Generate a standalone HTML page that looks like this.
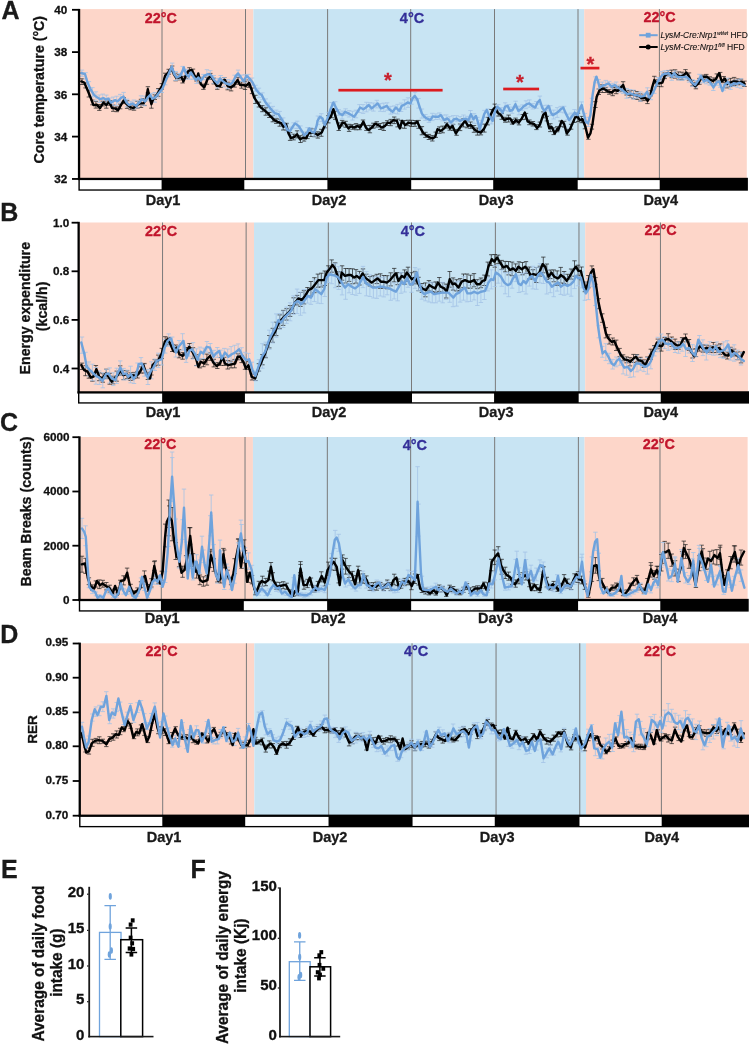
<!DOCTYPE html><html><head><meta charset="utf-8"><title>Figure</title><style>html,body{margin:0;padding:0;background:#fff}svg{will-change:transform;opacity:0.999}</style></head><body><svg width="749" height="1044" viewBox="0 0 749 1044" style="display:block;font-family:'Liberation Sans',sans-serif">
<rect width="749" height="1044" fill="#fff"/>
<g>
<rect x="79.90" y="9.1" width="173.50" height="169.85" fill="#fdd6c9"/>
<rect x="253.40" y="9.1" width="330.80" height="169.85" fill="#c8e4f3"/>
<rect x="584.20" y="9.1" width="162.60" height="169.85" fill="#fdd6c9"/>
<line x1="162.00" y1="9.1" x2="162.00" y2="178.95" stroke="#7a7a7a" stroke-width="1"/>
<line x1="245.50" y1="9.1" x2="245.50" y2="178.95" stroke="#7a7a7a" stroke-width="1"/>
<line x1="327.60" y1="9.1" x2="327.60" y2="178.95" stroke="#7a7a7a" stroke-width="1"/>
<line x1="410.70" y1="9.1" x2="410.70" y2="178.95" stroke="#7a7a7a" stroke-width="1"/>
<line x1="494.50" y1="9.1" x2="494.50" y2="178.95" stroke="#7a7a7a" stroke-width="1"/>
<line x1="578.00" y1="9.1" x2="578.00" y2="178.95" stroke="#7a7a7a" stroke-width="1"/>
<line x1="659.40" y1="9.1" x2="659.40" y2="178.95" stroke="#7a7a7a" stroke-width="1"/>
<text x="160.8" y="22.8" font-size="14.4" font-weight="bold" fill="#c1152c" stroke="#c1152c" stroke-width="0.3" text-anchor="middle" >22°C</text>
<text x="412.0" y="23.2" font-size="14.5" font-weight="bold" fill="#332e98" stroke="#332e98" stroke-width="0.3" text-anchor="middle" >4°C</text>
<text x="659.5" y="21.7" font-size="14.4" font-weight="bold" fill="#c1152c" stroke="#c1152c" stroke-width="0.3" text-anchor="middle" >22°C</text>
<path d="M82.0 78.8V84.5M79.8 78.8h4.4M79.8 84.5h4.4M85.5 82.9V87.9M83.3 82.9h4.4M83.3 87.9h4.4M88.9 90.1V97.0M86.7 90.1h4.4M86.7 97.0h4.4M92.4 100.1V104.8M90.2 100.1h4.4M90.2 104.8h4.4M95.9 101.5V108.1M93.7 101.5h4.4M93.7 108.1h4.4M99.3 104.5V110.4M97.1 104.5h4.4M97.1 110.4h4.4M102.8 101.2V105.9M100.6 101.2h4.4M100.6 105.9h4.4M106.3 101.8V108.2M104.1 101.8h4.4M104.1 108.2h4.4M109.7 100.6V105.3M107.5 100.6h4.4M107.5 105.3h4.4M113.2 105.1V111.3M111.0 105.1h4.4M111.0 111.3h4.4M116.7 106.9V111.7M114.5 106.9h4.4M114.5 111.7h4.4M120.2 104.0V108.8M118.0 104.0h4.4M118.0 108.8h4.4M123.6 97.5V103.6M121.4 97.5h4.4M121.4 103.6h4.4M127.1 100.7V108.4M124.9 100.7h4.4M124.9 108.4h4.4M130.6 104.8V109.7M128.4 104.8h4.4M128.4 109.7h4.4M134.0 104.9V110.2M131.8 104.9h4.4M131.8 110.2h4.4M137.5 101.3V108.1M135.3 101.3h4.4M135.3 108.1h4.4M141.0 99.3V107.5M138.8 99.3h4.4M138.8 107.5h4.4M144.4 98.7V105.4M142.2 98.7h4.4M142.2 105.4h4.4M147.9 86.7V92.7M145.7 86.7h4.4M145.7 92.7h4.4M151.4 100.0V108.2M149.2 100.0h4.4M149.2 108.2h4.4M154.8 94.8V99.5M152.6 94.8h4.4M152.6 99.5h4.4M158.3 88.5V96.3M156.1 88.5h4.4M156.1 96.3h4.4M161.8 83.6V89.2M159.6 83.6h4.4M159.6 89.2h4.4M165.2 73.2V78.3M163.0 73.2h4.4M163.0 78.3h4.4M168.7 69.3V74.2M166.5 69.3h4.4M166.5 74.2h4.4M172.2 66.0V71.6M170.0 66.0h4.4M170.0 71.6h4.4M175.7 73.2V80.8M173.5 73.2h4.4M173.5 80.8h4.4M179.1 74.7V79.9M176.9 74.7h4.4M176.9 79.9h4.4M182.6 76.3V83.0M180.4 76.3h4.4M180.4 83.0h4.4M186.1 71.4V78.4M183.9 71.4h4.4M183.9 78.4h4.4M189.5 67.7V73.6M187.3 67.7h4.4M187.3 73.6h4.4M193.0 69.1V75.7M190.8 69.1h4.4M190.8 75.7h4.4M196.5 76.3V81.0M194.3 76.3h4.4M194.3 81.0h4.4M199.9 78.1V82.8M197.7 78.1h4.4M197.7 82.8h4.4M203.4 84.1V89.4M201.2 84.1h4.4M201.2 89.4h4.4M206.9 77.2V84.3M204.7 77.2h4.4M204.7 84.3h4.4M210.3 73.4V79.5M208.1 73.4h4.4M208.1 79.5h4.4M213.8 78.2V83.9M211.6 78.2h4.4M211.6 83.9h4.4M217.3 82.5V89.3M215.1 82.5h4.4M215.1 89.3h4.4M220.7 81.3V87.5M218.5 81.3h4.4M218.5 87.5h4.4M224.2 77.5V83.1M222.0 77.5h4.4M222.0 83.1h4.4M227.7 82.2V89.8M225.5 82.2h4.4M225.5 89.8h4.4M231.1 83.7V90.9M228.9 83.7h4.4M228.9 90.9h4.4M234.6 81.7V87.1M232.4 81.7h4.4M232.4 87.1h4.4M238.1 77.6V84.3M235.9 77.6h4.4M235.9 84.3h4.4M241.6 81.8V88.2M239.4 81.8h4.4M239.4 88.2h4.4M245.0 81.7V89.5M242.8 81.7h4.4M242.8 89.5h4.4M248.5 80.0V87.3M246.3 80.0h4.4M246.3 87.3h4.4M252.0 88.0V93.6M249.8 88.0h4.4M249.8 93.6h4.4M255.4 95.3V103.5M253.2 95.3h4.4M253.2 103.5h4.4M258.9 102.1V107.0M256.7 102.1h4.4M256.7 107.0h4.4M262.4 105.6V111.7M260.2 105.6h4.4M260.2 111.7h4.4M265.8 107.8V115.2M263.6 107.8h4.4M263.6 115.2h4.4M269.3 112.4V117.5M267.1 112.4h4.4M267.1 117.5h4.4M272.8 115.4V121.8M270.6 115.4h4.4M270.6 121.8h4.4M276.2 118.8V123.4M274.0 118.8h4.4M274.0 123.4h4.4M279.7 119.1V126.2M277.5 119.1h4.4M277.5 126.2h4.4M283.2 122.6V130.0M281.0 122.6h4.4M281.0 130.0h4.4M286.6 123.3V130.0M284.4 123.3h4.4M284.4 130.0h4.4M290.1 132.5V140.4M287.9 132.5h4.4M287.9 140.4h4.4M293.6 134.2V139.9M291.4 134.2h4.4M291.4 139.9h4.4M297.1 130.8V137.9M294.9 130.8h4.4M294.9 137.9h4.4M300.5 135.7V142.5M298.3 135.7h4.4M298.3 142.5h4.4M304.0 134.4V141.1M301.8 134.4h4.4M301.8 141.1h4.4M307.5 132.4V138.6M305.3 132.4h4.4M305.3 138.6h4.4M310.9 128.8V136.5M308.7 128.8h4.4M308.7 136.5h4.4M314.4 128.6V136.7M312.2 128.6h4.4M312.2 136.7h4.4M317.9 131.8V138.1M315.7 131.8h4.4M315.7 138.1h4.4M321.3 129.3V136.3M319.1 129.3h4.4M319.1 136.3h4.4M324.8 123.1V127.9M322.6 123.1h4.4M322.6 127.9h4.4M328.3 115.7V122.9M326.1 115.7h4.4M326.1 122.9h4.4M331.7 110.7V117.7M329.5 110.7h4.4M329.5 117.7h4.4M335.2 111.1V119.4M333.0 111.1h4.4M333.0 119.4h4.4M338.7 122.9V130.5M336.5 122.9h4.4M336.5 130.5h4.4M342.1 120.4V126.0M339.9 120.4h4.4M339.9 126.0h4.4M345.6 121.3V127.3M343.4 121.3h4.4M343.4 127.3h4.4M349.1 124.3V131.4M346.9 124.3h4.4M346.9 131.4h4.4M352.5 124.7V129.3M350.3 124.7h4.4M350.3 129.3h4.4M356.0 123.6V129.8M353.8 123.6h4.4M353.8 129.8h4.4M359.5 124.6V129.7M357.3 124.6h4.4M357.3 129.7h4.4M363.0 120.0V125.0M360.8 120.0h4.4M360.8 125.0h4.4M366.4 125.7V130.4M364.2 125.7h4.4M364.2 130.4h4.4M369.9 125.4V132.8M367.7 125.4h4.4M367.7 132.8h4.4M373.4 123.2V128.2M371.2 123.2h4.4M371.2 128.2h4.4M376.8 121.7V127.1M374.6 121.7h4.4M374.6 127.1h4.4M380.3 123.5V129.5M378.1 123.5h4.4M378.1 129.5h4.4M383.8 122.7V130.5M381.6 122.7h4.4M381.6 130.5h4.4M387.2 120.7V125.5M385.0 120.7h4.4M385.0 125.5h4.4M390.7 119.4V125.7M388.5 119.4h4.4M388.5 125.7h4.4M394.2 117.0V123.6M392.0 117.0h4.4M392.0 123.6h4.4M397.6 119.1V126.9M395.4 119.1h4.4M395.4 126.9h4.4M401.1 120.3V127.9M398.9 120.3h4.4M398.9 127.9h4.4M404.6 120.5V128.3M402.4 120.5h4.4M402.4 128.3h4.4M408.0 120.2V125.7M405.8 120.2h4.4M405.8 125.7h4.4M411.5 120.3V126.4M409.3 120.3h4.4M409.3 126.4h4.4M415.0 120.5V126.3M412.8 120.5h4.4M412.8 126.3h4.4M418.5 120.4V128.3M416.3 120.4h4.4M416.3 128.3h4.4M421.9 126.6V134.8M419.7 126.6h4.4M419.7 134.8h4.4M425.4 132.3V137.4M423.2 132.3h4.4M423.2 137.4h4.4M428.9 134.4V139.5M426.7 134.4h4.4M426.7 139.5h4.4M432.3 135.6V141.0M430.1 135.6h4.4M430.1 141.0h4.4M435.8 132.1V137.4M433.6 132.1h4.4M433.6 137.4h4.4M439.3 126.9V133.3M437.1 126.9h4.4M437.1 133.3h4.4M442.7 126.1V132.8M440.5 126.1h4.4M440.5 132.8h4.4M446.2 122.7V128.1M444.0 122.7h4.4M444.0 128.1h4.4M449.7 125.7V130.2M447.5 125.7h4.4M447.5 130.2h4.4M453.1 124.3V130.4M450.9 124.3h4.4M450.9 130.4h4.4M456.6 129.4V135.3M454.4 129.4h4.4M454.4 135.3h4.4M460.1 124.0V130.6M457.9 124.0h4.4M457.9 130.6h4.4M463.5 118.8V126.9M461.3 118.8h4.4M461.3 126.9h4.4M467.0 120.7V127.8M464.8 120.7h4.4M464.8 127.8h4.4M470.5 122.0V128.4M468.3 122.0h4.4M468.3 128.4h4.4M474.0 125.5V132.3M471.8 125.5h4.4M471.8 132.3h4.4M477.4 128.0V135.1M475.2 128.0h4.4M475.2 135.1h4.4M480.9 130.3V134.9M478.7 130.3h4.4M478.7 134.9h4.4M484.4 124.1V132.1M482.2 124.1h4.4M482.2 132.1h4.4M487.8 117.5V124.9M485.6 117.5h4.4M485.6 124.9h4.4M491.3 109.5V117.3M489.1 109.5h4.4M489.1 117.3h4.4M494.8 104.1V111.6M492.6 104.1h4.4M492.6 111.6h4.4M498.2 110.1V116.1M496.0 110.1h4.4M496.0 116.1h4.4M501.7 113.3V119.3M499.5 113.3h4.4M499.5 119.3h4.4M505.2 117.3V122.2M503.0 117.3h4.4M503.0 122.2h4.4M508.6 115.1V122.0M506.4 115.1h4.4M506.4 122.0h4.4M512.1 119.4V124.1M509.9 119.4h4.4M509.9 124.1h4.4M515.6 118.1V122.9M513.4 118.1h4.4M513.4 122.9h4.4M519.0 119.6V124.9M516.8 119.6h4.4M516.8 124.9h4.4M522.5 114.5V119.6M520.3 114.5h4.4M520.3 119.6h4.4M526.0 113.4V119.2M523.8 113.4h4.4M523.8 119.2h4.4M529.4 120.0V124.7M527.2 120.0h4.4M527.2 124.7h4.4M532.9 121.5V126.0M530.7 121.5h4.4M530.7 126.0h4.4M536.4 124.6V129.6M534.2 124.6h4.4M534.2 129.6h4.4M539.9 122.1V127.0M537.7 122.1h4.4M537.7 127.0h4.4M543.3 111.9V117.8M541.1 111.9h4.4M541.1 117.8h4.4M546.8 116.4V120.9M544.6 116.4h4.4M544.6 120.9h4.4M550.3 123.7V131.6M548.1 123.7h4.4M548.1 131.6h4.4M553.7 127.8V134.6M551.5 127.8h4.4M551.5 134.6h4.4M557.2 126.7V131.8M555.0 126.7h4.4M555.0 131.8h4.4M560.7 121.0V126.4M558.5 121.0h4.4M558.5 126.4h4.4M564.1 121.3V127.1M561.9 121.3h4.4M561.9 127.1h4.4M567.6 129.3V135.2M565.4 129.3h4.4M565.4 135.2h4.4M571.1 124.3V129.2M568.9 124.3h4.4M568.9 129.2h4.4M574.5 114.8V122.5M572.3 114.8h4.4M572.3 122.5h4.4M578.0 113.2V121.5M575.8 113.2h4.4M575.8 121.5h4.4M581.5 116.4V122.7M579.3 116.4h4.4M579.3 122.7h4.4M584.9 122.4V128.8M582.7 122.4h4.4M582.7 128.8h4.4M588.4 134.5V139.3M586.2 134.5h4.4M586.2 139.3h4.4M591.9 124.2V129.1M589.7 124.2h4.4M589.7 129.1h4.4M595.4 101.7V107.5M593.2 101.7h4.4M593.2 107.5h4.4M598.8 89.0V94.5M596.6 89.0h4.4M596.6 94.5h4.4M602.3 84.8V92.5M600.1 84.8h4.4M600.1 92.5h4.4M605.8 87.4V92.5M603.6 87.4h4.4M603.6 92.5h4.4M609.2 89.6V94.2M607.0 89.6h4.4M607.0 94.2h4.4M612.7 87.6V95.7M610.5 87.6h4.4M610.5 95.7h4.4M616.2 87.2V93.7M614.0 87.2h4.4M614.0 93.7h4.4M619.6 86.3V91.3M617.4 86.3h4.4M617.4 91.3h4.4M623.1 81.7V88.3M620.9 81.7h4.4M620.9 88.3h4.4M626.6 90.4V95.0M624.4 90.4h4.4M624.4 95.0h4.4M630.0 90.9V97.5M627.8 90.9h4.4M627.8 97.5h4.4M633.5 90.5V98.7M631.3 90.5h4.4M631.3 98.7h4.4M637.0 91.6V99.4M634.8 91.6h4.4M634.8 99.4h4.4M640.4 93.8V101.0M638.2 93.8h4.4M638.2 101.0h4.4M643.9 95.1V100.6M641.7 95.1h4.4M641.7 100.6h4.4M647.4 97.7V103.6M645.2 97.7h4.4M645.2 103.6h4.4M650.8 90.7V95.8M648.6 90.7h4.4M648.6 95.8h4.4M654.3 76.3V83.7M652.1 76.3h4.4M652.1 83.7h4.4M657.8 79.7V86.2M655.6 79.7h4.4M655.6 86.2h4.4M661.3 79.2V86.7M659.1 79.2h4.4M659.1 86.7h4.4M664.7 72.9V78.6M662.5 72.9h4.4M662.5 78.6h4.4M668.2 70.5V75.9M666.0 70.5h4.4M666.0 75.9h4.4M671.7 70.1V77.7M669.5 70.1h4.4M669.5 77.7h4.4M675.1 69.8V78.1M672.9 69.8h4.4M672.9 78.1h4.4M678.6 71.9V79.7M676.4 71.9h4.4M676.4 79.7h4.4M682.1 72.2V79.8M679.9 72.2h4.4M679.9 79.8h4.4M685.5 69.6V77.2M683.3 69.6h4.4M683.3 77.2h4.4M689.0 72.9V80.2M686.8 72.9h4.4M686.8 80.2h4.4M692.5 80.5V85.9M690.3 80.5h4.4M690.3 85.9h4.4M695.9 82.3V88.8M693.7 82.3h4.4M693.7 88.8h4.4M699.4 78.4V84.3M697.2 78.4h4.4M697.2 84.3h4.4M702.9 75.1V79.7M700.7 75.1h4.4M700.7 79.7h4.4M706.3 74.4V79.0M704.1 74.4h4.4M704.1 79.0h4.4M709.8 76.8V82.4M707.6 76.8h4.4M707.6 82.4h4.4M713.3 77.9V83.4M711.1 77.9h4.4M711.1 83.4h4.4M716.8 73.9V81.0M714.6 73.9h4.4M714.6 81.0h4.4M720.2 72.4V80.5M718.0 72.4h4.4M718.0 80.5h4.4M723.7 76.5V82.7M721.5 76.5h4.4M721.5 82.7h4.4M727.2 79.8V87.9M725.0 79.8h4.4M725.0 87.9h4.4M730.6 78.4V86.6M728.4 78.4h4.4M728.4 86.6h4.4M734.1 77.4V85.6M731.9 77.4h4.4M731.9 85.6h4.4M737.6 78.9V84.8M735.4 78.9h4.4M735.4 84.8h4.4M741.0 79.2V84.6M738.8 79.2h4.4M738.8 84.6h4.4M744.5 81.1V86.5M742.3 81.1h4.4M742.3 86.5h4.4" stroke="#1c1c1c" stroke-width="0.7" fill="none"/>
<path d="M82.0 70.1V76.3M79.8 70.1h4.4M79.8 76.3h4.4M85.5 72.6V78.9M83.3 72.6h4.4M83.3 78.9h4.4M88.9 81.6V89.8M86.7 81.6h4.4M86.7 89.8h4.4M92.4 87.6V97.0M90.2 87.6h4.4M90.2 97.0h4.4M95.9 91.8V100.9M93.7 91.8h4.4M93.7 100.9h4.4M99.3 95.0V102.5M97.1 95.0h4.4M97.1 102.5h4.4M102.8 94.1V102.4M100.6 94.1h4.4M100.6 102.4h4.4M106.3 95.1V104.0M104.1 95.1h4.4M104.1 104.0h4.4M109.7 98.0V103.7M107.5 98.0h4.4M107.5 103.7h4.4M113.2 97.1V105.4M111.0 97.1h4.4M111.0 105.4h4.4M116.7 96.2V105.7M114.5 96.2h4.4M114.5 105.7h4.4M120.2 94.4V103.3M118.0 94.4h4.4M118.0 103.3h4.4M123.6 92.4V101.2M121.4 92.4h4.4M121.4 101.2h4.4M127.1 99.2V106.7M124.9 99.2h4.4M124.9 106.7h4.4M130.6 101.4V107.5M128.4 101.4h4.4M128.4 107.5h4.4M134.0 100.0V108.9M131.8 100.0h4.4M131.8 108.9h4.4M137.5 100.9V107.8M135.3 100.9h4.4M135.3 107.8h4.4M141.0 95.8V104.8M138.8 95.8h4.4M138.8 104.8h4.4M144.4 96.1V105.8M142.2 96.1h4.4M142.2 105.8h4.4M147.9 93.7V100.9M145.7 93.7h4.4M145.7 100.9h4.4M151.4 93.4V100.5M149.2 93.4h4.4M149.2 100.5h4.4M154.8 92.5V102.2M152.6 92.5h4.4M152.6 102.2h4.4M158.3 89.5V98.1M156.1 89.5h4.4M156.1 98.1h4.4M161.8 86.4V92.5M159.6 86.4h4.4M159.6 92.5h4.4M165.2 78.9V84.8M163.0 78.9h4.4M163.0 84.8h4.4M168.7 70.8V76.8M166.5 70.8h4.4M166.5 76.8h4.4M172.2 63.1V72.6M170.0 63.1h4.4M170.0 72.6h4.4M175.7 71.5V80.5M173.5 71.5h4.4M173.5 80.5h4.4M179.1 73.4V79.4M176.9 73.4h4.4M176.9 79.4h4.4M182.6 66.4V75.5M180.4 66.4h4.4M180.4 75.5h4.4M186.1 69.4V79.2M183.9 69.4h4.4M183.9 79.2h4.4M189.5 70.8V79.1M187.3 70.8h4.4M187.3 79.1h4.4M193.0 72.4V79.3M190.8 72.4h4.4M190.8 79.3h4.4M196.5 75.6V83.4M194.3 75.6h4.4M194.3 83.4h4.4M199.9 76.8V82.7M197.7 76.8h4.4M197.7 82.7h4.4M203.4 74.4V79.8M201.2 74.4h4.4M201.2 79.8h4.4M206.9 69.7V79.4M204.7 69.7h4.4M204.7 79.4h4.4M210.3 70.7V79.0M208.1 70.7h4.4M208.1 79.0h4.4M213.8 75.5V83.3M211.6 75.5h4.4M211.6 83.3h4.4M217.3 78.4V88.0M215.1 78.4h4.4M215.1 88.0h4.4M220.7 75.5V82.8M218.5 75.5h4.4M218.5 82.8h4.4M224.2 77.5V86.8M222.0 77.5h4.4M222.0 86.8h4.4M227.7 79.6V88.6M225.5 79.6h4.4M225.5 88.6h4.4M231.1 80.3V86.6M228.9 80.3h4.4M228.9 86.6h4.4M234.6 75.2V81.7M232.4 75.2h4.4M232.4 81.7h4.4M238.1 70.1V76.7M235.9 70.1h4.4M235.9 76.7h4.4M241.6 75.1V81.5M239.4 75.1h4.4M239.4 81.5h4.4M245.0 74.7V82.7M242.8 74.7h4.4M242.8 82.7h4.4M248.5 74.4V80.9M246.3 74.4h4.4M246.3 80.9h4.4M252.0 78.0V85.3M249.8 78.0h4.4M249.8 85.3h4.4M255.4 85.3V91.2M253.2 85.3h4.4M253.2 91.2h4.4M258.9 88.2V97.6M256.7 88.2h4.4M256.7 97.6h4.4M262.4 92.8V99.7M260.2 92.8h4.4M260.2 99.7h4.4M265.8 98.9V106.3M263.6 98.9h4.4M263.6 106.3h4.4M269.3 103.0V111.0M267.1 103.0h4.4M267.1 111.0h4.4M272.8 106.4V115.8M270.6 106.4h4.4M270.6 115.8h4.4M276.2 110.1V117.3M274.0 110.1h4.4M274.0 117.3h4.4M279.7 111.4V120.9M277.5 111.4h4.4M277.5 120.9h4.4M283.2 117.9V125.5M281.0 117.9h4.4M281.0 125.5h4.4M286.6 124.3V132.1M284.4 124.3h4.4M284.4 132.1h4.4M290.1 127.0V134.7M287.9 127.0h4.4M287.9 134.7h4.4M293.6 122.8V128.2M291.4 122.8h4.4M291.4 128.2h4.4M297.1 121.2V128.5M294.9 121.2h4.4M294.9 128.5h4.4M300.5 125.9V132.0M298.3 125.9h4.4M298.3 132.0h4.4M304.0 131.9V137.2M301.8 131.9h4.4M301.8 137.2h4.4M307.5 127.6V136.6M305.3 127.6h4.4M305.3 136.6h4.4M310.9 127.6V133.7M308.7 127.6h4.4M308.7 133.7h4.4M314.4 128.6V136.1M312.2 128.6h4.4M312.2 136.1h4.4M317.9 116.0V124.6M315.7 116.0h4.4M315.7 124.6h4.4M321.3 113.7V121.5M319.1 113.7h4.4M319.1 121.5h4.4M324.8 121.5V128.3M322.6 121.5h4.4M322.6 128.3h4.4M328.3 112.3V120.0M326.1 112.3h4.4M326.1 120.0h4.4M331.7 102.5V110.3M329.5 102.5h4.4M329.5 110.3h4.4M335.2 101.7V110.6M333.0 101.7h4.4M333.0 110.6h4.4M338.7 109.6V115.4M336.5 109.6h4.4M336.5 115.4h4.4M342.1 111.0V118.9M339.9 111.0h4.4M339.9 118.9h4.4M345.6 108.8V115.2M343.4 108.8h4.4M343.4 115.2h4.4M349.1 110.5V117.0M346.9 110.5h4.4M346.9 117.0h4.4M352.5 111.3V120.1M350.3 111.3h4.4M350.3 120.1h4.4M356.0 110.2V117.8M353.8 110.2h4.4M353.8 117.8h4.4M359.5 104.6V112.5M357.3 104.6h4.4M357.3 112.5h4.4M363.0 104.6V113.4M360.8 104.6h4.4M360.8 113.4h4.4M366.4 102.3V111.8M364.2 102.3h4.4M364.2 111.8h4.4M369.9 102.7V110.0M367.7 102.7h4.4M367.7 110.0h4.4M373.4 103.0V111.1M371.2 103.0h4.4M371.2 111.1h4.4M376.8 100.3V107.9M374.6 100.3h4.4M374.6 107.9h4.4M380.3 103.7V111.3M378.1 103.7h4.4M378.1 111.3h4.4M383.8 103.1V111.6M381.6 103.1h4.4M381.6 111.6h4.4M387.2 102.8V110.2M385.0 102.8h4.4M385.0 110.2h4.4M390.7 106.4V114.1M388.5 106.4h4.4M388.5 114.1h4.4M394.2 105.9V113.4M392.0 105.9h4.4M392.0 113.4h4.4M397.6 104.4V114.0M395.4 104.4h4.4M395.4 114.0h4.4M401.1 103.0V111.5M398.9 103.0h4.4M398.9 111.5h4.4M404.6 99.8V109.1M402.4 99.8h4.4M402.4 109.1h4.4M408.0 97.8V107.4M405.8 97.8h4.4M405.8 107.4h4.4M411.5 97.7V104.2M409.3 97.7h4.4M409.3 104.2h4.4M415.0 92.2V100.1M412.8 92.2h4.4M412.8 100.1h4.4M418.5 98.5V108.1M416.3 98.5h4.4M416.3 108.1h4.4M421.9 109.0V118.1M419.7 109.0h4.4M419.7 118.1h4.4M425.4 114.5V120.4M423.2 114.5h4.4M423.2 120.4h4.4M428.9 116.5V122.4M426.7 116.5h4.4M426.7 122.4h4.4M432.3 113.3V120.6M430.1 113.3h4.4M430.1 120.6h4.4M435.8 113.9V119.5M433.6 113.9h4.4M433.6 119.5h4.4M439.3 112.9V119.3M437.1 112.9h4.4M437.1 119.3h4.4M442.7 115.1V120.8M440.5 115.1h4.4M440.5 120.8h4.4M446.2 114.9V123.3M444.0 114.9h4.4M444.0 123.3h4.4M449.7 116.6V125.5M447.5 116.6h4.4M447.5 125.5h4.4M453.1 115.6V125.0M450.9 115.6h4.4M450.9 125.0h4.4M456.6 115.7V121.7M454.4 115.7h4.4M454.4 121.7h4.4M460.1 116.6V125.2M457.9 116.6h4.4M457.9 125.2h4.4M463.5 115.0V123.3M461.3 115.0h4.4M461.3 123.3h4.4M467.0 116.3V122.3M464.8 116.3h4.4M464.8 122.3h4.4M470.5 110.5V119.9M468.3 110.5h4.4M468.3 119.9h4.4M474.0 113.6V123.3M471.8 113.6h4.4M471.8 123.3h4.4M477.4 117.4V123.7M475.2 117.4h4.4M475.2 123.7h4.4M480.9 120.4V130.1M478.7 120.4h4.4M478.7 130.1h4.4M484.4 110.4V117.5M482.2 110.4h4.4M482.2 117.5h4.4M487.8 108.9V116.4M485.6 108.9h4.4M485.6 116.4h4.4M491.3 114.1V123.9M489.1 114.1h4.4M489.1 123.9h4.4M494.8 107.7V116.8M492.6 107.7h4.4M492.6 116.8h4.4M498.2 104.6V110.7M496.0 104.6h4.4M496.0 110.7h4.4M501.7 107.7V115.0M499.5 107.7h4.4M499.5 115.0h4.4M505.2 102.8V110.5M503.0 102.8h4.4M503.0 110.5h4.4M508.6 104.5V111.4M506.4 104.5h4.4M506.4 111.4h4.4M512.1 107.1V113.3M509.9 107.1h4.4M509.9 113.3h4.4M515.6 101.2V108.0M513.4 101.2h4.4M513.4 108.0h4.4M519.0 106.2V114.8M516.8 106.2h4.4M516.8 114.8h4.4M522.5 104.9V110.3M520.3 104.9h4.4M520.3 110.3h4.4M526.0 100.8V108.7M523.8 100.8h4.4M523.8 108.7h4.4M529.4 99.9V107.2M527.2 99.9h4.4M527.2 107.2h4.4M532.9 103.6V109.0M530.7 103.6h4.4M530.7 109.0h4.4M536.4 101.5V108.3M534.2 101.5h4.4M534.2 108.3h4.4M539.9 96.1V104.3M537.7 96.1h4.4M537.7 104.3h4.4M543.3 105.6V113.2M541.1 105.6h4.4M541.1 113.2h4.4M546.8 105.2V110.8M544.6 105.2h4.4M544.6 110.8h4.4M550.3 105.7V115.5M548.1 105.7h4.4M548.1 115.5h4.4M553.7 110.1V119.0M551.5 110.1h4.4M551.5 119.0h4.4M557.2 107.6V117.4M555.0 107.6h4.4M555.0 117.4h4.4M560.7 106.4V112.2M558.5 106.4h4.4M558.5 112.2h4.4M564.1 106.3V112.8M561.9 106.3h4.4M561.9 112.8h4.4M567.6 114.2V119.7M565.4 114.2h4.4M565.4 119.7h4.4M571.1 113.1V122.0M568.9 113.1h4.4M568.9 122.0h4.4M574.5 109.5V116.1M572.3 109.5h4.4M572.3 116.1h4.4M578.0 110.8V116.7M575.8 110.8h4.4M575.8 116.7h4.4M581.5 101.9V109.2M579.3 101.9h4.4M579.3 109.2h4.4M584.9 113.4V122.8M582.7 113.4h4.4M582.7 122.8h4.4M588.4 117.4V126.5M586.2 117.4h4.4M586.2 126.5h4.4M591.9 98.3V104.8M589.7 98.3h4.4M589.7 104.8h4.4M595.4 76.8V82.8M593.2 76.8h4.4M593.2 82.8h4.4M598.8 79.6V89.1M596.6 79.6h4.4M596.6 89.1h4.4M602.3 82.1V90.0M600.1 82.1h4.4M600.1 90.0h4.4M605.8 80.4V88.9M603.6 80.4h4.4M603.6 88.9h4.4M609.2 81.4V87.1M607.0 81.4h4.4M607.0 87.1h4.4M612.7 83.3V88.9M610.5 83.3h4.4M610.5 88.9h4.4M616.2 82.0V90.5M614.0 82.0h4.4M614.0 90.5h4.4M619.6 84.9V92.2M617.4 84.9h4.4M617.4 92.2h4.4M623.1 88.0V93.6M620.9 88.0h4.4M620.9 93.6h4.4M626.6 88.6V98.2M624.4 88.6h4.4M624.4 98.2h4.4M630.0 89.5V97.7M627.8 89.5h4.4M627.8 97.7h4.4M633.5 90.1V99.1M631.3 90.1h4.4M631.3 99.1h4.4M637.0 92.5V98.2M634.8 92.5h4.4M634.8 98.2h4.4M640.4 91.9V101.1M638.2 91.9h4.4M638.2 101.1h4.4M643.9 93.2V98.8M641.7 93.2h4.4M641.7 98.8h4.4M647.4 87.8V97.1M645.2 87.8h4.4M645.2 97.1h4.4M650.8 92.3V99.7M648.6 92.3h4.4M648.6 99.7h4.4M654.3 86.5V93.4M652.1 86.5h4.4M652.1 93.4h4.4M657.8 77.5V85.3M655.6 77.5h4.4M655.6 85.3h4.4M661.3 71.6V81.2M659.1 71.6h4.4M659.1 81.2h4.4M664.7 70.8V77.3M662.5 70.8h4.4M662.5 77.3h4.4M668.2 70.4V76.3M666.0 70.4h4.4M666.0 76.3h4.4M671.7 72.6V80.3M669.5 72.6h4.4M669.5 80.3h4.4M675.1 71.0V77.4M672.9 71.0h4.4M672.9 77.4h4.4M678.6 74.1V79.9M676.4 74.1h4.4M676.4 79.9h4.4M682.1 74.3V80.3M679.9 74.3h4.4M679.9 80.3h4.4M685.5 74.0V79.6M683.3 74.0h4.4M683.3 79.6h4.4M689.0 75.9V82.1M686.8 75.9h4.4M686.8 82.1h4.4M692.5 79.6V86.4M690.3 79.6h4.4M690.3 86.4h4.4M695.9 80.5V87.2M693.7 80.5h4.4M693.7 87.2h4.4M699.4 74.3V83.0M697.2 74.3h4.4M697.2 83.0h4.4M702.9 76.2V82.8M700.7 76.2h4.4M700.7 82.8h4.4M706.3 76.2V83.8M704.1 76.2h4.4M704.1 83.8h4.4M709.8 79.0V85.1M707.6 79.0h4.4M707.6 85.1h4.4M713.3 83.6V90.5M711.1 83.6h4.4M711.1 90.5h4.4M716.8 79.9V85.3M714.6 79.9h4.4M714.6 85.3h4.4M720.2 80.9V87.3M718.0 80.9h4.4M718.0 87.3h4.4M723.7 84.8V90.2M721.5 84.8h4.4M721.5 90.2h4.4M727.2 78.2V86.9M725.0 78.2h4.4M725.0 86.9h4.4M730.6 81.6V89.4M728.4 81.6h4.4M728.4 89.4h4.4M734.1 80.3V86.5M731.9 80.3h4.4M731.9 86.5h4.4M737.6 79.8V87.3M735.4 79.8h4.4M735.4 87.3h4.4M741.0 78.8V88.3M738.8 78.8h4.4M738.8 88.3h4.4" stroke="#a3c3e6" stroke-width="0.8" fill="none"/>
<path d="M81.3 81.4L84.2 82.5L87.5 90.0L90.9 98.4L93.4 105.1L96.7 104.7L100.0 108.1L103.4 102.6L106.4 105.1L109.2 101.7L112.0 108.1L115.1 108.4L118.1 110.1L120.9 105.1L123.7 100.4L126.7 104.2L130.1 107.1L133.4 108.1L136.7 105.1L140.1 103.4L143.4 103.4L145.9 100.1L147.8 89.2L149.3 96.7L151.4 104.2L153.4 98.7L156.8 95.1L160.1 89.2L162.6 85.0L165.1 75.9L167.6 73.4L169.3 70.9L171.8 67.5L173.8 74.2L176.0 77.5L178.5 77.5L181.0 76.7L183.5 81.4L186.0 75.0L188.5 70.9L191.8 70.0L194.3 75.0L196.8 79.2L198.3 73.4L200.8 84.2L204.2 87.5L207.5 79.2L210.9 75.9L214.2 81.7L216.7 85.9L220.0 85.9L222.5 80.9L225.0 80.0L227.5 85.9L230.9 87.5L234.2 85.0L237.6 80.0L240.1 85.0L243.4 85.0L245.9 85.9L249.2 83.0L251.7 90.0L254.2 97.6L257.6 102.6L260.9 107.6L264.3 110.1L267.6 113.1L270.9 116.7L274.3 120.1L277.6 121.8L280.9 123.1L283.5 126.8L286.0 124.3L288.5 133.4L291.0 138.1L294.3 136.8L297.1 134.3L300.1 139.3L303.5 137.6L306.0 138.4L308.5 133.4L311.0 132.6L314.3 132.6L317.7 135.1L321.7 132.6L324.2 126.7L327.5 120.1L330.9 116.7L333.4 109.2L335.9 117.6L339.2 128.4L342.5 122.6L345.0 123.4L348.4 128.4L350.9 126.4L354.2 127.6L357.6 125.9L360.1 127.6L363.4 121.7L365.9 127.6L368.7 130.1L371.7 127.6L375.1 123.7L378.4 125.1L381.8 127.6L385.1 125.9L387.6 122.6L390.1 123.1L393.4 120.1L396.8 120.9L399.8 128.4L402.1 120.9L405.1 125.1L408.5 122.6L411.8 123.4L415.1 123.4L417.1 121.7L420.1 127.6L423.5 133.4L426.8 135.9L430.2 137.6L432.7 138.4L435.2 136.7L437.5 129.2L440.8 130.9L444.2 128.4L447.0 124.2L450.0 128.4L452.5 125.9L455.9 133.4L459.2 128.4L462.5 124.2L465.0 120.9L468.0 125.9L470.9 125.1L474.2 129.2L477.6 131.7L480.9 132.6L484.2 128.4L487.6 121.7L490.9 114.2L493.4 109.2L495.1 107.5L497.6 112.6L500.9 115.1L504.3 120.1L507.6 118.7L510.1 118.4L513.1 123.4L515.9 120.1L518.8 122.6L521.8 118.4L524.8 112.6L527.6 121.4L531.0 123.1L534.3 124.2L537.1 128.1L540.1 124.2L543.1 115.1L545.5 112.6L547.1 120.1L549.3 128.4L551.5 126.7L554.8 133.4L557.7 128.4L558.3 130.1L561.7 120.9L564.2 124.3L566.7 133.4L570.0 129.3L572.5 123.4L575.0 117.6L577.5 116.7L580.0 120.1L582.5 119.2L585.4 126.8L588.0 137.6L590.4 133.4L592.6 123.4L594.7 108.4L596.7 96.7L599.2 90.9L602.6 88.4L605.9 90.0L608.4 91.7L611.7 92.5L614.7 90.0L617.6 90.9L620.9 87.5L623.1 85.0L625.4 91.7L628.4 94.2L631.8 94.2L635.1 95.0L638.4 95.9L641.8 98.4L645.1 97.6L647.6 100.9L650.1 96.7L652.1 87.5L654.3 80.0L656.5 82.5L659.3 83.4L662.4 82.7L664.8 75.5L667.7 73.2L670.7 73.2L673.1 75.0L675.4 73.8L677.8 75.5L680.8 76.7L683.8 75.0L686.4 72.6L689.1 76.7L691.5 82.1L695.1 86.2L698.0 83.9L701.0 78.5L704.0 76.7L706.9 76.7L709.9 79.7L712.9 80.9L715.8 79.1L719.2 73.2L721.8 81.5L724.8 78.5L727.1 83.9L730.1 82.7L733.1 81.5L736.0 81.5L739.0 82.1L742.0 81.8L744.6 83.9" stroke="#000" stroke-width="2.4" fill="none" stroke-linejoin="round" stroke-linecap="round"/>
<path d="M81.3 73.0L85.0 74.2L87.5 82.5L90.9 90.0L94.2 95.1L97.5 97.6L100.0 99.2L103.4 98.1L105.9 99.7L108.4 98.7L110.9 102.6L115.1 100.1L117.6 101.4L120.9 98.1L123.4 96.4L126.7 102.6L129.2 105.1L132.6 103.4L135.9 105.9L139.3 102.6L141.8 99.2L145.1 101.4L147.6 97.6L150.1 95.1L152.6 98.7L155.9 96.7L159.3 92.6L162.6 88.4L166.0 80.0L169.3 72.5L171.8 66.7L174.3 74.2L176.8 77.5L180.1 75.9L182.6 70.9L183.8 67.5L186.0 74.2L188.5 76.7L191.0 72.5L193.5 76.7L196.0 80.0L198.3 77.5L200.8 80.9L204.2 75.9L207.5 74.2L210.9 75.0L214.2 80.0L217.5 83.4L220.0 78.4L222.5 80.9L225.9 83.4L229.2 84.7L232.6 82.5L235.9 75.9L238.1 73.4L240.9 77.5L243.7 80.9L246.7 75.9L250.1 79.2L252.6 82.5L255.9 89.2L259.3 93.4L261.8 95.1L265.1 101.7L268.4 105.9L271.8 110.1L275.1 113.4L278.4 114.2L281.8 119.3L285.1 125.1L287.6 130.1L290.1 130.9L292.6 126.8L295.1 123.4L298.5 125.9L301.8 130.9L304.3 135.1L306.8 133.4L309.3 128.4L311.8 131.8L314.3 132.6L316.8 125.1L317.5 120.9L320.0 116.7L322.5 118.4L324.7 125.1L327.5 118.4L330.9 108.4L333.4 102.5L335.9 107.5L339.2 113.4L342.5 115.1L345.0 111.7L348.4 113.4L350.9 114.7L354.2 116.7L357.6 111.7L360.1 107.5L363.4 109.2L365.9 107.5L368.7 105.0L371.7 108.4L374.7 105.9L377.6 103.4L380.9 108.4L383.4 107.5L386.8 105.9L389.3 109.2L392.6 111.7L395.9 107.5L399.3 110.9L401.8 105.9L405.1 104.2L407.6 102.5L410.5 103.4L412.6 98.4L414.8 95.9L417.1 99.2L419.3 105.9L421.8 113.4L424.3 116.7L426.8 118.4L430.2 120.1L432.7 116.4L435.2 116.7L438.3 116.7L440.8 115.1L444.2 120.1L447.5 118.4L450.9 122.6L454.2 119.2L456.7 118.7L460.0 120.9L463.4 119.2L465.9 118.7L468.4 120.1L470.9 114.2L473.4 119.2L475.9 115.9L478.1 122.6L479.7 129.2L481.7 122.6L484.2 114.2L486.7 110.0L489.2 115.9L492.6 120.9L495.1 110.9L497.1 106.7L500.1 109.2L502.6 112.6L505.1 106.7L507.6 105.9L510.1 110.9L512.6 110.0L515.4 104.2L518.4 110.9L520.9 109.2L524.3 105.9L526.8 104.2L529.3 103.4L532.1 105.9L535.1 107.5L537.6 102.5L539.8 100.0L542.1 107.5L544.3 110.9L546.5 108.4L548.5 105.9L551.0 112.6L552.7 115.1L556.0 113.4L558.3 111.7L560.8 109.2L563.3 107.6L565.8 113.4L569.2 120.1L571.7 116.7L574.7 112.6L577.5 115.1L580.0 108.4L581.7 105.1L583.7 113.4L585.9 121.7L588.0 123.4L590.4 115.1L592.6 95.0L594.7 81.7L596.4 76.7L598.1 81.7L599.7 87.5L602.6 85.9L605.1 85.0L608.4 83.4L611.7 86.7L614.7 85.0L617.6 87.5L620.9 89.2L624.3 91.7L627.6 94.2L630.9 93.4L634.3 95.0L637.6 95.4L640.9 96.7L644.3 95.9L647.1 91.7L649.3 97.6L651.8 95.0L655.1 88.4L657.6 81.7L661.0 76.7L663.0 74.4L665.9 73.8L668.9 73.2L671.9 76.7L674.3 73.2L677.2 76.7L680.2 77.3L683.2 77.3L686.1 76.7L689.1 79.1L692.1 82.7L695.1 85.1L698.0 80.9L701.0 76.1L704.0 81.5L706.9 79.7L709.9 82.1L713.5 87.4L716.4 82.7L719.4 81.5L722.4 91.0L724.8 84.5L727.7 82.1L730.7 85.6L733.7 83.3L736.6 83.9L739.6 82.7L742.6 84.5L744.4 85.6" stroke="#6fa3dc" stroke-width="2.4" fill="none" stroke-linejoin="round" stroke-linecap="round"/>
<rect x="77.90" y="8.9" width="2.3" height="171.04999999999998" fill="#000"/>
<rect x="78.40" y="177.79999999999998" width="669.50" height="12.9" fill="#000"/>
<rect x="77.90" y="177.79999999999998" width="2" height="2.3" fill="#000"/>
<rect x="79.80" y="180.10" width="81.80" height="9.25" fill="#fff"/>
<rect x="244.30" y="180.10" width="83.10" height="9.25" fill="#fff"/>
<rect x="411.20" y="180.10" width="82.00" height="9.25" fill="#fff"/>
<rect x="577.70" y="180.10" width="82.00" height="9.25" fill="#fff"/>
<rect x="72.00" y="8.9" width="6.5" height="1.8" fill="#000"/>
<text x="67.3" y="14.0" font-size="11.7" font-weight="bold" fill="#111" stroke="#111" stroke-width="0.3" text-anchor="end" >40</text>
<rect x="72.00" y="51.2" width="6.5" height="1.8" fill="#000"/>
<text x="67.3" y="56.300000000000004" font-size="11.7" font-weight="bold" fill="#111" stroke="#111" stroke-width="0.3" text-anchor="end" >38</text>
<rect x="72.00" y="93.39999999999999" width="6.5" height="1.8" fill="#000"/>
<text x="67.3" y="98.5" font-size="11.7" font-weight="bold" fill="#111" stroke="#111" stroke-width="0.3" text-anchor="end" >36</text>
<rect x="72.00" y="135.7" width="6.5" height="1.8" fill="#000"/>
<text x="67.3" y="140.79999999999998" font-size="11.7" font-weight="bold" fill="#111" stroke="#111" stroke-width="0.3" text-anchor="end" >34</text>
<rect x="72.00" y="178.04999999999998" width="6.5" height="1.8" fill="#000"/>
<text x="67.3" y="183.14999999999998" font-size="11.7" font-weight="bold" fill="#111" stroke="#111" stroke-width="0.3" text-anchor="end" >32</text>
<text x="0" y="0" font-size="14.2" font-weight="bold" fill="#111" stroke="#111" stroke-width="0.3" text-anchor="middle" transform="translate(43.7,89.7) rotate(-90)">Core temperature (°C)</text>
<text x="1.5" y="18.7" font-size="25" font-weight="bold" fill="#1a1a1a" stroke="#1a1a1a" stroke-width="0.3" text-anchor="start" >A</text>
<text x="163" y="205.4" font-size="14.5" font-weight="bold" fill="#1a1a1a" stroke="#1a1a1a" stroke-width="0.3" text-anchor="middle" >Day1</text>
<text x="329" y="205.4" font-size="14.5" font-weight="bold" fill="#1a1a1a" stroke="#1a1a1a" stroke-width="0.3" text-anchor="middle" >Day2</text>
<text x="496.2" y="205.4" font-size="14.5" font-weight="bold" fill="#1a1a1a" stroke="#1a1a1a" stroke-width="0.3" text-anchor="middle" >Day3</text>
<text x="660.8" y="205.4" font-size="14.5" font-weight="bold" fill="#1a1a1a" stroke="#1a1a1a" stroke-width="0.3" text-anchor="middle" >Day4</text>
</g>
<g>
<rect x="79.50" y="222.5" width="174.54" height="169.89999999999998" fill="#fdd6c9"/>
<rect x="254.04" y="222.5" width="331.13" height="169.89999999999998" fill="#c8e4f3"/>
<rect x="585.17" y="222.5" width="162.76" height="169.89999999999998" fill="#fdd6c9"/>
<line x1="162.55" y1="222.5" x2="162.55" y2="392.4" stroke="#7a7a7a" stroke-width="1"/>
<line x1="246.13" y1="222.5" x2="246.13" y2="392.4" stroke="#7a7a7a" stroke-width="1"/>
<line x1="328.32" y1="222.5" x2="328.32" y2="392.4" stroke="#7a7a7a" stroke-width="1"/>
<line x1="411.50" y1="222.5" x2="411.50" y2="392.4" stroke="#7a7a7a" stroke-width="1"/>
<line x1="495.38" y1="222.5" x2="495.38" y2="392.4" stroke="#7a7a7a" stroke-width="1"/>
<line x1="578.97" y1="222.5" x2="578.97" y2="392.4" stroke="#7a7a7a" stroke-width="1"/>
<line x1="660.45" y1="222.5" x2="660.45" y2="392.4" stroke="#7a7a7a" stroke-width="1"/>
<text x="161.1" y="236.0" font-size="14.4" font-weight="bold" fill="#c1152c" stroke="#c1152c" stroke-width="0.3" text-anchor="middle" >22°C</text>
<text x="412.8" y="235.8" font-size="14.5" font-weight="bold" fill="#332e98" stroke="#332e98" stroke-width="0.3" text-anchor="middle" >4°C</text>
<text x="660.6" y="234.7" font-size="14.4" font-weight="bold" fill="#c1152c" stroke="#c1152c" stroke-width="0.3" text-anchor="middle" >22°C</text>
<path d="M82.0 363.1V369.5M79.8 363.1h4.4M79.8 369.5h4.4M85.5 365.7V375.7M83.3 365.7h4.4M83.3 375.7h4.4M88.9 370.2V378.2M86.7 370.2h4.4M86.7 378.2h4.4M92.4 372.9V381.2M90.2 372.9h4.4M90.2 381.2h4.4M95.9 365.5V375.6M93.7 365.5h4.4M93.7 375.6h4.4M99.3 372.8V380.7M97.1 372.8h4.4M97.1 380.7h4.4M102.8 373.7V382.2M100.6 373.7h4.4M100.6 382.2h4.4M106.3 369.2V378.6M104.1 369.2h4.4M104.1 378.6h4.4M109.7 373.3V384.2M107.5 373.3h4.4M107.5 384.2h4.4M113.2 376.2V383.8M111.0 376.2h4.4M111.0 383.8h4.4M116.7 371.1V381.2M114.5 371.1h4.4M114.5 381.2h4.4M120.2 365.8V375.3M118.0 365.8h4.4M118.0 375.3h4.4M123.6 370.5V379.6M121.4 370.5h4.4M121.4 379.6h4.4M127.1 370.8V378.7M124.9 370.8h4.4M124.9 378.7h4.4M130.6 372.8V380.4M128.4 372.8h4.4M128.4 380.4h4.4M134.0 372.4V378.6M131.8 372.4h4.4M131.8 378.6h4.4M137.5 371.4V378.0M135.3 371.4h4.4M135.3 378.0h4.4M141.0 366.8V373.1M138.8 366.8h4.4M138.8 373.1h4.4M144.4 363.4V373.0M142.2 363.4h4.4M142.2 373.0h4.4M147.9 372.3V379.5M145.7 372.3h4.4M145.7 379.5h4.4M151.4 368.3V375.0M149.2 368.3h4.4M149.2 375.0h4.4M154.8 359.7V366.0M152.6 359.7h4.4M152.6 366.0h4.4M158.3 355.1V365.2M156.1 355.1h4.4M156.1 365.2h4.4M161.8 348.3V358.6M159.6 348.3h4.4M159.6 358.6h4.4M165.2 336.7V345.9M163.0 336.7h4.4M163.0 345.9h4.4M168.7 337.4V344.7M166.5 337.4h4.4M166.5 344.7h4.4M172.2 344.4V351.5M170.0 344.4h4.4M170.0 351.5h4.4M175.7 345.0V352.4M173.5 345.0h4.4M173.5 352.4h4.4M179.1 349.6V357.8M176.9 349.6h4.4M176.9 357.8h4.4M182.6 352.6V359.2M180.4 352.6h4.4M180.4 359.2h4.4M186.1 347.5V355.7M183.9 347.5h4.4M183.9 355.7h4.4M189.5 343.5V350.7M187.3 343.5h4.4M187.3 350.7h4.4M193.0 347.7V358.4M190.8 347.7h4.4M190.8 358.4h4.4M196.5 354.7V365.5M194.3 354.7h4.4M194.3 365.5h4.4M199.9 359.2V367.9M197.7 359.2h4.4M197.7 367.9h4.4M203.4 359.5V366.7M201.2 359.5h4.4M201.2 366.7h4.4M206.9 354.1V364.8M204.7 354.1h4.4M204.7 364.8h4.4M210.3 352.9V360.4M208.1 352.9h4.4M208.1 360.4h4.4M213.8 359.3V366.9M211.6 359.3h4.4M211.6 366.9h4.4M217.3 362.6V368.5M215.1 362.6h4.4M215.1 368.5h4.4M220.7 357.6V365.4M218.5 357.6h4.4M218.5 365.4h4.4M224.2 357.3V365.5M222.0 357.3h4.4M222.0 365.5h4.4M227.7 360.6V369.0M225.5 360.6h4.4M225.5 369.0h4.4M231.1 361.0V367.9M228.9 361.0h4.4M228.9 367.9h4.4M234.6 359.4V367.8M232.4 359.4h4.4M232.4 367.8h4.4M238.1 353.8V359.8M235.9 353.8h4.4M235.9 359.8h4.4M241.6 355.4V362.6M239.4 355.4h4.4M239.4 362.6h4.4M245.0 363.0V369.3M242.8 363.0h4.4M242.8 369.3h4.4M248.5 361.6V369.5M246.3 361.6h4.4M246.3 369.5h4.4M252.0 373.9V380.0M249.8 373.9h4.4M249.8 380.0h4.4M255.4 374.5V380.5M253.2 374.5h4.4M253.2 380.5h4.4M258.9 363.7V371.1M256.7 363.7h4.4M256.7 371.1h4.4M262.4 354.6V364.8M260.2 354.6h4.4M260.2 364.8h4.4M265.8 344.9V357.7M263.6 344.9h4.4M263.6 357.7h4.4M269.3 335.5V347.9M267.1 335.5h4.4M267.1 347.9h4.4M272.8 328.3V342.3M270.6 328.3h4.4M270.6 342.3h4.4M276.2 322.2V335.6M274.0 322.2h4.4M274.0 335.6h4.4M279.7 314.9V328.7M277.5 314.9h4.4M277.5 328.7h4.4M283.2 310.4V325.4M281.0 310.4h4.4M281.0 325.4h4.4M286.6 308.7V320.1M284.4 308.7h4.4M284.4 320.1h4.4M290.1 305.5V316.4M287.9 305.5h4.4M287.9 316.4h4.4M293.6 297.8V313.5M291.4 297.8h4.4M291.4 313.5h4.4M297.1 295.4V305.0M294.9 295.4h4.4M294.9 305.0h4.4M300.5 292.5V306.4M298.3 292.5h4.4M298.3 306.4h4.4M304.0 290.7V303.9M301.8 290.7h4.4M301.8 303.9h4.4M307.5 287.5V296.3M305.3 287.5h4.4M305.3 296.3h4.4M310.9 281.5V296.2M308.7 281.5h4.4M308.7 296.2h4.4M314.4 277.7V292.7M312.2 277.7h4.4M312.2 292.7h4.4M317.9 274.1V287.2M315.7 274.1h4.4M315.7 287.2h4.4M321.3 273.2V287.0M319.1 273.2h4.4M319.1 287.0h4.4M324.8 271.0V285.5M322.6 271.0h4.4M322.6 285.5h4.4M328.3 265.8V275.3M326.1 265.8h4.4M326.1 275.3h4.4M331.7 259.9V272.2M329.5 259.9h4.4M329.5 272.2h4.4M335.2 262.9V275.1M333.0 262.9h4.4M333.0 275.1h4.4M338.7 271.7V286.4M336.5 271.7h4.4M336.5 286.4h4.4M342.1 265.8V280.2M339.9 265.8h4.4M339.9 280.2h4.4M345.6 268.5V283.0M343.4 268.5h4.4M343.4 283.0h4.4M349.1 268.6V281.4M346.9 268.6h4.4M346.9 281.4h4.4M352.5 268.8V283.8M350.3 268.8h4.4M350.3 283.8h4.4M356.0 269.6V283.1M353.8 269.6h4.4M353.8 283.1h4.4M359.5 271.4V285.0M357.3 271.4h4.4M357.3 285.0h4.4M363.0 268.9V279.1M360.8 268.9h4.4M360.8 279.1h4.4M366.4 274.2V283.0M364.2 274.2h4.4M364.2 283.0h4.4M369.9 276.5V286.0M367.7 276.5h4.4M367.7 286.0h4.4M373.4 275.8V287.0M371.2 275.8h4.4M371.2 287.0h4.4M376.8 274.3V283.6M374.6 274.3h4.4M374.6 283.6h4.4M380.3 273.8V288.4M378.1 273.8h4.4M378.1 288.4h4.4M383.8 275.5V288.1M381.6 275.5h4.4M381.6 288.1h4.4M387.2 275.7V288.8M385.0 275.7h4.4M385.0 288.8h4.4M390.7 272.8V285.9M388.5 272.8h4.4M388.5 285.9h4.4M394.2 268.4V281.9M392.0 268.4h4.4M392.0 281.9h4.4M397.6 272.6V284.7M395.4 272.6h4.4M395.4 284.7h4.4M401.1 272.6V281.2M398.9 272.6h4.4M398.9 281.2h4.4M404.6 269.9V284.2M402.4 269.9h4.4M402.4 284.2h4.4M408.0 267.2V281.2M405.8 267.2h4.4M405.8 281.2h4.4M411.5 272.7V284.9M409.3 272.7h4.4M409.3 284.9h4.4M415.0 271.4V283.9M412.8 271.4h4.4M412.8 283.9h4.4M418.5 277.3V290.7M416.3 277.3h4.4M416.3 290.7h4.4M421.9 283.5V292.5M419.7 283.5h4.4M419.7 292.5h4.4M425.4 282.9V296.8M423.2 282.9h4.4M423.2 296.8h4.4M428.9 280.6V291.0M426.7 280.6h4.4M426.7 291.0h4.4M432.3 282.4V291.5M430.1 282.4h4.4M430.1 291.5h4.4M435.8 281.9V292.4M433.6 281.9h4.4M433.6 292.4h4.4M439.3 277.5V291.4M437.1 277.5h4.4M437.1 291.4h4.4M442.7 282.7V292.7M440.5 282.7h4.4M440.5 292.7h4.4M446.2 284.1V298.0M444.0 284.1h4.4M444.0 298.0h4.4M449.7 271.5V287.2M447.5 271.5h4.4M447.5 287.2h4.4M453.1 277.9V290.1M450.9 277.9h4.4M450.9 290.1h4.4M456.6 279.7V291.0M454.4 279.7h4.4M454.4 291.0h4.4M460.1 278.6V290.6M457.9 278.6h4.4M457.9 290.6h4.4M463.5 274.0V287.6M461.3 274.0h4.4M461.3 287.6h4.4M467.0 274.0V288.1M464.8 274.0h4.4M464.8 288.1h4.4M470.5 275.2V288.2M468.3 275.2h4.4M468.3 288.2h4.4M474.0 273.6V286.8M471.8 273.6h4.4M471.8 286.8h4.4M477.4 279.7V288.7M475.2 279.7h4.4M475.2 288.7h4.4M480.9 278.0V287.7M478.7 278.0h4.4M478.7 287.7h4.4M484.4 275.1V285.5M482.2 275.1h4.4M482.2 285.5h4.4M487.8 262.1V276.0M485.6 262.1h4.4M485.6 276.0h4.4M491.3 254.7V265.5M489.1 254.7h4.4M489.1 265.5h4.4M494.8 254.5V267.2M492.6 254.5h4.4M492.6 267.2h4.4M498.2 255.1V263.7M496.0 255.1h4.4M496.0 263.7h4.4M501.7 260.4V269.4M499.5 260.4h4.4M499.5 269.4h4.4M505.2 261.4V271.9M503.0 261.4h4.4M503.0 271.9h4.4M508.6 261.5V274.9M506.4 261.5h4.4M506.4 274.9h4.4M512.1 262.1V275.7M509.9 262.1h4.4M509.9 275.7h4.4M515.6 263.9V277.3M513.4 263.9h4.4M513.4 277.3h4.4M519.0 261.8V272.5M516.8 261.8h4.4M516.8 272.5h4.4M522.5 262.5V274.8M520.3 262.5h4.4M520.3 274.8h4.4M526.0 261.6V273.5M523.8 261.6h4.4M523.8 273.5h4.4M529.4 267.0V278.9M527.2 267.0h4.4M527.2 278.9h4.4M532.9 269.7V279.1M530.7 269.7h4.4M530.7 279.1h4.4M536.4 267.5V282.5M534.2 267.5h4.4M534.2 282.5h4.4M539.9 266.2V276.2M537.7 266.2h4.4M537.7 276.2h4.4M543.3 257.1V272.8M541.1 257.1h4.4M541.1 272.8h4.4M546.8 264.0V279.4M544.6 264.0h4.4M544.6 279.4h4.4M550.3 270.0V278.6M548.1 270.0h4.4M548.1 278.6h4.4M553.7 269.9V281.8M551.5 269.9h4.4M551.5 281.8h4.4M557.2 270.9V285.4M555.0 270.9h4.4M555.0 285.4h4.4M560.7 267.4V283.0M558.5 267.4h4.4M558.5 283.0h4.4M564.1 271.5V283.4M561.9 271.5h4.4M561.9 283.4h4.4M567.6 274.3V284.8M565.4 274.3h4.4M565.4 284.8h4.4M571.1 269.0V279.1M568.9 269.0h4.4M568.9 279.1h4.4M574.5 260.8V276.2M572.3 260.8h4.4M572.3 276.2h4.4M578.0 265.2V275.3M575.8 265.2h4.4M575.8 275.3h4.4M581.5 267.0V279.8M579.3 267.0h4.4M579.3 279.8h4.4M584.9 282.1V291.7M582.7 282.1h4.4M582.7 291.7h4.4M588.4 275.5V287.8M586.2 275.5h4.4M586.2 287.8h4.4M591.9 265.9V276.5M589.7 265.9h4.4M589.7 276.5h4.4M595.4 277.6V284.2M593.2 277.6h4.4M593.2 284.2h4.4M598.8 298.7V308.7M596.6 298.7h4.4M596.6 308.7h4.4M602.3 313.8V322.3M600.1 313.8h4.4M600.1 322.3h4.4M605.8 327.6V337.9M603.6 327.6h4.4M603.6 337.9h4.4M609.2 334.6V344.0M607.0 334.6h4.4M607.0 344.0h4.4M612.7 338.0V345.0M610.5 338.0h4.4M610.5 345.0h4.4M616.2 340.1V350.5M614.0 340.1h4.4M614.0 350.5h4.4M619.6 348.4V356.7M617.4 348.4h4.4M617.4 356.7h4.4M623.1 354.8V360.8M620.9 354.8h4.4M620.9 360.8h4.4M626.6 356.9V362.8M624.4 356.9h4.4M624.4 362.8h4.4M630.0 357.6V365.9M627.8 357.6h4.4M627.8 365.9h4.4M633.5 354.4V362.5M631.3 354.4h4.4M631.3 362.5h4.4M637.0 354.5V361.9M634.8 354.5h4.4M634.8 361.9h4.4M640.4 357.3V363.9M638.2 357.3h4.4M638.2 363.9h4.4M643.9 359.9V367.5M641.7 359.9h4.4M641.7 367.5h4.4M647.4 357.0V364.4M645.2 357.0h4.4M645.2 364.4h4.4M650.8 349.2V359.4M648.6 349.2h4.4M648.6 359.4h4.4M654.3 345.5V351.4M652.1 345.5h4.4M652.1 351.4h4.4M657.8 339.1V348.8M655.6 339.1h4.4M655.6 348.8h4.4M661.3 340.9V351.1M659.1 340.9h4.4M659.1 351.1h4.4M664.7 337.5V344.0M662.5 337.5h4.4M662.5 344.0h4.4M668.2 333.7V344.3M666.0 333.7h4.4M666.0 344.3h4.4M671.7 337.0V346.4M669.5 337.0h4.4M669.5 346.4h4.4M675.1 339.1V349.5M672.9 339.1h4.4M672.9 349.5h4.4M678.6 341.8V349.2M676.4 341.8h4.4M676.4 349.2h4.4M682.1 337.6V345.3M679.9 337.6h4.4M679.9 345.3h4.4M685.5 334.0V341.9M683.3 334.0h4.4M683.3 341.9h4.4M689.0 339.5V350.4M686.8 339.5h4.4M686.8 350.4h4.4M692.5 349.1V358.0M690.3 349.1h4.4M690.3 358.0h4.4M695.9 348.8V356.5M693.7 348.8h4.4M693.7 356.5h4.4M699.4 343.1V351.1M697.2 343.1h4.4M697.2 351.1h4.4M702.9 344.9V352.2M700.7 344.9h4.4M700.7 352.2h4.4M706.3 345.0V351.2M704.1 345.0h4.4M704.1 351.2h4.4M709.8 345.9V352.3M707.6 345.9h4.4M707.6 352.3h4.4M713.3 342.5V352.6M711.1 342.5h4.4M711.1 352.6h4.4M716.8 345.1V352.4M714.6 345.1h4.4M714.6 352.4h4.4M720.2 343.9V354.5M718.0 343.9h4.4M718.0 354.5h4.4M723.7 349.8V357.0M721.5 349.8h4.4M721.5 357.0h4.4M727.2 351.8V359.0M725.0 351.8h4.4M725.0 359.0h4.4M730.6 347.3V355.7M728.4 347.3h4.4M728.4 355.7h4.4M734.1 349.1V356.0M731.9 349.1h4.4M731.9 356.0h4.4M737.6 352.0V359.7M735.4 352.0h4.4M735.4 359.7h4.4M741.0 352.2V362.9M738.8 352.2h4.4M738.8 362.9h4.4" stroke="#1c1c1c" stroke-width="0.7" fill="none"/>
<path d="M82.0 337.0V353.3M79.8 337.0h4.4M79.8 353.3h4.4M85.5 352.3V368.0M83.3 352.3h4.4M83.3 368.0h4.4M88.9 361.9V376.1M86.7 361.9h4.4M86.7 376.1h4.4M92.4 364.2V380.7M90.2 364.2h4.4M90.2 380.7h4.4M95.9 367.5V384.2M93.7 367.5h4.4M93.7 384.2h4.4M99.3 370.9V384.5M97.1 370.9h4.4M97.1 384.5h4.4M102.8 372.8V387.8M100.6 372.8h4.4M100.6 387.8h4.4M106.3 369.3V378.9M104.1 369.3h4.4M104.1 378.9h4.4M109.7 367.9V383.0M107.5 367.9h4.4M107.5 383.0h4.4M113.2 372.8V385.6M111.0 372.8h4.4M111.0 385.6h4.4M116.7 368.2V383.5M114.5 368.2h4.4M114.5 383.5h4.4M120.2 360.9V375.3M118.0 360.9h4.4M118.0 375.3h4.4M123.6 368.4V379.9M121.4 368.4h4.4M121.4 379.9h4.4M127.1 370.2V379.8M124.9 370.2h4.4M124.9 379.8h4.4M130.6 366.2V382.8M128.4 366.2h4.4M128.4 382.8h4.4M134.0 373.2V383.5M131.8 373.2h4.4M131.8 383.5h4.4M137.5 363.0V375.9M135.3 363.0h4.4M135.3 375.9h4.4M141.0 357.6V369.6M138.8 357.6h4.4M138.8 369.6h4.4M144.4 364.6V376.2M142.2 364.6h4.4M142.2 376.2h4.4M147.9 369.4V384.5M145.7 369.4h4.4M145.7 384.5h4.4M151.4 361.8V378.8M149.2 361.8h4.4M149.2 378.8h4.4M154.8 359.1V370.4M152.6 359.1h4.4M152.6 370.4h4.4M158.3 353.2V367.6M156.1 353.2h4.4M156.1 367.6h4.4M161.8 353.4V365.0M159.6 353.4h4.4M159.6 365.0h4.4M165.2 339.4V353.1M163.0 339.4h4.4M163.0 353.1h4.4M168.7 333.9V346.3M166.5 333.9h4.4M166.5 346.3h4.4M172.2 337.0V347.6M170.0 337.0h4.4M170.0 347.6h4.4M175.7 346.4V357.0M173.5 346.4h4.4M173.5 357.0h4.4M179.1 340.5V351.4M176.9 340.5h4.4M176.9 351.4h4.4M182.6 333.7V350.2M180.4 333.7h4.4M180.4 350.2h4.4M186.1 349.2V362.4M183.9 349.2h4.4M183.9 362.4h4.4M189.5 345.3V356.2M187.3 345.3h4.4M187.3 356.2h4.4M193.0 342.6V359.0M190.8 342.6h4.4M190.8 359.0h4.4M196.5 348.8V365.9M194.3 348.8h4.4M194.3 365.9h4.4M199.9 347.1V359.9M197.7 347.1h4.4M197.7 359.9h4.4M203.4 348.1V358.5M201.2 348.1h4.4M201.2 358.5h4.4M206.9 341.5V352.2M204.7 341.5h4.4M204.7 352.2h4.4M210.3 343.5V353.5M208.1 343.5h4.4M208.1 353.5h4.4M213.8 350.3V362.2M211.6 350.3h4.4M211.6 362.2h4.4M217.3 347.5V357.4M215.1 347.5h4.4M215.1 357.4h4.4M220.7 350.1V361.2M218.5 350.1h4.4M218.5 361.2h4.4M224.2 348.4V359.7M222.0 348.4h4.4M222.0 359.7h4.4M227.7 349.0V362.8M225.5 349.0h4.4M225.5 362.8h4.4M231.1 346.6V362.9M228.9 346.6h4.4M228.9 362.9h4.4M234.6 345.3V360.4M232.4 345.3h4.4M232.4 360.4h4.4M238.1 343.9V356.5M235.9 343.9h4.4M235.9 356.5h4.4M241.6 347.7V360.2M239.4 347.7h4.4M239.4 360.2h4.4M245.0 352.3V365.7M242.8 352.3h4.4M242.8 365.7h4.4M248.5 353.4V365.6M246.3 353.4h4.4M246.3 365.6h4.4M252.0 362.2V374.1M249.8 362.2h4.4M249.8 374.1h4.4M255.4 371.0V380.8M253.2 371.0h4.4M253.2 380.8h4.4M258.9 359.6V371.1M256.7 359.6h4.4M256.7 371.1h4.4M262.4 343.7V368.2M260.2 343.7h4.4M260.2 368.2h4.4M265.8 342.2V357.0M263.6 342.2h4.4M263.6 357.0h4.4M269.3 330.2V349.4M267.1 330.2h4.4M267.1 349.4h4.4M272.8 322.2V342.9M270.6 322.2h4.4M270.6 342.9h4.4M276.2 313.9V337.2M274.0 313.9h4.4M274.0 337.2h4.4M279.7 313.5V329.3M277.5 313.5h4.4M277.5 329.3h4.4M283.2 311.0V327.5M281.0 311.0h4.4M281.0 327.5h4.4M286.6 307.1V323.4M284.4 307.1h4.4M284.4 323.4h4.4M290.1 302.8V320.8M287.9 302.8h4.4M287.9 320.8h4.4M293.6 295.8V314.3M291.4 295.8h4.4M291.4 314.3h4.4M297.1 289.1V313.5M294.9 289.1h4.4M294.9 313.5h4.4M300.5 292.2V315.3M298.3 292.2h4.4M298.3 315.3h4.4M304.0 289.5V312.9M301.8 289.5h4.4M301.8 312.9h4.4M307.5 289.4V303.1M305.3 289.4h4.4M305.3 303.1h4.4M310.9 290.7V304.4M308.7 290.7h4.4M308.7 304.4h4.4M314.4 280.0V301.6M312.2 280.0h4.4M312.2 301.6h4.4M317.9 279.5V303.2M315.7 279.5h4.4M315.7 303.2h4.4M321.3 284.7V303.6M319.1 284.7h4.4M319.1 303.6h4.4M324.8 276.3V296.5M322.6 276.3h4.4M322.6 296.5h4.4M328.3 269.1V282.5M326.1 269.1h4.4M326.1 282.5h4.4M331.7 265.8V283.7M329.5 265.8h4.4M329.5 283.7h4.4M335.2 263.7V287.7M333.0 263.7h4.4M333.0 287.7h4.4M338.7 266.6V289.5M336.5 266.6h4.4M336.5 289.5h4.4M342.1 271.7V294.9M339.9 271.7h4.4M339.9 294.9h4.4M345.6 274.7V299.3M343.4 274.7h4.4M343.4 299.3h4.4M349.1 276.6V292.8M346.9 276.6h4.4M346.9 292.8h4.4M352.5 279.8V294.5M350.3 279.8h4.4M350.3 294.5h4.4M356.0 280.1V295.3M353.8 280.1h4.4M353.8 295.3h4.4M359.5 274.0V293.4M357.3 274.0h4.4M357.3 293.4h4.4M363.0 266.4V287.6M360.8 266.4h4.4M360.8 287.6h4.4M366.4 271.6V295.8M364.2 271.6h4.4M364.2 295.8h4.4M369.9 274.8V296.5M367.7 274.8h4.4M367.7 296.5h4.4M373.4 277.2V298.0M371.2 277.2h4.4M371.2 298.0h4.4M376.8 276.3V298.4M374.6 276.3h4.4M374.6 298.4h4.4M380.3 277.4V296.0M378.1 277.4h4.4M378.1 296.0h4.4M383.8 277.2V296.9M381.6 277.2h4.4M381.6 296.9h4.4M387.2 281.0V294.8M385.0 281.0h4.4M385.0 294.8h4.4M390.7 277.9V300.3M388.5 277.9h4.4M388.5 300.3h4.4M394.2 282.8V298.9M392.0 282.8h4.4M392.0 298.9h4.4M397.6 276.9V300.8M395.4 276.9h4.4M395.4 300.8h4.4M401.1 272.5V293.3M398.9 272.5h4.4M398.9 293.3h4.4M404.6 275.1V292.0M402.4 275.1h4.4M402.4 292.0h4.4M408.0 272.5V287.3M405.8 272.5h4.4M405.8 287.3h4.4M411.5 276.1V292.3M409.3 276.1h4.4M409.3 292.3h4.4M415.0 267.6V288.3M412.8 267.6h4.4M412.8 288.3h4.4M418.5 269.0V290.4M416.3 269.0h4.4M416.3 290.4h4.4M421.9 284.5V299.2M419.7 284.5h4.4M419.7 299.2h4.4M425.4 286.6V300.8M423.2 286.6h4.4M423.2 300.8h4.4M428.9 282.6V302.0M426.7 282.6h4.4M426.7 302.0h4.4M432.3 282.7V302.8M430.1 282.7h4.4M430.1 302.8h4.4M435.8 284.9V302.8M433.6 284.9h4.4M433.6 302.8h4.4M439.3 285.2V301.2M437.1 285.2h4.4M437.1 301.2h4.4M442.7 282.4V302.8M440.5 282.4h4.4M440.5 302.8h4.4M446.2 285.8V299.4M444.0 285.8h4.4M444.0 299.4h4.4M449.7 285.4V302.3M447.5 285.4h4.4M447.5 302.3h4.4M453.1 288.0V306.7M450.9 288.0h4.4M450.9 306.7h4.4M456.6 281.7V306.1M454.4 281.7h4.4M454.4 306.1h4.4M460.1 281.3V302.1M457.9 281.3h4.4M457.9 302.1h4.4M463.5 276.7V300.2M461.3 276.7h4.4M461.3 300.2h4.4M467.0 283.0V301.8M464.8 283.0h4.4M464.8 301.8h4.4M470.5 285.4V301.4M468.3 285.4h4.4M468.3 301.4h4.4M474.0 283.7V299.9M471.8 283.7h4.4M471.8 299.9h4.4M477.4 281.1V305.5M475.2 281.1h4.4M475.2 305.5h4.4M480.9 281.0V302.5M478.7 281.0h4.4M478.7 302.5h4.4M484.4 282.6V299.5M482.2 282.6h4.4M482.2 299.5h4.4M487.8 277.2V290.9M485.6 277.2h4.4M485.6 290.9h4.4M491.3 269.8V288.9M489.1 269.8h4.4M489.1 288.9h4.4M494.8 265.4V286.6M492.6 265.4h4.4M492.6 286.6h4.4M498.2 265.0V283.2M496.0 265.0h4.4M496.0 283.2h4.4M501.7 269.9V286.3M499.5 269.9h4.4M499.5 286.3h4.4M505.2 272.7V293.8M503.0 272.7h4.4M503.0 293.8h4.4M508.6 272.7V296.7M506.4 272.7h4.4M506.4 296.7h4.4M512.1 272.2V288.2M509.9 272.2h4.4M509.9 288.2h4.4M515.6 267.8V281.6M513.4 267.8h4.4M513.4 281.6h4.4M519.0 275.2V292.5M516.8 275.2h4.4M516.8 292.5h4.4M522.5 273.4V291.6M520.3 273.4h4.4M520.3 291.6h4.4M526.0 272.8V294.0M523.8 272.8h4.4M523.8 294.0h4.4M529.4 270.4V286.1M527.2 270.4h4.4M527.2 286.1h4.4M532.9 266.3V288.9M530.7 266.3h4.4M530.7 288.9h4.4M536.4 267.4V289.3M534.2 267.4h4.4M534.2 289.3h4.4M539.9 263.7V282.9M537.7 263.7h4.4M537.7 282.9h4.4M543.3 267.8V283.5M541.1 267.8h4.4M541.1 283.5h4.4M546.8 269.4V294.0M544.6 269.4h4.4M544.6 294.0h4.4M550.3 275.7V292.7M548.1 275.7h4.4M548.1 292.7h4.4M553.7 273.9V296.7M551.5 273.9h4.4M551.5 296.7h4.4M557.2 275.1V291.1M555.0 275.1h4.4M555.0 291.1h4.4M560.7 278.5V294.4M558.5 278.5h4.4M558.5 294.4h4.4M564.1 273.2V295.3M561.9 273.2h4.4M561.9 295.3h4.4M567.6 277.5V294.2M565.4 277.5h4.4M565.4 294.2h4.4M571.1 271.9V296.2M568.9 271.9h4.4M568.9 296.2h4.4M574.5 269.5V288.6M572.3 269.5h4.4M572.3 288.6h4.4M578.0 270.2V285.8M575.8 270.2h4.4M575.8 285.8h4.4M581.5 271.8V287.8M579.3 271.8h4.4M579.3 287.8h4.4M584.9 282.1V300.3M582.7 282.1h4.4M582.7 300.3h4.4M588.4 278.6V299.6M586.2 278.6h4.4M586.2 299.6h4.4M591.9 269.9V286.7M589.7 269.9h4.4M589.7 286.7h4.4M595.4 295.1V305.5M593.2 295.1h4.4M593.2 305.5h4.4M598.8 325.4V337.8M596.6 325.4h4.4M596.6 337.8h4.4M602.3 346.4V357.3M600.1 346.4h4.4M600.1 357.3h4.4M605.8 343.7V360.6M603.6 343.7h4.4M603.6 360.6h4.4M609.2 353.3V363.7M607.0 353.3h4.4M607.0 363.7h4.4M612.7 359.4V369.0M610.5 359.4h4.4M610.5 369.0h4.4M616.2 357.0V366.8M614.0 357.0h4.4M614.0 366.8h4.4M619.6 353.0V365.3M617.4 353.0h4.4M617.4 365.3h4.4M623.1 357.5V373.9M620.9 357.5h4.4M620.9 373.9h4.4M626.6 359.0V375.2M624.4 359.0h4.4M624.4 375.2h4.4M630.0 362.4V377.4M627.8 362.4h4.4M627.8 377.4h4.4M633.5 359.7V376.9M631.3 359.7h4.4M631.3 376.9h4.4M637.0 355.2V371.8M634.8 355.2h4.4M634.8 371.8h4.4M640.4 358.4V370.2M638.2 358.4h4.4M638.2 370.2h4.4M643.9 360.9V371.6M641.7 360.9h4.4M641.7 371.6h4.4M647.4 357.4V374.1M645.2 357.4h4.4M645.2 374.1h4.4M650.8 353.7V368.8M648.6 353.7h4.4M648.6 368.8h4.4M654.3 346.4V355.9M652.1 346.4h4.4M652.1 355.9h4.4M657.8 337.3V351.8M655.6 337.3h4.4M655.6 351.8h4.4M661.3 334.0V346.2M659.1 334.0h4.4M659.1 346.2h4.4M664.7 336.4V348.6M662.5 336.4h4.4M662.5 348.6h4.4M668.2 338.4V350.3M666.0 338.4h4.4M666.0 350.3h4.4M671.7 338.5V349.1M669.5 338.5h4.4M669.5 349.1h4.4M675.1 343.3V352.5M672.9 343.3h4.4M672.9 352.5h4.4M678.6 341.9V353.3M676.4 341.9h4.4M676.4 353.3h4.4M682.1 339.2V351.2M679.9 339.2h4.4M679.9 351.2h4.4M685.5 339.7V356.5M683.3 339.7h4.4M683.3 356.5h4.4M689.0 342.8V353.0M686.8 342.8h4.4M686.8 353.0h4.4M692.5 344.6V361.5M690.3 344.6h4.4M690.3 361.5h4.4M695.9 346.0V356.8M693.7 346.0h4.4M693.7 356.8h4.4M699.4 335.5V347.6M697.2 335.5h4.4M697.2 347.6h4.4M702.9 339.8V355.6M700.7 339.8h4.4M700.7 355.6h4.4M706.3 344.3V360.0M704.1 344.3h4.4M704.1 360.0h4.4M709.8 341.7V354.4M707.6 341.7h4.4M707.6 354.4h4.4M713.3 345.5V355.2M711.1 345.5h4.4M711.1 355.2h4.4M716.8 341.9V354.9M714.6 341.9h4.4M714.6 354.9h4.4M720.2 345.4V357.6M718.0 345.4h4.4M718.0 357.6h4.4M723.7 341.9V358.4M721.5 341.9h4.4M721.5 358.4h4.4M727.2 340.7V351.5M725.0 340.7h4.4M725.0 351.5h4.4M730.6 348.0V360.1M728.4 348.0h4.4M728.4 360.1h4.4M734.1 344.8V361.2M731.9 344.8h4.4M731.9 361.2h4.4M737.6 350.2V359.7M735.4 350.2h4.4M735.4 359.7h4.4M741.0 352.5V365.0M738.8 352.5h4.4M738.8 365.0h4.4" stroke="#a3c3e6" stroke-width="0.8" fill="none"/>
<path d="M81.3 365.1L84.2 370.1L87.5 371.7L90.9 377.6L93.4 376.7L96.4 369.2L99.2 376.7L102.5 378.4L105.9 373.4L108.4 376.7L111.7 381.7L114.7 378.4L117.6 375.1L120.4 370.1L123.4 375.1L126.7 374.2L129.2 377.6L132.6 375.1L135.4 375.9L138.4 374.2L140.9 370.1L143.4 365.1L146.4 374.2L150.1 378.4L152.6 365.1L155.1 362.6L158.4 360.1L161.8 353.4L164.8 341.7L167.6 339.2L170.1 343.4L173.5 350.9L176.8 347.5L179.3 354.2L182.6 355.9L186.0 351.7L189.3 346.7L192.7 352.5L196.0 358.4L198.3 366.8L200.8 361.8L204.2 363.5L207.5 358.5L210.0 356.0L213.4 362.7L216.7 366.0L220.0 363.5L222.5 356.8L225.0 363.5L228.4 365.2L231.7 364.3L235.1 363.5L237.6 356.8L240.1 356.8L243.4 361.8L245.9 368.5L248.4 365.2L251.7 376.8L255.1 378.5L258.4 368.5L261.8 361.0L265.1 353.5L268.4 343.5L271.8 336.8L275.1 331.8L278.4 323.4L281.8 319.3L285.1 315.9L288.5 312.6L291.8 309.2L295.1 302.6L298.5 298.4L301.8 300.1L305.1 295.9L308.5 290.1L311.8 288.4L315.2 284.2L318.3 280.1L321.7 280.1L324.2 280.1L326.7 272.5L330.0 268.4L332.5 265.0L335.0 268.4L337.5 275.9L340.0 282.6L341.7 272.5L345.0 275.9L348.4 275.0L350.9 275.0L354.2 277.6L356.7 275.9L359.7 278.4L362.6 273.4L365.1 277.6L368.4 280.1L371.7 282.6L375.1 280.1L377.6 278.4L380.9 281.7L383.4 281.7L386.8 282.6L390.1 280.1L393.4 275.9L395.9 273.4L398.4 280.9L401.8 275.9L404.3 277.6L406.8 272.5L409.3 275.9L411.8 279.2L415.1 277.6L417.6 282.6L420.1 286.7L423.5 289.2L426.0 290.1L429.3 285.1L431.8 286.7L435.2 288.4L438.0 282.6L440.8 286.7L444.2 288.4L446.7 291.7L449.7 279.2L452.5 284.2L455.0 283.4L458.4 287.6L461.7 281.7L465.0 280.1L468.4 281.7L470.9 281.7L474.2 280.1L476.7 284.2L479.7 284.2L482.6 280.9L485.1 280.1L488.4 266.7L491.7 259.2L494.2 261.7L497.1 257.5L500.1 262.5L503.4 267.5L506.8 265.9L510.1 270.0L513.1 268.4L515.9 270.9L518.4 266.7L521.8 269.2L525.1 266.7L527.6 269.2L530.5 275.1L533.5 274.2L536.8 275.1L539.3 272.6L542.6 264.2L545.1 266.7L548.5 276.7L551.5 272.6L554.3 276.7L557.7 278.4L558.3 278.4L560.8 275.0L564.2 277.5L566.7 280.9L570.0 275.9L573.4 270.0L575.9 266.7L578.4 270.9L580.9 270.9L583.4 281.7L585.9 290.1L588.4 281.7L590.9 272.5L593.4 269.2L595.9 284.2L598.4 301.7L600.9 313.4L603.4 321.8L605.9 333.4L608.4 338.5L611.7 341.8L614.2 341.0L617.6 348.5L620.9 355.1L624.3 359.3L627.6 360.1L630.1 361.8L633.4 358.5L635.9 356.8L638.4 360.1L641.8 361.0L645.1 365.2L648.5 358.5L651.8 352.6L654.3 348.5L656.8 342.6L659.3 346.0L661.8 346.0L662.4 345.5L665.3 339.6L668.3 339.0L671.3 341.4L674.3 343.8L677.2 345.5L680.2 345.5L683.2 339.0L685.9 337.8L688.5 343.2L690.9 351.5L694.5 356.2L697.4 349.1L700.4 346.1L703.4 349.1L706.9 347.9L709.9 349.1L712.9 347.3L715.8 349.1L719.2 347.9L722.4 352.1L725.4 355.1L728.3 355.6L731.3 350.3L734.3 352.7L737.2 355.6L740.8 358.0L743.8 352.1" stroke="#000" stroke-width="2.4" fill="none" stroke-linejoin="round" stroke-linecap="round"/>
<path d="M81.3 342.5L84.2 353.4L86.7 366.7L90.0 370.1L93.4 373.4L95.9 375.9L99.2 377.6L102.5 380.9L105.9 374.2L108.4 373.4L111.7 378.4L115.1 380.1L117.6 373.4L120.4 367.6L123.4 374.2L125.9 373.4L128.4 376.7L130.9 374.2L133.4 379.2L135.9 375.9L138.8 364.2L141.8 363.4L144.3 370.1L147.6 377.6L150.9 370.9L153.4 367.6L156.8 360.9L159.3 360.1L161.8 359.2L164.3 348.4L167.6 340.9L171.0 338.4L173.5 346.7L176.0 352.5L178.5 346.7L183.5 340.9L186.5 358.4L189.3 350.9L191.8 349.2L194.3 352.5L197.7 360.1L198.3 356.8L200.8 351.8L203.3 353.5L206.7 346.8L210.0 347.6L213.4 356.8L215.9 353.5L219.2 351.0L221.7 358.5L225.0 352.6L228.4 356.8L231.7 354.3L235.1 352.6L239.2 349.3L242.6 356.0L245.9 360.1L249.2 359.3L252.6 370.2L255.4 376.0L258.4 366.8L261.8 356.8L265.1 351.8L268.4 341.8L271.8 334.3L275.1 328.4L278.4 320.1L280.9 322.6L284.3 317.6L287.6 314.3L291.0 310.9L294.3 303.4L297.6 300.9L301.0 304.2L304.3 300.9L307.7 295.9L311.0 297.6L315.2 289.2L318.3 291.7L321.3 294.2L324.2 289.2L326.7 277.6L329.7 274.2L332.5 275.0L335.9 275.9L338.4 277.6L341.7 282.6L345.0 287.6L348.4 284.2L351.7 286.7L355.1 288.4L358.4 285.9L360.9 280.9L363.1 276.7L365.9 283.4L369.2 285.1L372.6 287.6L375.9 287.6L379.3 286.7L382.6 286.7L385.9 287.6L389.3 288.4L392.6 290.1L395.9 291.7L398.4 287.6L401.8 281.7L404.3 284.2L407.1 277.6L409.8 284.2L412.6 284.2L415.1 277.6L416.8 272.5L419.3 283.4L421.8 291.7L424.3 294.2L427.7 292.6L431.0 291.7L434.3 294.2L437.7 293.4L438.3 293.4L441.7 292.6L445.0 292.6L448.4 292.6L450.9 295.1L453.4 297.6L455.9 294.2L459.2 292.6L462.5 289.2L464.7 287.6L467.5 293.4L470.9 293.4L474.2 291.7L477.6 293.4L480.9 291.7L485.1 290.9L488.4 282.6L490.9 279.2L493.4 280.1L495.9 272.6L498.4 274.2L500.9 276.7L504.3 282.6L507.6 285.1L510.1 284.2L512.6 279.2L515.9 274.2L518.4 283.4L520.9 285.1L523.5 280.9L526.0 283.4L528.5 279.2L531.8 275.9L535.1 280.9L538.5 274.2L541.0 272.6L543.5 275.9L546.8 281.7L549.3 282.6L551.8 286.7L555.2 284.2L558.3 282.5L560.8 286.7L564.2 284.2L567.5 285.9L570.9 284.2L573.4 281.7L575.9 275.9L578.4 278.4L580.9 277.5L583.4 287.6L585.9 293.4L588.4 289.2L590.9 275.0L593.4 283.4L595.9 305.1L598.1 326.8L600.1 340.1L602.6 353.5L605.1 351.0L608.4 356.8L611.7 363.5L614.2 365.2L616.7 361.0L619.3 358.5L621.8 363.5L624.3 367.7L627.6 366.8L630.9 371.0L633.4 368.5L635.9 363.5L639.3 363.5L641.8 365.2L645.1 366.8L648.5 365.2L651.0 361.0L653.5 352.6L656.8 346.8L659.3 341.0L662.4 339.6L665.3 343.2L668.3 344.4L671.3 343.2L674.3 347.9L677.8 347.9L680.8 346.7L683.2 343.8L686.1 349.1L689.1 347.9L692.1 352.7L695.1 355.6L698.3 339.6L701.0 344.4L704.0 349.7L706.9 352.7L709.9 347.9L712.9 350.9L715.8 346.7L718.8 352.1L721.8 350.9L724.8 349.7L728.3 344.4L731.3 356.8L734.3 352.7L737.2 354.5L740.8 358.6L743.8 361.0" stroke="#6fa3dc" stroke-width="2.4" fill="none" stroke-linejoin="round" stroke-linecap="round"/>
<rect x="77.50" y="221.79999999999998" width="2.3" height="171.6" fill="#000"/>
<rect x="78.00" y="391.25" width="671.03" height="12.350000000000046" fill="#000"/>
<rect x="77.50" y="391.25" width="2" height="2.3" fill="#000"/>
<rect x="79.40" y="393.55" width="82.75" height="8.70" fill="#fff"/>
<rect x="244.93" y="393.55" width="83.18" height="8.70" fill="#fff"/>
<rect x="412.00" y="393.55" width="82.08" height="8.70" fill="#fff"/>
<rect x="578.67" y="393.55" width="82.08" height="8.70" fill="#fff"/>
<rect x="71.60" y="221.79999999999998" width="6.5" height="1.8" fill="#000"/>
<text x="69.3" y="226.79999999999998" font-size="11.7" font-weight="bold" fill="#111" stroke="#111" stroke-width="0.3" text-anchor="end" >1.0</text>
<rect x="71.60" y="270.40000000000003" width="6.5" height="1.8" fill="#000"/>
<text x="69.3" y="275.40000000000003" font-size="11.7" font-weight="bold" fill="#111" stroke="#111" stroke-width="0.3" text-anchor="end" >0.8</text>
<rect x="71.60" y="319.0" width="6.5" height="1.8" fill="#000"/>
<text x="69.3" y="324.0" font-size="11.7" font-weight="bold" fill="#111" stroke="#111" stroke-width="0.3" text-anchor="end" >0.6</text>
<rect x="71.60" y="367.6" width="6.5" height="1.8" fill="#000"/>
<text x="69.3" y="372.6" font-size="11.7" font-weight="bold" fill="#111" stroke="#111" stroke-width="0.3" text-anchor="end" >0.4</text>
<text x="0" y="0" font-size="14.2" font-weight="bold" fill="#111" stroke="#111" stroke-width="0.3" text-anchor="middle" transform="translate(29.8,308.2) rotate(-90)">Energy expenditure</text>
<text x="0" y="0" font-size="14.2" font-weight="bold" fill="#111" stroke="#111" stroke-width="0.3" text-anchor="middle" transform="translate(47.2,306.4) rotate(-90)">(kcal/h)</text>
<text x="0.2" y="221" font-size="25" font-weight="bold" fill="#1a1a1a" stroke="#1a1a1a" stroke-width="0.3" text-anchor="start" >B</text>
<text x="163" y="417.4" font-size="14.5" font-weight="bold" fill="#1a1a1a" stroke="#1a1a1a" stroke-width="0.3" text-anchor="middle" >Day1</text>
<text x="329" y="417.4" font-size="14.5" font-weight="bold" fill="#1a1a1a" stroke="#1a1a1a" stroke-width="0.3" text-anchor="middle" >Day2</text>
<text x="496.2" y="417.4" font-size="14.5" font-weight="bold" fill="#1a1a1a" stroke="#1a1a1a" stroke-width="0.3" text-anchor="middle" >Day3</text>
<text x="660.8" y="417.4" font-size="14.5" font-weight="bold" fill="#1a1a1a" stroke="#1a1a1a" stroke-width="0.3" text-anchor="middle" >Day4</text>
</g>
<g>
<rect x="80.30" y="437" width="172.64" height="163.0" fill="#fdd6c9"/>
<rect x="252.94" y="437" width="331.66" height="163.0" fill="#c8e4f3"/>
<rect x="584.60" y="437" width="163.02" height="163.0" fill="#fdd6c9"/>
<line x1="161.30" y1="437" x2="161.30" y2="600.0" stroke="#7a7a7a" stroke-width="1"/>
<line x1="245.02" y1="437" x2="245.02" y2="600.0" stroke="#7a7a7a" stroke-width="1"/>
<line x1="327.33" y1="437" x2="327.33" y2="600.0" stroke="#7a7a7a" stroke-width="1"/>
<line x1="410.65" y1="437" x2="410.65" y2="600.0" stroke="#7a7a7a" stroke-width="1"/>
<line x1="494.66" y1="437" x2="494.66" y2="600.0" stroke="#7a7a7a" stroke-width="1"/>
<line x1="578.38" y1="437" x2="578.38" y2="600.0" stroke="#7a7a7a" stroke-width="1"/>
<line x1="659.99" y1="437" x2="659.99" y2="600.0" stroke="#7a7a7a" stroke-width="1"/>
<text x="160.45" y="449.4" font-size="14.4" font-weight="bold" fill="#c1152c" stroke="#c1152c" stroke-width="0.3" text-anchor="middle" >22°C</text>
<text x="414.85" y="449.6" font-size="14.5" font-weight="bold" fill="#332e98" stroke="#332e98" stroke-width="0.3" text-anchor="middle" >4°C</text>
<text x="658.85" y="449.4" font-size="14.4" font-weight="bold" fill="#c1152c" stroke="#c1152c" stroke-width="0.3" text-anchor="middle" >22°C</text>
<path d="M82.0 556.2V572.2M79.8 556.2h4.4M79.8 572.2h4.4M85.5 558.3V573.4M83.3 558.3h4.4M83.3 573.4h4.4M88.9 577.8V584.6M86.7 577.8h4.4M86.7 584.6h4.4M92.4 584.9V590.2M90.2 584.9h4.4M90.2 590.2h4.4M95.9 580.9V587.1M93.7 580.9h4.4M93.7 587.1h4.4M99.3 579.9V588.6M97.1 579.9h4.4M97.1 588.6h4.4M102.8 580.3V587.2M100.6 580.3h4.4M100.6 587.2h4.4M106.3 582.5V589.9M104.1 582.5h4.4M104.1 589.9h4.4M109.7 585.2V592.1M107.5 585.2h4.4M107.5 592.1h4.4M113.2 589.2V594.1M111.0 589.2h4.4M111.0 594.1h4.4M116.7 587.9V593.0M114.5 587.9h4.4M114.5 593.0h4.4M120.2 580.2V588.9M118.0 580.2h4.4M118.0 588.9h4.4M123.6 575.8V584.9M121.4 575.8h4.4M121.4 584.9h4.4M127.1 568.1V577.9M124.9 568.1h4.4M124.9 577.9h4.4M130.6 584.3V591.2M128.4 584.3h4.4M128.4 591.2h4.4M134.0 590.8V595.2M131.8 590.8h4.4M131.8 595.2h4.4M137.5 587.9V592.9M135.3 587.9h4.4M135.3 592.9h4.4M141.0 581.8V587.7M138.8 581.8h4.4M138.8 587.7h4.4M144.4 570.9V582.0M142.2 570.9h4.4M142.2 582.0h4.4M147.9 584.5V591.6M145.7 584.5h4.4M145.7 591.6h4.4M151.4 578.7V587.0M149.2 578.7h4.4M149.2 587.0h4.4M154.8 560.8V576.0M152.6 560.8h4.4M152.6 576.0h4.4M158.3 577.1V583.9M156.1 577.1h4.4M156.1 583.9h4.4M161.8 571.2V580.1M159.6 571.2h4.4M159.6 580.1h4.4M165.2 524.1V546.9M163.0 524.1h4.4M163.0 546.9h4.4M168.7 500.0V535.8M166.5 500.0h4.4M166.5 535.8h4.4M172.2 507.5V540.8M170.0 507.5h4.4M170.0 540.8h4.4M175.7 542.5V559.5M173.5 542.5h4.4M173.5 559.5h4.4M179.1 553.6V566.8M176.9 553.6h4.4M176.9 566.8h4.4M182.6 566.2V577.3M180.4 566.2h4.4M180.4 577.3h4.4M186.1 555.7V570.0M183.9 555.7h4.4M183.9 570.0h4.4M189.5 527.7V553.9M187.3 527.7h4.4M187.3 553.9h4.4M193.0 553.6V566.4M190.8 553.6h4.4M190.8 566.4h4.4M196.5 565.0V578.1M194.3 565.0h4.4M194.3 578.1h4.4M199.9 575.0V584.7M197.7 575.0h4.4M197.7 584.7h4.4M203.4 576.8V586.2M201.2 576.8h4.4M201.2 586.2h4.4M206.9 575.5V585.2M204.7 575.5h4.4M204.7 585.2h4.4M210.3 551.1V567.4M208.1 551.1h4.4M208.1 567.4h4.4M213.8 558.8V571.3M211.6 558.8h4.4M211.6 571.3h4.4M217.3 573.2V582.0M215.1 573.2h4.4M215.1 582.0h4.4M220.7 574.3V583.0M218.5 574.3h4.4M218.5 583.0h4.4M224.2 550.0V567.8M222.0 550.0h4.4M222.0 567.8h4.4M227.7 570.2V578.7M225.5 570.2h4.4M225.5 578.7h4.4M231.1 577.3V584.7M228.9 577.3h4.4M228.9 584.7h4.4M234.6 558.7V573.6M232.4 558.7h4.4M232.4 573.6h4.4M238.1 539.1V555.8M235.9 539.1h4.4M235.9 555.8h4.4M241.6 557.2V568.4M239.4 557.2h4.4M239.4 568.4h4.4M245.0 550.6V562.9M242.8 550.6h4.4M242.8 562.9h4.4M248.5 572.6V582.4M246.3 572.6h4.4M246.3 582.4h4.4M252.0 575.5V583.8M249.8 575.5h4.4M249.8 583.8h4.4M255.4 589.1V594.8M253.2 589.1h4.4M253.2 594.8h4.4M258.9 581.3V589.5M256.7 581.3h4.4M256.7 589.5h4.4M262.4 576.2V586.3M260.2 576.2h4.4M260.2 586.3h4.4M265.8 578.4V585.7M263.6 578.4h4.4M263.6 585.7h4.4M269.3 571.1V579.5M267.1 571.1h4.4M267.1 579.5h4.4M272.8 572.7V580.8M270.6 572.7h4.4M270.6 580.8h4.4M276.2 582.2V589.2M274.0 582.2h4.4M274.0 589.2h4.4M279.7 582.4V589.8M277.5 582.4h4.4M277.5 589.8h4.4M283.2 581.7V588.7M281.0 581.7h4.4M281.0 588.7h4.4M286.6 583.2V589.3M284.4 583.2h4.4M284.4 589.3h4.4M290.1 589.9V594.6M287.9 589.9h4.4M287.9 594.6h4.4M293.6 591.8V596.3M291.4 591.8h4.4M291.4 596.3h4.4M297.1 590.5V595.4M294.9 590.5h4.4M294.9 595.4h4.4M300.5 561.6V575.6M298.3 561.6h4.4M298.3 575.6h4.4M304.0 581.0V589.2M301.8 581.0h4.4M301.8 589.2h4.4M307.5 579.3V587.6M305.3 579.3h4.4M305.3 587.6h4.4M310.9 578.0V585.0M308.7 578.0h4.4M308.7 585.0h4.4M314.4 585.5V592.2M312.2 585.5h4.4M312.2 592.2h4.4M317.9 581.4V588.1M315.7 581.4h4.4M315.7 588.1h4.4M321.3 571.8V581.9M319.1 571.8h4.4M319.1 581.9h4.4M324.8 578.3V586.0M322.6 578.3h4.4M322.6 586.0h4.4M328.3 562.1V575.8M326.1 562.1h4.4M326.1 575.8h4.4M331.7 558.2V570.0M329.5 558.2h4.4M329.5 570.0h4.4M335.2 558.3V570.4M333.0 558.3h4.4M333.0 570.4h4.4M338.7 574.8V582.9M336.5 574.8h4.4M336.5 582.9h4.4M342.1 557.4V569.1M339.9 557.4h4.4M339.9 569.1h4.4M345.6 558.4V574.1M343.4 558.4h4.4M343.4 574.1h4.4M349.1 565.7V577.6M346.9 565.7h4.4M346.9 577.6h4.4M352.5 571.4V580.7M350.3 571.4h4.4M350.3 580.7h4.4M356.0 575.7V584.2M353.8 575.7h4.4M353.8 584.2h4.4M359.5 570.7V582.8M357.3 570.7h4.4M357.3 582.8h4.4M363.0 573.9V583.2M360.8 573.9h4.4M360.8 583.2h4.4M366.4 575.9V583.7M364.2 575.9h4.4M364.2 583.7h4.4M369.9 582.9V590.4M367.7 582.9h4.4M367.7 590.4h4.4M373.4 582.6V589.8M371.2 582.6h4.4M371.2 589.8h4.4M376.8 582.0V590.2M374.6 582.0h4.4M374.6 590.2h4.4M380.3 582.6V588.5M378.1 582.6h4.4M378.1 588.5h4.4M383.8 584.1V590.5M381.6 584.1h4.4M381.6 590.5h4.4M387.2 580.0V588.4M385.0 580.0h4.4M385.0 588.4h4.4M390.7 582.7V590.3M388.5 582.7h4.4M388.5 590.3h4.4M394.2 574.2V584.8M392.0 574.2h4.4M392.0 584.8h4.4M397.6 579.0V585.5M395.4 579.0h4.4M395.4 585.5h4.4M401.1 581.5V588.2M398.9 581.5h4.4M398.9 588.2h4.4M404.6 578.4V585.2M402.4 578.4h4.4M402.4 585.2h4.4M408.0 577.5V584.8M405.8 577.5h4.4M405.8 584.8h4.4M411.5 581.4V589.7M409.3 581.4h4.4M409.3 589.7h4.4M415.0 574.0V583.5M412.8 574.0h4.4M412.8 583.5h4.4M418.5 574.4V585.0M416.3 574.4h4.4M416.3 585.0h4.4M421.9 587.1V592.5M419.7 587.1h4.4M419.7 592.5h4.4M425.4 588.0V594.0M423.2 588.0h4.4M423.2 594.0h4.4M428.9 590.2V594.9M426.7 590.2h4.4M426.7 594.9h4.4M432.3 588.9V593.7M430.1 588.9h4.4M430.1 593.7h4.4M435.8 589.9V595.1M433.6 589.9h4.4M433.6 595.1h4.4M439.3 585.0V592.0M437.1 585.0h4.4M437.1 592.0h4.4M442.7 586.8V591.8M440.5 586.8h4.4M440.5 591.8h4.4M446.2 592.0V596.4M444.0 592.0h4.4M444.0 596.4h4.4M449.7 585.2V591.6M447.5 585.2h4.4M447.5 591.6h4.4M453.1 586.5V591.8M450.9 586.5h4.4M450.9 591.8h4.4M456.6 589.3V594.1M454.4 589.3h4.4M454.4 594.1h4.4M460.1 590.5V594.8M457.9 590.5h4.4M457.9 594.8h4.4M463.5 587.3V592.4M461.3 587.3h4.4M461.3 592.4h4.4M467.0 583.6V589.6M464.8 583.6h4.4M464.8 589.6h4.4M470.5 587.8V593.4M468.3 587.8h4.4M468.3 593.4h4.4M474.0 586.6V592.6M471.8 586.6h4.4M471.8 592.6h4.4M477.4 585.8V591.2M475.2 585.8h4.4M475.2 591.2h4.4M480.9 586.0V591.0M478.7 586.0h4.4M478.7 591.0h4.4M484.4 582.1V588.7M482.2 582.1h4.4M482.2 588.7h4.4M487.8 582.8V590.0M485.6 582.8h4.4M485.6 590.0h4.4M491.3 559.3V570.8M489.1 559.3h4.4M489.1 570.8h4.4M494.8 550.0V564.6M492.6 550.0h4.4M492.6 564.6h4.4M498.2 546.7V561.2M496.0 546.7h4.4M496.0 561.2h4.4M501.7 559.3V574.2M499.5 559.3h4.4M499.5 574.2h4.4M505.2 567.2V578.5M503.0 567.2h4.4M503.0 578.5h4.4M508.6 572.1V580.2M506.4 572.1h4.4M506.4 580.2h4.4M512.1 577.4V584.4M509.9 577.4h4.4M509.9 584.4h4.4M515.6 579.9V587.2M513.4 579.9h4.4M513.4 587.2h4.4M519.0 574.5V583.8M516.8 574.5h4.4M516.8 583.8h4.4M522.5 572.7V582.8M520.3 572.7h4.4M520.3 582.8h4.4M526.0 571.7V580.0M523.8 571.7h4.4M523.8 580.0h4.4M529.4 580.1V586.7M527.2 580.1h4.4M527.2 586.7h4.4M532.9 583.7V590.7M530.7 583.7h4.4M530.7 590.7h4.4M536.4 584.6V590.7M534.2 584.6h4.4M534.2 590.7h4.4M539.9 587.4V592.6M537.7 587.4h4.4M537.7 592.6h4.4M543.3 566.5V576.9M541.1 566.5h4.4M541.1 576.9h4.4M546.8 577.3V587.0M544.6 577.3h4.4M544.6 587.0h4.4M550.3 584.3V590.3M548.1 584.3h4.4M548.1 590.3h4.4M553.7 581.4V588.8M551.5 581.4h4.4M551.5 588.8h4.4M557.2 585.6V591.4M555.0 585.6h4.4M555.0 591.4h4.4M560.7 583.4V589.9M558.5 583.4h4.4M558.5 589.9h4.4M564.1 574.6V584.9M561.9 574.6h4.4M561.9 584.9h4.4M567.6 579.0V588.2M565.4 579.0h4.4M565.4 588.2h4.4M571.1 583.1V589.5M568.9 583.1h4.4M568.9 589.5h4.4M574.5 573.8V582.0M572.3 573.8h4.4M572.3 582.0h4.4M578.0 571.8V582.5M575.8 571.8h4.4M575.8 582.5h4.4M581.5 576.1V583.8M579.3 576.1h4.4M579.3 583.8h4.4M584.9 584.0V589.4M582.7 584.0h4.4M582.7 589.4h4.4M588.4 593.0V597.3M586.2 593.0h4.4M586.2 597.3h4.4M591.9 571.8V581.4M589.7 571.8h4.4M589.7 581.4h4.4M595.4 557.6V573.2M593.2 557.6h4.4M593.2 573.2h4.4M598.8 570.8V580.6M596.6 570.8h4.4M596.6 580.6h4.4M602.3 578.4V587.5M600.1 578.4h4.4M600.1 587.5h4.4M605.8 587.0V592.6M603.6 587.0h4.4M603.6 592.6h4.4M609.2 589.1V593.7M607.0 589.1h4.4M607.0 593.7h4.4M612.7 585.0V590.2M610.5 585.0h4.4M610.5 590.2h4.4M616.2 583.0V589.9M614.0 583.0h4.4M614.0 589.9h4.4M619.6 584.7V591.3M617.4 584.7h4.4M617.4 591.3h4.4M623.1 590.6V595.7M620.9 590.6h4.4M620.9 595.7h4.4M626.6 589.9V594.2M624.4 589.9h4.4M624.4 594.2h4.4M630.0 583.1V590.1M627.8 583.1h4.4M627.8 590.1h4.4M633.5 577.8V585.6M631.3 577.8h4.4M631.3 585.6h4.4M637.0 575.4V584.2M634.8 575.4h4.4M634.8 584.2h4.4M640.4 584.3V590.0M638.2 584.3h4.4M638.2 590.0h4.4M643.9 588.0V593.0M641.7 588.0h4.4M641.7 593.0h4.4M647.4 578.5V586.5M645.2 578.5h4.4M645.2 586.5h4.4M650.8 562.6V577.1M648.6 562.6h4.4M648.6 577.1h4.4M654.3 570.7V579.2M652.1 570.7h4.4M652.1 579.2h4.4M657.8 566.4V577.7M655.6 566.4h4.4M655.6 577.7h4.4M661.3 554.5V571.0M659.1 554.5h4.4M659.1 571.0h4.4M664.7 541.4V563.3M662.5 541.4h4.4M662.5 563.3h4.4M668.2 543.1V558.4M666.0 543.1h4.4M666.0 558.4h4.4M671.7 554.0V566.3M669.5 554.0h4.4M669.5 566.3h4.4M675.1 560.7V576.0M672.9 560.7h4.4M672.9 576.0h4.4M678.6 569.1V581.6M676.4 569.1h4.4M676.4 581.6h4.4M682.1 551.6V566.9M679.9 551.6h4.4M679.9 566.9h4.4M685.5 544.6V558.4M683.3 544.6h4.4M683.3 558.4h4.4M689.0 549.4V568.3M686.8 549.4h4.4M686.8 568.3h4.4M692.5 564.6V575.9M690.3 564.6h4.4M690.3 575.9h4.4M695.9 578.2V587.5M693.7 578.2h4.4M693.7 587.5h4.4M699.4 555.7V570.7M697.2 555.7h4.4M697.2 570.7h4.4M702.9 548.7V567.2M700.7 548.7h4.4M700.7 567.2h4.4M706.3 558.0V569.6M704.1 558.0h4.4M704.1 569.6h4.4M709.8 551.3V568.7M707.6 551.3h4.4M707.6 568.7h4.4M713.3 550.2V564.0M711.1 550.2h4.4M711.1 564.0h4.4M716.8 549.6V564.9M714.6 549.6h4.4M714.6 564.9h4.4M720.2 545.2V564.9M718.0 545.2h4.4M718.0 564.9h4.4M723.7 575.4V585.3M721.5 575.4h4.4M721.5 585.3h4.4M727.2 569.8V578.9M725.0 569.8h4.4M725.0 578.9h4.4M730.6 556.5V568.8M728.4 556.5h4.4M728.4 568.8h4.4M734.1 545.8V562.1M731.9 545.8h4.4M731.9 562.1h4.4M737.6 559.6V572.9M735.4 559.6h4.4M735.4 572.9h4.4M741.0 550.0V565.1M738.8 550.0h4.4M738.8 565.1h4.4M154.3 561.6V570.4M152.1 561.6h4.4M152.1 570.4h4.4M169.3 505.9V527.5M167.1 505.9h4.4M167.1 527.5h4.4M190.2 527.6V544.2M188.0 527.6h4.4M188.0 544.2h4.4M210.9 549.3V560.9M208.7 549.3h4.4M208.7 560.9h4.4M223.4 548.4V560.2M221.2 548.4h4.4M221.2 560.2h4.4M238.4 538.9V552.9M236.2 538.9h4.4M236.2 552.9h4.4M244.2 539.9V553.7M242.0 539.9h4.4M242.0 553.7h4.4M270.9 562.5V571.1M268.7 562.5h4.4M268.7 571.1h4.4M300.5 564.4V572.6M298.3 564.4h4.4M298.3 572.6h4.4M342.5 554.9V565.3M340.3 554.9h4.4M340.3 565.3h4.4M358.1 566.2V574.0M355.9 566.2h4.4M355.9 574.0h4.4M543.1 567.2V574.8M540.9 567.2h4.4M540.9 574.8h4.4M651.0 565.3V573.3M648.8 565.3h4.4M648.8 573.3h4.4M656.8 566.2V574.0M654.6 566.2h4.4M654.6 574.0h4.4M683.8 541.1V554.7M681.6 541.1h4.4M681.6 554.7h4.4M701.6 545.2V557.8M699.4 545.2h4.4M699.4 557.8h4.4M720.0 547.2V559.4M717.8 547.2h4.4M717.8 559.4h4.4M734.9 545.9V558.3M732.7 545.9h4.4M732.7 558.3h4.4" stroke="#1c1c1c" stroke-width="0.7" fill="none"/>
<path d="M82.0 518.3V538.5M79.8 518.3h4.4M79.8 538.5h4.4M85.5 525.8V545.7M83.3 525.8h4.4M83.3 545.7h4.4M88.9 579.2V587.7M86.7 579.2h4.4M86.7 587.7h4.4M92.4 587.5V593.6M90.2 587.5h4.4M90.2 593.6h4.4M95.9 592.0V595.8M93.7 592.0h4.4M93.7 595.8h4.4M99.3 594.7V598.2M97.1 594.7h4.4M97.1 598.2h4.4M102.8 595.7V599.1M100.6 595.7h4.4M100.6 599.1h4.4M106.3 588.3V592.9M104.1 588.3h4.4M104.1 592.9h4.4M109.7 588.0V593.9M107.5 588.0h4.4M107.5 593.9h4.4M113.2 594.2V597.6M111.0 594.2h4.4M111.0 597.6h4.4M116.7 593.7V597.6M114.5 593.7h4.4M114.5 597.6h4.4M120.2 583.1V589.9M118.0 583.1h4.4M118.0 589.9h4.4M123.6 588.7V594.1M121.4 588.7h4.4M121.4 594.1h4.4M127.1 589.9V594.5M124.9 589.9h4.4M124.9 594.5h4.4M130.6 587.8V593.1M128.4 587.8h4.4M128.4 593.1h4.4M134.0 595.0V598.5M131.8 595.0h4.4M131.8 598.5h4.4M137.5 592.1V596.3M135.3 592.1h4.4M135.3 596.3h4.4M141.0 577.9V586.5M138.8 577.9h4.4M138.8 586.5h4.4M144.4 584.2V590.5M142.2 584.2h4.4M142.2 590.5h4.4M147.9 593.8V597.6M145.7 593.8h4.4M145.7 597.6h4.4M151.4 583.1V588.7M149.2 583.1h4.4M149.2 588.7h4.4M154.8 574.9V584.3M152.6 574.9h4.4M152.6 584.3h4.4M158.3 575.5V584.3M156.1 575.5h4.4M156.1 584.3h4.4M161.8 579.5V586.5M159.6 579.5h4.4M159.6 586.5h4.4M165.2 571.6V582.5M163.0 571.6h4.4M163.0 582.5h4.4M168.7 518.8V546.4M166.5 518.8h4.4M166.5 546.4h4.4M172.2 457.6V498.1M170.0 457.6h4.4M170.0 498.1h4.4M175.7 519.0V539.6M173.5 519.0h4.4M173.5 539.6h4.4M179.1 553.2V568.0M176.9 553.2h4.4M176.9 568.0h4.4M182.6 519.7V539.4M180.4 519.7h4.4M180.4 539.4h4.4M186.1 542.0V557.0M183.9 542.0h4.4M183.9 557.0h4.4M189.5 554.3V568.5M187.3 554.3h4.4M187.3 568.5h4.4M193.0 571.7V579.9M190.8 571.7h4.4M190.8 579.9h4.4M196.5 554.7V568.9M194.3 554.7h4.4M194.3 568.9h4.4M199.9 559.9V573.1M197.7 559.9h4.4M197.7 573.1h4.4M203.4 550.0V562.6M201.2 550.0h4.4M201.2 562.6h4.4M206.9 565.3V577.6M204.7 565.3h4.4M204.7 577.6h4.4M210.3 515.7V535.9M208.1 515.7h4.4M208.1 535.9h4.4M213.8 544.6V563.7M211.6 544.6h4.4M211.6 563.7h4.4M217.3 572.5V583.2M215.1 572.5h4.4M215.1 583.2h4.4M220.7 551.0V566.6M218.5 551.0h4.4M218.5 566.6h4.4M224.2 584.0V589.5M222.0 584.0h4.4M222.0 589.5h4.4M227.7 567.2V578.3M225.5 567.2h4.4M225.5 578.3h4.4M231.1 582.8V589.3M228.9 582.8h4.4M228.9 589.3h4.4M234.6 571.6V583.2M232.4 571.6h4.4M232.4 583.2h4.4M238.1 542.8V557.6M235.9 542.8h4.4M235.9 557.6h4.4M241.6 524.5V551.1M239.4 524.5h4.4M239.4 551.1h4.4M245.0 547.7V567.7M242.8 547.7h4.4M242.8 567.7h4.4M248.5 552.9V569.4M246.3 552.9h4.4M246.3 569.4h4.4M252.0 565.3V578.4M249.8 565.3h4.4M249.8 578.4h4.4M255.4 588.5V593.3M253.2 588.5h4.4M253.2 593.3h4.4M258.9 589.5V595.1M256.7 589.5h4.4M256.7 595.1h4.4M262.4 586.1V592.0M260.2 586.1h4.4M260.2 592.0h4.4M265.8 590.3V595.6M263.6 590.3h4.4M263.6 595.6h4.4M269.3 588.9V594.6M267.1 588.9h4.4M267.1 594.6h4.4M272.8 583.0V588.9M270.6 583.0h4.4M270.6 588.9h4.4M276.2 584.5V591.4M274.0 584.5h4.4M274.0 591.4h4.4M279.7 585.1V592.1M277.5 585.1h4.4M277.5 592.1h4.4M283.2 590.7V594.8M281.0 590.7h4.4M281.0 594.8h4.4M286.6 591.2V595.5M284.4 591.2h4.4M284.4 595.5h4.4M290.1 594.0V597.9M287.9 594.0h4.4M287.9 597.9h4.4M293.6 577.7V584.9M291.4 577.7h4.4M291.4 584.9h4.4M297.1 591.1V596.0M294.9 591.1h4.4M294.9 596.0h4.4M300.5 592.4V596.4M298.3 592.4h4.4M298.3 596.4h4.4M304.0 593.1V597.3M301.8 593.1h4.4M301.8 597.3h4.4M307.5 593.0V596.7M305.3 593.0h4.4M305.3 596.7h4.4M310.9 590.2V595.0M308.7 590.2h4.4M308.7 595.0h4.4M314.4 585.2V592.2M312.2 585.2h4.4M312.2 592.2h4.4M317.9 587.1V592.2M315.7 587.1h4.4M315.7 592.2h4.4M321.3 585.7V591.3M319.1 585.7h4.4M319.1 591.3h4.4M324.8 587.0V592.7M322.6 587.0h4.4M322.6 592.7h4.4M328.3 576.4V584.4M326.1 576.4h4.4M326.1 584.4h4.4M331.7 553.6V565.4M329.5 553.6h4.4M329.5 565.4h4.4M335.2 530.4V548.5M333.0 530.4h4.4M333.0 548.5h4.4M338.7 534.3V551.3M336.5 534.3h4.4M336.5 551.3h4.4M342.1 563.5V577.8M339.9 563.5h4.4M339.9 577.8h4.4M345.6 578.5V587.0M343.4 578.5h4.4M343.4 587.0h4.4M349.1 575.4V585.6M346.9 575.4h4.4M346.9 585.6h4.4M352.5 582.9V589.0M350.3 582.9h4.4M350.3 589.0h4.4M356.0 584.0V591.1M353.8 584.0h4.4M353.8 591.1h4.4M359.5 582.1V588.1M357.3 582.1h4.4M357.3 588.1h4.4M363.0 571.1V581.3M360.8 571.1h4.4M360.8 581.3h4.4M366.4 580.3V588.1M364.2 580.3h4.4M364.2 588.1h4.4M369.9 583.5V589.8M367.7 583.5h4.4M367.7 589.8h4.4M373.4 584.6V591.7M371.2 584.6h4.4M371.2 591.7h4.4M376.8 580.0V587.7M374.6 580.0h4.4M374.6 587.7h4.4M380.3 581.2V588.7M378.1 581.2h4.4M378.1 588.7h4.4M383.8 583.8V591.1M381.6 583.8h4.4M381.6 591.1h4.4M387.2 581.6V587.7M385.0 581.6h4.4M385.0 587.7h4.4M390.7 583.6V591.2M388.5 583.6h4.4M388.5 591.2h4.4M394.2 586.9V592.8M392.0 586.9h4.4M392.0 592.8h4.4M397.6 586.7V592.3M395.4 586.7h4.4M395.4 592.3h4.4M401.1 579.0V587.7M398.9 579.0h4.4M398.9 587.7h4.4M404.6 579.7V586.7M402.4 579.7h4.4M402.4 586.7h4.4M408.0 570.1V582.3M405.8 570.1h4.4M405.8 582.3h4.4M411.5 571.5V581.8M409.3 571.5h4.4M409.3 581.8h4.4M415.0 570.8V580.4M412.8 570.8h4.4M412.8 580.4h4.4M418.5 504.1V536.1M416.3 504.1h4.4M416.3 536.1h4.4M421.9 576.2V584.7M419.7 576.2h4.4M419.7 584.7h4.4M425.4 587.4V592.4M423.2 587.4h4.4M423.2 592.4h4.4M428.9 587.1V593.1M426.7 587.1h4.4M426.7 593.1h4.4M432.3 586.2V591.2M430.1 586.2h4.4M430.1 591.2h4.4M435.8 583.2V590.6M433.6 583.2h4.4M433.6 590.6h4.4M439.3 586.6V592.0M437.1 586.6h4.4M437.1 592.0h4.4M442.7 585.7V592.0M440.5 585.7h4.4M440.5 592.0h4.4M446.2 588.1V594.2M444.0 588.1h4.4M444.0 594.2h4.4M449.7 586.8V592.6M447.5 586.8h4.4M447.5 592.6h4.4M453.1 587.9V593.6M450.9 587.9h4.4M450.9 593.6h4.4M456.6 591.3V595.6M454.4 591.3h4.4M454.4 595.6h4.4M460.1 588.9V593.3M457.9 588.9h4.4M457.9 593.3h4.4M463.5 587.3V592.1M461.3 587.3h4.4M461.3 592.1h4.4M467.0 581.7V587.9M464.8 581.7h4.4M464.8 587.9h4.4M470.5 591.5V596.1M468.3 591.5h4.4M468.3 596.1h4.4M474.0 589.6V594.5M471.8 589.6h4.4M471.8 594.5h4.4M477.4 592.0V596.3M475.2 592.0h4.4M475.2 596.3h4.4M480.9 587.0V593.3M478.7 587.0h4.4M478.7 593.3h4.4M484.4 592.7V596.4M482.2 592.7h4.4M482.2 596.4h4.4M487.8 587.4V592.5M485.6 587.4h4.4M485.6 592.5h4.4M491.3 580.0V588.0M489.1 580.0h4.4M489.1 588.0h4.4M494.8 572.0V579.9M492.6 572.0h4.4M492.6 579.9h4.4M498.2 553.5V565.0M496.0 553.5h4.4M496.0 565.0h4.4M501.7 569.5V579.4M499.5 569.5h4.4M499.5 579.4h4.4M505.2 584.8V590.2M503.0 584.8h4.4M503.0 590.2h4.4M508.6 583.6V589.9M506.4 583.6h4.4M506.4 589.9h4.4M512.1 581.2V587.7M509.9 581.2h4.4M509.9 587.7h4.4M515.6 559.4V573.1M513.4 559.4h4.4M513.4 573.1h4.4M519.0 567.8V579.1M516.8 567.8h4.4M516.8 579.1h4.4M522.5 575.1V583.0M520.3 575.1h4.4M520.3 583.0h4.4M526.0 559.6V573.5M523.8 559.6h4.4M523.8 573.5h4.4M529.4 569.2V579.7M527.2 569.2h4.4M527.2 579.7h4.4M532.9 574.8V582.5M530.7 574.8h4.4M530.7 582.5h4.4M536.4 568.1V580.8M534.2 568.1h4.4M534.2 580.8h4.4M539.9 559.9V571.6M537.7 559.9h4.4M537.7 571.6h4.4M543.3 562.0V572.6M541.1 562.0h4.4M541.1 572.6h4.4M546.8 582.0V588.0M544.6 582.0h4.4M544.6 588.0h4.4M550.3 583.3V590.3M548.1 583.3h4.4M548.1 590.3h4.4M553.7 584.7V591.7M551.5 584.7h4.4M551.5 591.7h4.4M557.2 574.7V584.7M555.0 574.7h4.4M555.0 584.7h4.4M560.7 588.5V593.6M558.5 588.5h4.4M558.5 593.6h4.4M564.1 583.9V589.9M561.9 583.9h4.4M561.9 589.9h4.4M567.6 582.3V588.0M565.4 582.3h4.4M565.4 588.0h4.4M571.1 582.9V590.0M568.9 582.9h4.4M568.9 590.0h4.4M574.5 575.6V584.6M572.3 575.6h4.4M572.3 584.6h4.4M578.0 572.7V581.7M575.8 572.7h4.4M575.8 581.7h4.4M581.5 557.4V572.1M579.3 557.4h4.4M579.3 572.1h4.4M584.9 581.0V588.2M582.7 581.0h4.4M582.7 588.2h4.4M588.4 588.0V594.0M586.2 588.0h4.4M586.2 594.0h4.4M591.9 556.9V572.2M589.7 556.9h4.4M589.7 572.2h4.4M595.4 532.2V550.5M593.2 532.2h4.4M593.2 550.5h4.4M598.8 553.2V570.7M596.6 553.2h4.4M596.6 570.7h4.4M602.3 588.8V593.3M600.1 588.8h4.4M600.1 593.3h4.4M605.8 587.8V593.2M603.6 587.8h4.4M603.6 593.2h4.4M609.2 591.5V595.8M607.0 591.5h4.4M607.0 595.8h4.4M612.7 592.6V596.4M610.5 592.6h4.4M610.5 596.4h4.4M616.2 590.1V594.3M614.0 590.1h4.4M614.0 594.3h4.4M619.6 581.9V589.6M617.4 581.9h4.4M617.4 589.6h4.4M623.1 590.2V594.4M620.9 590.2h4.4M620.9 594.4h4.4M626.6 593.2V597.2M624.4 593.2h4.4M624.4 597.2h4.4M630.0 591.0V596.0M627.8 591.0h4.4M627.8 596.0h4.4M633.5 589.5V594.0M631.3 589.5h4.4M631.3 594.0h4.4M637.0 587.1V592.2M634.8 587.1h4.4M634.8 592.2h4.4M640.4 583.1V590.1M638.2 583.1h4.4M638.2 590.1h4.4M643.9 589.5V594.5M641.7 589.5h4.4M641.7 594.5h4.4M647.4 585.2V591.6M645.2 585.2h4.4M645.2 591.6h4.4M650.8 586.6V592.9M648.6 586.6h4.4M648.6 592.9h4.4M654.3 578.2V585.3M652.1 578.2h4.4M652.1 585.3h4.4M657.8 580.9V587.8M655.6 580.9h4.4M655.6 587.8h4.4M661.3 553.8V567.3M659.1 553.8h4.4M659.1 567.3h4.4M664.7 553.2V565.1M662.5 553.2h4.4M662.5 565.1h4.4M668.2 568.7V581.0M666.0 568.7h4.4M666.0 581.0h4.4M671.7 570.3V581.7M669.5 570.3h4.4M669.5 581.7h4.4M675.1 557.9V572.9M672.9 557.9h4.4M672.9 572.9h4.4M678.6 572.7V580.4M676.4 572.7h4.4M676.4 580.4h4.4M682.1 553.4V570.5M679.9 553.4h4.4M679.9 570.5h4.4M685.5 572.5V583.0M683.3 572.5h4.4M683.3 583.0h4.4M689.0 575.7V584.4M686.8 575.7h4.4M686.8 584.4h4.4M692.5 558.7V573.5M690.3 558.7h4.4M690.3 573.5h4.4M695.9 578.9V586.6M693.7 578.9h4.4M693.7 586.6h4.4M699.4 548.4V562.7M697.2 548.4h4.4M697.2 562.7h4.4M702.9 559.5V570.4M700.7 559.5h4.4M700.7 570.4h4.4M706.3 571.6V580.5M704.1 571.6h4.4M704.1 580.5h4.4M709.8 567.9V576.7M707.6 567.9h4.4M707.6 576.7h4.4M713.3 576.7V584.7M711.1 576.7h4.4M711.1 584.7h4.4M716.8 575.1V584.9M714.6 575.1h4.4M714.6 584.9h4.4M720.2 566.5V578.7M718.0 566.5h4.4M718.0 578.7h4.4M723.7 588.6V594.3M721.5 588.6h4.4M721.5 594.3h4.4M727.2 575.2V584.8M725.0 575.2h4.4M725.0 584.8h4.4M730.6 580.8V587.6M728.4 580.8h4.4M728.4 587.6h4.4M734.1 576.3V585.1M731.9 576.3h4.4M731.9 585.1h4.4M737.6 561.3V573.7M735.4 561.3h4.4M735.4 573.7h4.4M741.0 569.9V581.4M738.8 569.9h4.4M738.8 581.4h4.4M172.1 452.0V501.4M169.9 452.0h4.4M169.9 501.4h4.4M184.0 489.1V526.1M181.8 489.1h4.4M181.8 526.1h4.4M190.2 546.1V564.1M188.0 546.1h4.4M188.0 564.1h4.4M202.0 536.2V557.4M199.8 536.2h4.4M199.8 557.4h4.4M211.2 495.0V530.0M209.0 495.0h4.4M209.0 530.0h4.4M220.0 540.1V560.1M217.8 540.1h4.4M217.8 560.1h4.4M226.7 564.1V576.1M224.5 564.1h4.4M224.5 576.1h4.4M240.9 520.1V546.7M238.7 520.1h4.4M238.7 546.7h4.4M417.6 466.7V536.7M415.4 466.7h4.4M415.4 536.7h4.4M498.4 550.1V566.7M496.2 550.1h4.4M496.2 566.7h4.4M516.8 551.2V567.4M514.6 551.2h4.4M514.6 567.4h4.4M525.1 552.1V568.1M522.9 552.1h4.4M522.9 568.1h4.4M531.0 565.2V576.8M528.8 565.2h4.4M528.8 576.8h4.4M582.0 554.2V569.4M579.8 554.2h4.4M579.8 569.4h4.4M663.0 542.5V561.7M660.8 542.5h4.4M660.8 561.7h4.4M674.9 556.8V571.2M672.7 556.8h4.4M672.7 571.2h4.4M681.4 549.6V566.4M679.2 549.6h4.4M679.2 566.4h4.4M693.3 552.5V568.3M691.1 552.5h4.4M691.1 568.3h4.4M699.0 545.4V563.6M696.8 545.4h4.4M696.8 563.6h4.4M711.1 558.2V572.2M708.9 558.2h4.4M708.9 572.2h4.4M720.0 565.3V576.9M717.8 565.3h4.4M717.8 576.9h4.4M738.2 558.2V572.2M736.0 558.2h4.4M736.0 572.2h4.4" stroke="#a3c3e6" stroke-width="0.8" fill="none"/>
<path d="M81.7 564.3L85.0 563.5L88.0 578.5L90.9 586.8L94.2 588.5L97.0 581.0L100.0 585.2L102.5 583.5L105.9 586.0L109.2 587.7L112.6 593.5L115.1 586.0L118.1 594.4L120.9 581.0L124.2 580.2L127.2 572.7L130.1 586.8L133.4 593.5L136.7 591.0L140.1 588.5L142.6 577.7L145.1 576.0L148.4 590.2L151.8 581.8L154.3 566.0L157.1 578.5L160.1 583.5L162.6 571.8L165.1 536.8L166.8 521.8L169.3 516.7L171.8 520.9L174.3 541.8L176.5 556.8L178.8 558.5L181.5 572.7L184.3 570.2L187.1 558.5L190.2 535.9L193.2 561.8L196.0 571.8L197.5 571.0L200.0 580.1L202.5 581.8L205.0 581.0L207.5 580.1L210.9 555.1L213.4 563.4L215.9 573.5L218.4 581.0L220.9 578.5L223.4 554.3L225.9 568.5L228.4 576.8L230.9 581.8L233.4 573.5L235.9 558.4L238.4 545.9L240.9 566.8L244.2 546.8L247.1 581.8L250.1 572.6L253.4 585.1L255.9 593.5L259.3 584.3L261.8 581.0L265.1 582.6L268.4 580.1L270.9 566.8L273.4 580.1L276.8 586.8L280.1 586.0L283.5 585.1L286.0 585.1L289.3 591.0L292.6 596.0L295.1 591.0L297.6 593.5L300.5 568.5L303.5 585.1L306.8 585.1L309.8 577.6L312.7 587.6L316.0 590.1L318.3 583.5L321.7 576.0L324.7 582.6L327.5 570.1L330.9 565.1L333.7 561.8L336.7 566.8L339.7 585.1L342.5 560.1L345.9 566.8L349.2 571.8L352.0 574.3L355.1 584.3L358.1 570.1L360.9 583.5L363.7 576.8L366.7 580.1L369.2 586.8L372.6 586.0L375.9 586.8L379.3 584.3L382.6 588.5L385.9 585.1L388.4 583.5L390.9 586.8L393.4 580.1L396.4 577.6L399.3 588.5L402.6 581.8L406.0 581.8L408.5 581.0L411.8 586.0L415.1 578.5L417.6 575.1L420.1 588.5L423.5 591.0L426.8 591.0L430.2 593.5L433.5 590.1L436.8 593.5L438.3 588.5L441.3 588.5L444.2 590.1L446.7 595.2L450.0 587.6L453.4 589.3L456.7 591.8L460.0 592.7L463.4 590.1L465.9 585.1L468.4 588.5L471.7 591.8L475.1 588.5L478.4 588.5L480.9 588.5L483.4 583.5L486.7 590.1L489.2 581.8L491.7 561.8L495.1 556.8L498.1 553.4L500.9 565.1L503.8 571.0L506.8 575.1L509.8 576.8L512.6 581.8L515.1 584.3L518.4 579.3L521.8 578.5L525.1 575.1L528.1 577.6L531.0 590.1L534.3 585.1L537.1 588.5L540.1 590.1L543.1 571.0L546.0 580.1L549.3 588.5L552.7 584.3L556.0 586.8L558.3 590.1L561.7 585.1L564.7 578.5L567.5 583.5L570.9 586.8L573.4 580.1L576.4 574.3L579.2 579.3L582.0 580.1L585.0 586.8L588.4 595.2L590.9 583.5L593.4 565.9L596.7 565.1L599.2 577.6L602.6 583.5L605.9 590.1L608.4 592.7L611.7 587.6L615.1 587.6L618.1 584.3L620.9 591.0L624.3 594.3L627.6 591.0L630.9 585.1L633.4 581.8L636.4 578.5L639.3 585.1L642.6 591.0L645.1 590.1L648.1 580.1L651.0 569.3L653.8 576.0L656.8 570.1L659.3 575.1L661.8 559.3L663.0 552.7L665.9 552.1L668.9 550.3L671.9 561.0L674.9 567.5L677.8 578.2L680.8 567.5L683.8 547.9L686.7 553.9L689.7 560.4L692.7 571.1L695.6 584.8L698.6 567.5L701.6 551.5L704.9 568.1L708.1 558.6L711.1 561.0L714.4 555.1L717.6 558.0L720.0 553.3L722.4 572.3L724.4 584.8L727.7 572.3L731.3 560.4L734.9 552.1L737.8 567.5L740.8 558.0L744.1 551.5" stroke="#000" stroke-width="2.4" fill="none" stroke-linejoin="round" stroke-linecap="round"/>
<path d="M82.0 528.4L84.2 531.8L85.8 536.8L87.5 565.1L89.2 586.8L91.7 590.2L95.0 591.8L97.5 597.7L100.0 596.0L103.4 597.7L105.9 591.0L108.4 588.5L111.7 594.4L115.1 597.7L118.4 593.5L120.9 583.5L123.4 591.0L125.9 595.2L129.2 586.8L132.6 596.0L135.9 597.7L139.3 590.2L142.1 576.8L144.3 586.8L147.1 597.7L150.1 590.2L152.6 581.8L155.1 579.3L157.6 581.8L160.1 575.2L162.6 586.8L165.1 578.5L167.6 553.5L170.1 506.7L172.1 476.7L174.3 506.7L176.5 543.5L179.3 561.8L181.8 541.8L184.0 507.6L186.0 548.5L187.7 578.5L190.2 555.1L192.7 577.7L195.2 561.8L196.7 561.8L199.2 573.5L202.0 546.8L204.7 565.1L206.7 573.5L209.2 543.4L211.2 512.5L213.4 550.1L215.9 575.1L218.4 580.1L220.0 550.1L222.0 573.5L224.2 586.8L226.7 570.1L229.2 576.8L232.0 590.1L235.1 575.1L238.1 550.1L240.9 533.4L243.4 550.1L245.9 561.8L248.4 560.9L251.7 570.1L254.2 586.8L256.7 595.2L259.3 591.8L261.8 588.5L264.3 591.0L267.6 595.2L270.9 588.5L273.4 585.1L276.8 588.5L279.3 587.6L281.8 593.5L285.1 591.8L288.5 595.2L291.8 596.8L294.3 575.1L296.8 593.5L300.1 594.3L303.5 595.2L306.8 595.2L310.2 593.5L313.5 589.3L316.0 587.6L318.3 590.1L321.3 588.5L324.7 590.1L327.5 583.5L330.0 573.5L332.5 553.4L334.7 540.1L336.7 537.6L338.9 543.4L340.9 555.1L342.5 575.1L345.0 583.5L348.4 579.3L351.7 585.1L355.1 588.5L358.4 585.1L360.9 585.1L363.4 574.3L366.7 585.1L369.2 586.0L372.6 589.3L375.9 584.3L379.3 582.6L381.8 588.5L385.1 586.8L388.4 583.5L391.8 589.3L395.1 590.1L398.4 589.3L401.8 581.8L405.1 583.5L408.5 575.1L411.8 576.8L414.8 580.1L416.5 538.4L417.6 501.7L419.3 538.4L421.0 573.5L423.1 589.3L426.0 590.1L429.3 590.1L432.7 588.5L436.0 586.8L438.3 590.1L441.3 587.6L444.2 590.1L447.5 591.8L450.9 588.5L453.4 591.0L456.7 593.5L460.0 591.0L462.5 593.5L465.5 582.6L468.4 586.8L470.9 595.2L474.2 591.8L477.6 594.3L480.9 590.1L483.4 594.3L486.7 595.2L489.2 583.5L492.6 584.3L495.4 573.5L498.4 558.4L500.9 571.0L503.4 581.8L504.8 587.6L508.4 586.8L511.8 586.0L514.3 573.5L516.8 559.3L519.3 575.1L521.8 584.3L525.1 560.1L527.6 578.5L531.0 571.0L533.5 581.0L536.8 573.5L540.1 565.1L543.1 565.9L545.1 578.5L547.7 588.5L550.2 586.8L553.5 588.5L556.0 585.1L558.0 576.0L560.8 591.8L564.2 586.8L567.5 585.1L570.9 586.8L573.4 581.8L576.7 576.8L579.2 577.6L582.0 561.8L584.7 583.5L587.5 596.0L590.4 580.1L593.1 551.8L595.1 541.7L597.1 539.2L598.7 560.1L600.4 586.8L603.4 593.5L606.7 589.3L610.1 595.2L613.4 594.3L616.7 591.8L619.3 587.6L621.4 576.0L623.4 595.2L626.8 595.2L630.1 593.5L633.4 591.8L636.8 590.1L639.3 584.3L642.6 591.0L646.0 593.5L648.5 584.3L651.0 590.1L653.5 582.6L656.0 580.1L658.1 585.1L661.0 561.8L663.0 552.1L665.9 564.0L668.9 578.2L671.9 575.8L674.9 564.0L677.8 581.8L681.4 558.0L684.4 575.8L687.9 581.8L690.9 577.0L693.3 560.4L695.6 585.9L699.0 554.5L702.2 562.8L705.2 572.3L708.1 581.8L711.1 565.2L714.1 586.5L717.0 579.4L720.0 571.1L723.0 591.3L725.4 591.9L728.3 572.3L731.9 590.7L734.9 577.0L738.2 565.2L741.4 577.0L744.4 587.7" stroke="#6fa3dc" stroke-width="2.4" fill="none" stroke-linejoin="round" stroke-linecap="round"/>
<rect x="78.30" y="436.3" width="2.3" height="164.7" fill="#000"/>
<rect x="78.80" y="598.85" width="669.92" height="12.750000000000023" fill="#000"/>
<rect x="78.30" y="598.85" width="2" height="2.3" fill="#000"/>
<rect x="80.20" y="601.15" width="80.70" height="9.10" fill="#fff"/>
<rect x="243.81" y="601.15" width="83.32" height="9.10" fill="#fff"/>
<rect x="411.15" y="601.15" width="82.21" height="9.10" fill="#fff"/>
<rect x="578.08" y="601.15" width="82.21" height="9.10" fill="#fff"/>
<rect x="72.40" y="436.3" width="6.5" height="1.8" fill="#000"/>
<text x="69.4" y="441.09999999999997" font-size="11.7" font-weight="bold" fill="#111" stroke="#111" stroke-width="0.3" text-anchor="end" >6000</text>
<rect x="72.40" y="490.6" width="6.5" height="1.8" fill="#000"/>
<text x="69.4" y="495.4" font-size="11.7" font-weight="bold" fill="#111" stroke="#111" stroke-width="0.3" text-anchor="end" >4000</text>
<rect x="72.40" y="544.8000000000001" width="6.5" height="1.8" fill="#000"/>
<text x="69.4" y="549.6" font-size="11.7" font-weight="bold" fill="#111" stroke="#111" stroke-width="0.3" text-anchor="end" >2000</text>
<rect x="72.40" y="599.1" width="6.5" height="1.8" fill="#000"/>
<text x="69.4" y="603.9" font-size="11.7" font-weight="bold" fill="#111" stroke="#111" stroke-width="0.3" text-anchor="end" >0</text>
<text x="0" y="0" font-size="14.2" font-weight="bold" fill="#111" stroke="#111" stroke-width="0.3" text-anchor="middle" transform="translate(31.3,511.5) rotate(-90)">Beam Breaks (counts)</text>
<text x="0" y="431.1" font-size="25" font-weight="bold" fill="#1a1a1a" stroke="#1a1a1a" stroke-width="0.3" text-anchor="start" >C</text>
<text x="162.2" y="623.4" font-size="14.5" font-weight="bold" fill="#1a1a1a" stroke="#1a1a1a" stroke-width="0.3" text-anchor="middle" >Day1</text>
<text x="328.2" y="623.4" font-size="14.5" font-weight="bold" fill="#1a1a1a" stroke="#1a1a1a" stroke-width="0.3" text-anchor="middle" >Day2</text>
<text x="495.4" y="623.4" font-size="14.5" font-weight="bold" fill="#1a1a1a" stroke="#1a1a1a" stroke-width="0.3" text-anchor="middle" >Day3</text>
<text x="660.0" y="623.4" font-size="14.5" font-weight="bold" fill="#1a1a1a" stroke="#1a1a1a" stroke-width="0.3" text-anchor="middle" >Day4</text>
</g>
<g>
<rect x="80.60" y="643.3" width="173.74" height="172.45000000000005" fill="#fdd6c9"/>
<rect x="254.34" y="643.3" width="331.66" height="172.45000000000005" fill="#c8e4f3"/>
<rect x="586.00" y="643.3" width="163.00" height="172.45000000000005" fill="#fdd6c9"/>
<line x1="162.70" y1="643.3" x2="162.70" y2="815.75" stroke="#7a7a7a" stroke-width="1"/>
<line x1="246.42" y1="643.3" x2="246.42" y2="815.75" stroke="#7a7a7a" stroke-width="1"/>
<line x1="328.73" y1="643.3" x2="328.73" y2="815.75" stroke="#7a7a7a" stroke-width="1"/>
<line x1="412.05" y1="643.3" x2="412.05" y2="815.75" stroke="#7a7a7a" stroke-width="1"/>
<line x1="496.06" y1="643.3" x2="496.06" y2="815.75" stroke="#7a7a7a" stroke-width="1"/>
<line x1="579.78" y1="643.3" x2="579.78" y2="815.75" stroke="#7a7a7a" stroke-width="1"/>
<line x1="661.39" y1="643.3" x2="661.39" y2="815.75" stroke="#7a7a7a" stroke-width="1"/>
<text x="161.65" y="655.8" font-size="14.4" font-weight="bold" fill="#c1152c" stroke="#c1152c" stroke-width="0.3" text-anchor="middle" >22°C</text>
<text x="416.05" y="656.0" font-size="14.5" font-weight="bold" fill="#332e98" stroke="#332e98" stroke-width="0.3" text-anchor="middle" >4°C</text>
<text x="660.15" y="655.8" font-size="14.4" font-weight="bold" fill="#c1152c" stroke="#c1152c" stroke-width="0.3" text-anchor="middle" >22°C</text>
<path d="M82.0 732.0V737.6M79.8 732.0h4.4M79.8 737.6h4.4M85.5 747.2V752.0M83.3 747.2h4.4M83.3 752.0h4.4M88.9 748.0V754.1M86.7 748.0h4.4M86.7 754.1h4.4M92.4 739.3V746.4M90.2 739.3h4.4M90.2 746.4h4.4M95.9 738.4V743.0M93.7 738.4h4.4M93.7 743.0h4.4M99.3 736.8V743.7M97.1 736.8h4.4M97.1 743.7h4.4M102.8 739.2V743.2M100.6 739.2h4.4M100.6 743.2h4.4M106.3 741.8V746.6M104.1 741.8h4.4M104.1 746.6h4.4M109.7 736.6V741.3M107.5 736.6h4.4M107.5 741.3h4.4M113.2 733.8V740.2M111.0 733.8h4.4M111.0 740.2h4.4M116.7 730.9V738.0M114.5 730.9h4.4M114.5 738.0h4.4M120.2 728.3V734.7M118.0 728.3h4.4M118.0 734.7h4.4M123.6 726.7V731.7M121.4 726.7h4.4M121.4 731.7h4.4M127.1 719.1V726.0M124.9 719.1h4.4M124.9 726.0h4.4M130.6 723.3V728.3M128.4 723.3h4.4M128.4 728.3h4.4M134.0 734.0V738.7M131.8 734.0h4.4M131.8 738.7h4.4M137.5 728.9V735.8M135.3 728.9h4.4M135.3 735.8h4.4M141.0 724.9V730.9M138.8 724.9h4.4M138.8 730.9h4.4M144.4 729.1V735.4M142.2 729.1h4.4M142.2 735.4h4.4M147.9 736.4V742.6M145.7 736.4h4.4M145.7 742.6h4.4M151.4 723.3V730.5M149.2 723.3h4.4M149.2 730.5h4.4M154.8 711.7V717.2M152.6 711.7h4.4M152.6 717.2h4.4M158.3 726.9V733.7M156.1 726.9h4.4M156.1 733.7h4.4M161.8 726.9V733.2M159.6 726.9h4.4M159.6 733.2h4.4M165.2 728.7V735.5M163.0 728.7h4.4M163.0 735.5h4.4M168.7 738.3V743.7M166.5 738.3h4.4M166.5 743.7h4.4M172.2 732.5V738.9M170.0 732.5h4.4M170.0 738.9h4.4M175.7 726.7V732.6M173.5 726.7h4.4M173.5 732.6h4.4M179.1 733.5V738.5M176.9 733.5h4.4M176.9 738.5h4.4M182.6 734.9V739.5M180.4 734.9h4.4M180.4 739.5h4.4M186.1 734.6V740.6M183.9 734.6h4.4M183.9 740.6h4.4M189.5 735.4V739.5M187.3 735.4h4.4M187.3 739.5h4.4M193.0 735.7V742.7M190.8 735.7h4.4M190.8 742.7h4.4M196.5 739.8V744.2M194.3 739.8h4.4M194.3 744.2h4.4M199.9 736.6V740.6M197.7 736.6h4.4M197.7 740.6h4.4M203.4 733.0V737.2M201.2 733.0h4.4M201.2 737.2h4.4M206.9 735.9V743.0M204.7 735.9h4.4M204.7 743.0h4.4M210.3 733.3V738.4M208.1 733.3h4.4M208.1 738.4h4.4M213.8 727.4V731.8M211.6 727.4h4.4M211.6 731.8h4.4M217.3 735.0V739.0M215.1 735.0h4.4M215.1 739.0h4.4M220.7 732.3V736.4M218.5 732.3h4.4M218.5 736.4h4.4M224.2 727.5V733.8M222.0 727.5h4.4M222.0 733.8h4.4M227.7 732.6V738.6M225.5 732.6h4.4M225.5 738.6h4.4M231.1 737.8V744.0M228.9 737.8h4.4M228.9 744.0h4.4M234.6 733.5V739.9M232.4 733.5h4.4M232.4 739.9h4.4M238.1 736.5V740.7M235.9 736.5h4.4M235.9 740.7h4.4M241.6 742.1V748.1M239.4 742.1h4.4M239.4 748.1h4.4M245.0 742.5V747.7M242.8 742.5h4.4M242.8 747.7h4.4M248.5 740.2V746.8M246.3 740.2h4.4M246.3 746.8h4.4M252.0 731.6V738.3M249.8 731.6h4.4M249.8 738.3h4.4M255.4 737.3V744.2M253.2 737.3h4.4M253.2 744.2h4.4M258.9 739.8V744.0M256.7 739.8h4.4M256.7 744.0h4.4M262.4 738.1V744.9M260.2 738.1h4.4M260.2 744.9h4.4M265.8 745.1V752.1M263.6 745.1h4.4M263.6 752.1h4.4M269.3 740.9V748.0M267.1 740.9h4.4M267.1 748.0h4.4M272.8 743.6V747.9M270.6 743.6h4.4M270.6 747.9h4.4M276.2 749.8V754.4M274.0 749.8h4.4M274.0 754.4h4.4M279.7 743.4V747.7M277.5 743.4h4.4M277.5 747.7h4.4M283.2 741.7V745.7M281.0 741.7h4.4M281.0 745.7h4.4M286.6 741.4V748.2M284.4 741.4h4.4M284.4 748.2h4.4M290.1 738.8V745.5M287.9 738.8h4.4M287.9 745.5h4.4M293.6 733.4V739.5M291.4 733.4h4.4M291.4 739.5h4.4M297.1 726.3V733.0M294.9 726.3h4.4M294.9 733.0h4.4M300.5 731.5V737.5M298.3 731.5h4.4M298.3 737.5h4.4M304.0 729.7V734.5M301.8 729.7h4.4M301.8 734.5h4.4M307.5 728.8V733.1M305.3 728.8h4.4M305.3 733.1h4.4M310.9 730.4V734.6M308.7 730.4h4.4M308.7 734.6h4.4M314.4 730.1V736.5M312.2 730.1h4.4M312.2 736.5h4.4M317.9 726.6V731.2M315.7 726.6h4.4M315.7 731.2h4.4M321.3 724.4V729.4M319.1 724.4h4.4M319.1 729.4h4.4M324.8 727.4V732.8M322.6 727.4h4.4M322.6 732.8h4.4M328.3 728.1V732.1M326.1 728.1h4.4M326.1 732.1h4.4M331.7 728.5V733.3M329.5 728.5h4.4M329.5 733.3h4.4M335.2 727.5V732.4M333.0 727.5h4.4M333.0 732.4h4.4M338.7 730.6V736.9M336.5 730.6h4.4M336.5 736.9h4.4M342.1 728.0V733.2M339.9 728.0h4.4M339.9 733.2h4.4M345.6 732.0V737.0M343.4 732.0h4.4M343.4 737.0h4.4M349.1 738.8V745.9M346.9 738.8h4.4M346.9 745.9h4.4M352.5 738.1V743.7M350.3 738.1h4.4M350.3 743.7h4.4M356.0 733.1V739.8M353.8 733.1h4.4M353.8 739.8h4.4M359.5 733.7V739.7M357.3 733.7h4.4M357.3 739.7h4.4M363.0 736.1V740.1M360.8 736.1h4.4M360.8 740.1h4.4M366.4 744.7V750.0M364.2 744.7h4.4M364.2 750.0h4.4M369.9 735.1V740.5M367.7 735.1h4.4M367.7 740.5h4.4M373.4 737.7V744.3M371.2 737.7h4.4M371.2 744.3h4.4M376.8 737.3V742.4M374.6 737.3h4.4M374.6 742.4h4.4M380.3 736.0V742.3M378.1 736.0h4.4M378.1 742.3h4.4M383.8 738.4V744.1M381.6 738.4h4.4M381.6 744.1h4.4M387.2 737.5V742.1M385.0 737.5h4.4M385.0 742.1h4.4M390.7 735.8V742.6M388.5 735.8h4.4M388.5 742.6h4.4M394.2 737.1V741.3M392.0 737.1h4.4M392.0 741.3h4.4M397.6 739.4V746.1M395.4 739.4h4.4M395.4 746.1h4.4M401.1 742.6V747.1M398.9 742.6h4.4M398.9 747.1h4.4M404.6 745.0V748.9M402.4 745.0h4.4M402.4 748.9h4.4M408.0 744.4V749.0M405.8 744.4h4.4M405.8 749.0h4.4M411.5 740.8V747.3M409.3 740.8h4.4M409.3 747.3h4.4M415.0 743.5V750.7M412.8 743.5h4.4M412.8 750.7h4.4M418.5 742.9V746.8M416.3 742.9h4.4M416.3 746.8h4.4M421.9 741.4V747.0M419.7 741.4h4.4M419.7 747.0h4.4M425.4 741.1V746.7M423.2 741.1h4.4M423.2 746.7h4.4M428.9 741.5V748.1M426.7 741.5h4.4M426.7 748.1h4.4M432.3 739.5V744.1M430.1 739.5h4.4M430.1 744.1h4.4M435.8 731.8V737.4M433.6 731.8h4.4M433.6 737.4h4.4M439.3 735.5V740.6M437.1 735.5h4.4M437.1 740.6h4.4M442.7 736.4V743.1M440.5 736.4h4.4M440.5 743.1h4.4M446.2 736.5V741.2M444.0 736.5h4.4M444.0 741.2h4.4M449.7 733.1V740.2M447.5 733.1h4.4M447.5 740.2h4.4M453.1 737.2V742.0M450.9 737.2h4.4M450.9 742.0h4.4M456.6 736.2V740.8M454.4 736.2h4.4M454.4 740.8h4.4M460.1 730.2V736.5M457.9 730.2h4.4M457.9 736.5h4.4M463.5 726.8V732.4M461.3 726.8h4.4M461.3 732.4h4.4M467.0 730.0V734.3M464.8 730.0h4.4M464.8 734.3h4.4M470.5 728.6V734.6M468.3 728.6h4.4M468.3 734.6h4.4M474.0 724.9V729.0M471.8 724.9h4.4M471.8 729.0h4.4M477.4 732.0V738.6M475.2 732.0h4.4M475.2 738.6h4.4M480.9 730.3V736.5M478.7 730.3h4.4M478.7 736.5h4.4M484.4 723.5V730.0M482.2 723.5h4.4M482.2 730.0h4.4M487.8 719.5V725.6M485.6 719.5h4.4M485.6 725.6h4.4M491.3 723.0V728.1M489.1 723.0h4.4M489.1 728.1h4.4M494.8 725.4V730.7M492.6 725.4h4.4M492.6 730.7h4.4M498.2 730.2V735.4M496.0 730.2h4.4M496.0 735.4h4.4M501.7 729.9V736.9M499.5 729.9h4.4M499.5 736.9h4.4M505.2 734.9V739.1M503.0 734.9h4.4M503.0 739.1h4.4M508.6 728.6V735.5M506.4 728.6h4.4M506.4 735.5h4.4M512.1 736.9V740.9M509.9 736.9h4.4M509.9 740.9h4.4M515.6 730.3V734.9M513.4 730.3h4.4M513.4 734.9h4.4M519.0 735.5V740.3M516.8 735.5h4.4M516.8 740.3h4.4M522.5 736.9V743.8M520.3 736.9h4.4M520.3 743.8h4.4M526.0 736.9V742.5M523.8 736.9h4.4M523.8 742.5h4.4M529.4 739.4V744.6M527.2 739.4h4.4M527.2 744.6h4.4M532.9 733.5V740.4M530.7 733.5h4.4M530.7 740.4h4.4M536.4 736.5V741.2M534.2 736.5h4.4M534.2 741.2h4.4M539.9 729.7V735.1M537.7 729.7h4.4M537.7 735.1h4.4M543.3 734.4V740.1M541.1 734.4h4.4M541.1 740.1h4.4M546.8 737.7V744.1M544.6 737.7h4.4M544.6 744.1h4.4M550.3 738.4V744.9M548.1 738.4h4.4M548.1 744.9h4.4M553.7 735.1V741.2M551.5 735.1h4.4M551.5 741.2h4.4M557.2 731.9V737.0M555.0 731.9h4.4M555.0 737.0h4.4M560.7 731.4V736.4M558.5 731.4h4.4M558.5 736.4h4.4M564.1 729.5V734.0M561.9 729.5h4.4M561.9 734.0h4.4M567.6 740.1V746.9M565.4 740.1h4.4M565.4 746.9h4.4M571.1 743.8V749.9M568.9 743.8h4.4M568.9 749.9h4.4M574.5 734.6V741.0M572.3 734.6h4.4M572.3 741.0h4.4M578.0 735.4V739.8M575.8 735.4h4.4M575.8 739.8h4.4M581.5 740.8V746.2M579.3 740.8h4.4M579.3 746.2h4.4M584.9 744.3V750.8M582.7 744.3h4.4M582.7 750.8h4.4M588.4 734.9V740.7M586.2 734.9h4.4M586.2 740.7h4.4M591.9 733.5V737.9M589.7 733.5h4.4M589.7 737.9h4.4M595.4 735.6V741.1M593.2 735.6h4.4M593.2 741.1h4.4M598.8 736.9V743.8M596.6 736.9h4.4M596.6 743.8h4.4M602.3 744.3V749.0M600.1 744.3h4.4M600.1 749.0h4.4M605.8 749.2V753.8M603.6 749.2h4.4M603.6 753.8h4.4M609.2 746.7V751.6M607.0 746.7h4.4M607.0 751.6h4.4M612.7 740.1V746.4M610.5 740.1h4.4M610.5 746.4h4.4M616.2 736.9V743.7M614.0 736.9h4.4M614.0 743.7h4.4M619.6 744.0V748.4M617.4 744.0h4.4M617.4 748.4h4.4M623.1 743.5V747.9M620.9 743.5h4.4M620.9 747.9h4.4M626.6 741.5V746.2M624.4 741.5h4.4M624.4 746.2h4.4M630.0 737.6V742.6M627.8 737.6h4.4M627.8 742.6h4.4M633.5 741.3V747.0M631.3 741.3h4.4M631.3 747.0h4.4M637.0 744.3V748.8M634.8 744.3h4.4M634.8 748.8h4.4M640.4 744.2V749.2M638.2 744.2h4.4M638.2 749.2h4.4M643.9 745.1V749.6M641.7 745.1h4.4M641.7 749.6h4.4M647.4 732.6V739.8M645.2 732.6h4.4M645.2 739.8h4.4M650.8 732.5V738.9M648.6 732.5h4.4M648.6 738.9h4.4M654.3 739.6V743.9M652.1 739.6h4.4M652.1 743.9h4.4M657.8 729.8V737.0M655.6 729.8h4.4M655.6 737.0h4.4M661.3 736.7V741.0M659.1 736.7h4.4M659.1 741.0h4.4M664.7 733.7V738.9M662.5 733.7h4.4M662.5 738.9h4.4M668.2 734.7V742.0M666.0 734.7h4.4M666.0 742.0h4.4M671.7 737.0V743.6M669.5 737.0h4.4M669.5 743.6h4.4M675.1 727.1V733.5M672.9 727.1h4.4M672.9 733.5h4.4M678.6 735.2V740.6M676.4 735.2h4.4M676.4 740.6h4.4M682.1 736.1V740.7M679.9 736.1h4.4M679.9 740.7h4.4M685.5 724.9V731.0M683.3 724.9h4.4M683.3 731.0h4.4M689.0 732.1V736.3M686.8 732.1h4.4M686.8 736.3h4.4M692.5 734.5V739.2M690.3 734.5h4.4M690.3 739.2h4.4M695.9 727.7V733.0M693.7 727.7h4.4M693.7 733.0h4.4M699.4 725.7V729.7M697.2 725.7h4.4M697.2 729.7h4.4M702.9 729.7V735.0M700.7 729.7h4.4M700.7 735.0h4.4M706.3 729.8V736.4M704.1 729.8h4.4M704.1 736.4h4.4M709.8 729.7V736.0M707.6 729.7h4.4M707.6 736.0h4.4M713.3 724.9V730.5M711.1 724.9h4.4M711.1 730.5h4.4M716.8 727.5V733.5M714.6 727.5h4.4M714.6 733.5h4.4M720.2 726.5V732.0M718.0 726.5h4.4M718.0 732.0h4.4M723.7 730.0V734.4M721.5 730.0h4.4M721.5 734.4h4.4M727.2 729.0V735.0M725.0 729.0h4.4M725.0 735.0h4.4M730.6 729.4V734.7M728.4 729.4h4.4M728.4 734.7h4.4M734.1 722.8V729.2M731.9 722.8h4.4M731.9 729.2h4.4M737.6 729.2V736.2M735.4 729.2h4.4M735.4 736.2h4.4M741.0 737.2V742.5M738.8 737.2h4.4M738.8 742.5h4.4" stroke="#1c1c1c" stroke-width="0.7" fill="none"/>
<path d="M82.0 722.3V731.1M79.8 722.3h4.4M79.8 731.1h4.4M85.5 739.1V748.8M83.3 739.1h4.4M83.3 748.8h4.4M88.9 736.0V744.0M86.7 736.0h4.4M86.7 744.0h4.4M92.4 714.0V721.1M90.2 714.0h4.4M90.2 721.1h4.4M95.9 706.9V716.4M93.7 706.9h4.4M93.7 716.4h4.4M99.3 705.3V715.7M97.1 705.3h4.4M97.1 715.7h4.4M102.8 701.8V711.6M100.6 701.8h4.4M100.6 711.6h4.4M106.3 691.7V701.1M104.1 691.7h4.4M104.1 701.1h4.4M109.7 713.5V723.7M107.5 713.5h4.4M107.5 723.7h4.4M113.2 708.8V718.1M111.0 708.8h4.4M111.0 718.1h4.4M116.7 702.5V711.6M114.5 702.5h4.4M114.5 711.6h4.4M120.2 702.1V710.3M118.0 702.1h4.4M118.0 710.3h4.4M123.6 717.0V724.5M121.4 717.0h4.4M121.4 724.5h4.4M127.1 712.2V721.3M124.9 712.2h4.4M124.9 721.3h4.4M130.6 703.5V709.8M128.4 703.5h4.4M128.4 709.8h4.4M134.0 714.3V722.3M131.8 714.3h4.4M131.8 722.3h4.4M137.5 702.7V712.5M135.3 702.7h4.4M135.3 712.5h4.4M141.0 700.6V710.1M138.8 700.6h4.4M138.8 710.1h4.4M144.4 713.7V722.7M142.2 713.7h4.4M142.2 722.7h4.4M147.9 722.6V729.7M145.7 722.6h4.4M145.7 729.7h4.4M151.4 713.5V721.5M149.2 713.5h4.4M149.2 721.5h4.4M154.8 702.9V711.0M152.6 702.9h4.4M152.6 711.0h4.4M158.3 722.9V731.9M156.1 722.9h4.4M156.1 731.9h4.4M161.8 721.7V729.6M159.6 721.7h4.4M159.6 729.6h4.4M165.2 716.0V725.3M163.0 716.0h4.4M163.0 725.3h4.4M168.7 727.9V738.5M166.5 727.9h4.4M166.5 738.5h4.4M172.2 740.4V747.2M170.0 740.4h4.4M170.0 747.2h4.4M175.7 735.2V744.4M173.5 735.2h4.4M173.5 744.4h4.4M179.1 736.4V746.2M176.9 736.4h4.4M176.9 746.2h4.4M182.6 722.6V730.5M180.4 722.6h4.4M180.4 730.5h4.4M186.1 740.3V748.7M183.9 740.3h4.4M183.9 748.7h4.4M189.5 729.5V740.3M187.3 729.5h4.4M187.3 740.3h4.4M193.0 732.6V738.7M190.8 732.6h4.4M190.8 738.7h4.4M196.5 725.8V734.4M194.3 725.8h4.4M194.3 734.4h4.4M199.9 732.3V739.0M197.7 732.3h4.4M197.7 739.0h4.4M203.4 733.4V743.2M201.2 733.4h4.4M201.2 743.2h4.4M206.9 721.5V732.1M204.7 721.5h4.4M204.7 732.1h4.4M210.3 728.5V737.0M208.1 728.5h4.4M208.1 737.0h4.4M213.8 737.5V743.9M211.6 737.5h4.4M211.6 743.9h4.4M217.3 735.1V743.9M215.1 735.1h4.4M215.1 743.9h4.4M220.7 729.5V738.1M218.5 729.5h4.4M218.5 738.1h4.4M224.2 726.5V735.9M222.0 726.5h4.4M222.0 735.9h4.4M227.7 733.4V741.9M225.5 733.4h4.4M225.5 741.9h4.4M231.1 732.6V741.7M228.9 732.6h4.4M228.9 741.7h4.4M234.6 735.5V745.6M232.4 735.5h4.4M232.4 745.6h4.4M238.1 728.4V736.9M235.9 728.4h4.4M235.9 736.9h4.4M241.6 740.5V748.5M239.4 740.5h4.4M239.4 748.5h4.4M245.0 736.9V747.5M242.8 736.9h4.4M242.8 747.5h4.4M248.5 723.5V730.4M246.3 723.5h4.4M246.3 730.4h4.4M252.0 733.1V742.4M249.8 733.1h4.4M249.8 742.4h4.4M255.4 730.7V738.5M253.2 730.7h4.4M253.2 738.5h4.4M258.9 712.1V721.8M256.7 712.1h4.4M256.7 721.8h4.4M262.4 710.7V717.1M260.2 710.7h4.4M260.2 717.1h4.4M265.8 724.1V734.9M263.6 724.1h4.4M263.6 734.9h4.4M269.3 728.7V736.3M267.1 728.7h4.4M267.1 736.3h4.4M272.8 734.7V740.9M270.6 734.7h4.4M270.6 740.9h4.4M276.2 737.8V745.1M274.0 737.8h4.4M274.0 745.1h4.4M279.7 736.3V744.2M277.5 736.3h4.4M277.5 744.2h4.4M283.2 729.5V735.5M281.0 729.5h4.4M281.0 735.5h4.4M286.6 718.6V726.6M284.4 718.6h4.4M284.4 726.6h4.4M290.1 721.3V729.3M287.9 721.3h4.4M287.9 729.3h4.4M293.6 727.6V737.0M291.4 727.6h4.4M291.4 737.0h4.4M297.1 730.2V737.9M294.9 730.2h4.4M294.9 737.9h4.4M300.5 728.3V735.5M298.3 728.3h4.4M298.3 735.5h4.4M304.0 730.5V737.5M301.8 730.5h4.4M301.8 737.5h4.4M307.5 726.9V736.5M305.3 726.9h4.4M305.3 736.5h4.4M310.9 721.3V731.9M308.7 721.3h4.4M308.7 731.9h4.4M314.4 726.4V734.9M312.2 726.4h4.4M312.2 734.9h4.4M317.9 724.4V731.4M315.7 724.4h4.4M315.7 731.4h4.4M321.3 720.9V730.8M319.1 720.9h4.4M319.1 730.8h4.4M324.8 715.1V723.0M322.6 715.1h4.4M322.6 723.0h4.4M328.3 719.5V726.4M326.1 719.5h4.4M326.1 726.4h4.4M331.7 727.2V733.7M329.5 727.2h4.4M329.5 733.7h4.4M335.2 727.8V737.6M333.0 727.8h4.4M333.0 737.6h4.4M338.7 732.4V742.4M336.5 732.4h4.4M336.5 742.4h4.4M342.1 729.6V738.7M339.9 729.6h4.4M339.9 738.7h4.4M345.6 726.9V735.1M343.4 726.9h4.4M343.4 735.1h4.4M349.1 730.0V738.7M346.9 730.0h4.4M346.9 738.7h4.4M352.5 736.8V743.8M350.3 736.8h4.4M350.3 743.8h4.4M356.0 732.3V743.0M353.8 732.3h4.4M353.8 743.0h4.4M359.5 733.3V741.0M357.3 733.3h4.4M357.3 741.0h4.4M363.0 732.6V741.7M360.8 732.6h4.4M360.8 741.7h4.4M366.4 734.8V744.8M364.2 734.8h4.4M364.2 744.8h4.4M369.9 731.3V741.3M367.7 731.3h4.4M367.7 741.3h4.4M373.4 739.2V747.4M371.2 739.2h4.4M371.2 747.4h4.4M376.8 744.3V751.7M374.6 744.3h4.4M374.6 751.7h4.4M380.3 742.5V751.1M378.1 742.5h4.4M378.1 751.1h4.4M383.8 747.9V754.4M381.6 747.9h4.4M381.6 754.4h4.4M387.2 745.9V756.0M385.0 745.9h4.4M385.0 756.0h4.4M390.7 743.0V750.6M388.5 743.0h4.4M388.5 750.6h4.4M394.2 740.1V750.2M392.0 740.1h4.4M392.0 750.2h4.4M397.6 754.0V761.3M395.4 754.0h4.4M395.4 761.3h4.4M401.1 749.9V757.7M398.9 749.9h4.4M398.9 757.7h4.4M404.6 744.7V751.8M402.4 744.7h4.4M402.4 751.8h4.4M408.0 742.1V750.1M405.8 742.1h4.4M405.8 750.1h4.4M411.5 739.2V746.0M409.3 739.2h4.4M409.3 746.0h4.4M415.0 744.3V750.2M412.8 744.3h4.4M412.8 750.2h4.4M418.5 739.4V748.9M416.3 739.4h4.4M416.3 748.9h4.4M421.9 743.3V750.6M419.7 743.3h4.4M419.7 750.6h4.4M425.4 732.0V739.1M423.2 732.0h4.4M423.2 739.1h4.4M428.9 738.5V745.9M426.7 738.5h4.4M426.7 745.9h4.4M432.3 739.0V747.3M430.1 739.0h4.4M430.1 747.3h4.4M435.8 731.3V739.3M433.6 731.3h4.4M433.6 739.3h4.4M439.3 727.2V736.3M437.1 727.2h4.4M437.1 736.3h4.4M442.7 729.8V739.0M440.5 729.8h4.4M440.5 739.0h4.4M446.2 733.0V740.7M444.0 733.0h4.4M444.0 740.7h4.4M449.7 732.3V742.8M447.5 732.3h4.4M447.5 742.8h4.4M453.1 724.0V734.2M450.9 724.0h4.4M450.9 734.2h4.4M456.6 731.0V737.2M454.4 731.0h4.4M454.4 737.2h4.4M460.1 727.4V737.4M457.9 727.4h4.4M457.9 737.4h4.4M463.5 726.2V736.7M461.3 726.2h4.4M461.3 736.7h4.4M467.0 732.6V742.4M464.8 732.6h4.4M464.8 742.4h4.4M470.5 734.2V740.8M468.3 734.2h4.4M468.3 740.8h4.4M474.0 722.9V733.0M471.8 722.9h4.4M471.8 733.0h4.4M477.4 722.5V731.6M475.2 722.5h4.4M475.2 731.6h4.4M480.9 732.9V738.8M478.7 732.9h4.4M478.7 738.8h4.4M484.4 725.2V731.1M482.2 725.2h4.4M482.2 731.1h4.4M487.8 718.1V728.8M485.6 718.1h4.4M485.6 728.8h4.4M491.3 724.7V733.9M489.1 724.7h4.4M489.1 733.9h4.4M494.8 726.7V733.8M492.6 726.7h4.4M492.6 733.8h4.4M498.2 734.5V740.9M496.0 734.5h4.4M496.0 740.9h4.4M501.7 733.1V739.7M499.5 733.1h4.4M499.5 739.7h4.4M505.2 728.7V735.8M503.0 728.7h4.4M503.0 735.8h4.4M508.6 736.6V746.4M506.4 736.6h4.4M506.4 746.4h4.4M512.1 740.6V748.2M509.9 740.6h4.4M509.9 748.2h4.4M515.6 738.0V744.6M513.4 738.0h4.4M513.4 744.6h4.4M519.0 739.2V749.7M516.8 739.2h4.4M516.8 749.7h4.4M522.5 736.9V746.8M520.3 736.9h4.4M520.3 746.8h4.4M526.0 747.5V754.2M523.8 747.5h4.4M523.8 754.2h4.4M529.4 743.1V753.5M527.2 743.1h4.4M527.2 753.5h4.4M532.9 740.7V749.6M530.7 740.7h4.4M530.7 749.6h4.4M536.4 740.3V750.1M534.2 740.3h4.4M534.2 750.1h4.4M539.9 735.0V744.2M537.7 735.0h4.4M537.7 744.2h4.4M543.3 752.1V762.5M541.1 752.1h4.4M541.1 762.5h4.4M546.8 748.0V757.8M544.6 748.0h4.4M544.6 757.8h4.4M550.3 745.0V755.1M548.1 745.0h4.4M548.1 755.1h4.4M553.7 748.2V755.1M551.5 748.2h4.4M551.5 755.1h4.4M557.2 739.0V748.4M555.0 739.0h4.4M555.0 748.4h4.4M560.7 743.3V751.9M558.5 743.3h4.4M558.5 751.9h4.4M564.1 728.2V737.8M561.9 728.2h4.4M561.9 737.8h4.4M567.6 737.1V745.1M565.4 737.1h4.4M565.4 745.1h4.4M571.1 737.8V748.2M568.9 737.8h4.4M568.9 748.2h4.4M574.5 729.5V738.2M572.3 729.5h4.4M572.3 738.2h4.4M578.0 736.0V743.2M575.8 736.0h4.4M575.8 743.2h4.4M581.5 744.8V751.8M579.3 744.8h4.4M579.3 751.8h4.4M584.9 740.2V746.8M582.7 740.2h4.4M582.7 746.8h4.4M588.4 729.2V737.5M586.2 729.2h4.4M586.2 737.5h4.4M591.9 724.5V735.0M589.7 724.5h4.4M589.7 735.0h4.4M595.4 741.7V755.7M593.2 741.7h4.4M593.2 755.7h4.4M598.8 747.2V758.5M596.6 747.2h4.4M596.6 758.5h4.4M602.3 744.7V758.9M600.1 744.7h4.4M600.1 758.9h4.4M605.8 738.0V752.2M603.6 738.0h4.4M603.6 752.2h4.4M609.2 734.4V749.1M607.0 734.4h4.4M607.0 749.1h4.4M612.7 734.1V751.5M610.5 734.1h4.4M610.5 751.5h4.4M616.2 722.5V732.6M614.0 722.5h4.4M614.0 732.6h4.4M619.6 715.6V732.8M617.4 715.6h4.4M617.4 732.8h4.4M623.1 719.9V733.9M620.9 719.9h4.4M620.9 733.9h4.4M626.6 729.5V744.3M624.4 729.5h4.4M624.4 744.3h4.4M630.0 732.2V747.9M627.8 732.2h4.4M627.8 747.9h4.4M633.5 734.5V751.7M631.3 734.5h4.4M631.3 751.7h4.4M637.0 714.2V727.4M634.8 714.2h4.4M634.8 727.4h4.4M640.4 721.4V735.0M638.2 721.4h4.4M638.2 735.0h4.4M643.9 728.6V746.8M641.7 728.6h4.4M641.7 746.8h4.4M647.4 736.0V746.6M645.2 736.0h4.4M645.2 746.6h4.4M650.8 716.7V732.2M648.6 716.7h4.4M648.6 732.2h4.4M654.3 714.4V729.8M652.1 714.4h4.4M652.1 729.8h4.4M657.8 722.0V732.2M655.6 722.0h4.4M655.6 732.2h4.4M661.3 717.1V732.3M659.1 717.1h4.4M659.1 732.3h4.4M664.7 710.1V725.9M662.5 710.1h4.4M662.5 725.9h4.4M668.2 703.6V721.6M666.0 703.6h4.4M666.0 721.6h4.4M671.7 709.3V722.2M669.5 709.3h4.4M669.5 722.2h4.4M675.1 713.3V731.7M672.9 713.3h4.4M672.9 731.7h4.4M678.6 715.2V729.6M676.4 715.2h4.4M676.4 729.6h4.4M682.1 718.1V732.3M679.9 718.1h4.4M679.9 732.3h4.4M685.5 710.7V728.4M683.3 710.7h4.4M683.3 728.4h4.4M689.0 714.4V724.7M686.8 714.4h4.4M686.8 724.7h4.4M692.5 718.9V735.0M690.3 718.9h4.4M690.3 735.0h4.4M695.9 724.3V739.6M693.7 724.3h4.4M693.7 739.6h4.4M699.4 721.0V733.9M697.2 721.0h4.4M697.2 733.9h4.4M702.9 732.4V749.8M700.7 732.4h4.4M700.7 749.8h4.4M706.3 733.6V746.7M704.1 733.6h4.4M704.1 746.7h4.4M709.8 728.5V742.5M707.6 728.5h4.4M707.6 742.5h4.4M713.3 724.5V739.0M711.1 724.5h4.4M711.1 739.0h4.4M716.8 719.0V735.6M714.6 719.0h4.4M714.6 735.6h4.4M720.2 719.6V731.4M718.0 719.6h4.4M718.0 731.4h4.4M723.7 735.1V748.8M721.5 735.1h4.4M721.5 748.8h4.4M727.2 722.3V736.0M725.0 722.3h4.4M725.0 736.0h4.4M730.6 726.4V741.1M728.4 726.4h4.4M728.4 741.1h4.4M734.1 728.9V746.0M731.9 728.9h4.4M731.9 746.0h4.4M737.6 735.0V747.5M735.4 735.0h4.4M735.4 747.5h4.4M741.0 720.7V737.8M738.8 720.7h4.4M738.8 737.8h4.4" stroke="#a3c3e6" stroke-width="0.8" fill="none"/>
<path d="M81.7 733.4L84.2 745.1L86.3 752.6L89.2 750.9L91.7 743.4L95.0 740.9L98.4 740.1L102.5 740.9L106.4 744.3L109.2 739.2L112.6 737.6L115.9 734.2L118.7 735.1L121.7 727.6L124.7 730.1L127.6 720.9L130.4 725.1L133.4 737.6L136.4 731.7L139.3 733.4L142.1 724.2L144.3 731.7L146.8 741.7L149.3 736.7L152.1 723.4L154.8 714.2L157.6 728.4L160.1 735.1L162.6 727.6L166.0 733.4L169.3 742.6L172.1 735.9L175.1 728.4L178.1 735.1L181.0 737.6L184.3 736.7L187.7 738.4L191.0 736.7L194.3 740.9L197.7 742.6L198.3 743.4L201.7 733.4L205.0 736.7L208.4 741.7L211.7 731.7L214.2 729.2L217.5 737.6L220.9 734.2L223.4 729.2L226.7 735.1L229.7 736.7L232.6 745.1L235.4 733.4L238.4 739.2L241.4 745.1L244.2 745.1L247.6 745.1L250.9 739.2L253.4 729.2L255.9 743.4L259.3 741.7L261.8 740.1L265.4 749.2L268.4 745.1L270.9 743.4L274.3 747.6L276.8 753.4L279.3 745.9L282.6 743.4L286.0 745.1L289.3 743.4L292.6 738.4L295.1 733.4L298.1 727.6L301.0 735.9L304.3 731.7L307.7 730.9L310.2 731.7L313.2 735.1L316.0 730.9L318.3 728.4L321.7 726.7L324.7 730.1L328.4 730.1L331.7 730.9L334.7 729.2L337.5 733.4L340.0 734.2L343.0 729.2L345.9 735.1L349.2 742.6L352.6 740.9L355.1 736.7L358.1 735.9L360.9 737.6L364.2 738.4L367.1 750.1L369.7 737.6L372.6 740.1L375.4 743.4L378.4 735.9L381.8 741.7L385.1 740.9L388.4 739.2L391.8 739.2L395.1 739.2L398.1 743.4L400.1 749.2L402.6 738.4L405.1 749.2L408.1 746.7L411.0 743.4L414.3 747.6L417.6 745.1L421.0 744.2L424.3 744.2L427.1 743.4L430.2 745.9L433.2 740.1L436.0 734.2L438.3 737.6L441.7 739.2L445.0 740.9L448.4 735.1L451.7 739.2L455.0 740.1L458.4 736.7L461.7 730.1L465.0 729.2L468.4 734.2L471.7 730.1L474.7 725.9L477.6 735.9L480.9 733.4L483.7 728.4L486.7 720.9L490.1 725.9L493.4 725.0L496.4 731.7L499.3 733.4L501.8 733.4L504.8 738.4L507.6 727.6L510.1 738.4L513.1 739.2L515.9 731.7L518.8 737.6L521.8 740.9L525.1 738.4L528.5 743.4L531.8 738.4L534.3 735.1L537.1 740.1L540.1 731.7L543.5 737.6L546.8 740.9L550.2 741.7L553.5 738.4L556.8 735.1L558.3 732.6L561.3 734.2L564.2 731.7L567.5 743.4L570.9 747.6L573.4 736.7L575.9 739.2L579.2 736.7L582.0 745.1L585.0 747.6L588.0 738.4L590.9 734.2L594.2 739.2L597.6 736.7L600.4 745.1L603.4 747.6L606.4 752.6L609.2 749.2L612.6 743.4L615.4 738.4L618.4 745.9L621.8 746.7L625.1 744.2L628.4 743.4L630.9 738.4L634.3 745.9L637.6 746.7L640.9 746.7L645.1 747.6L648.1 732.6L651.0 735.9L653.8 744.2L656.8 730.1L659.8 740.1L663.0 737.4L665.9 735.6L668.9 739.2L671.9 740.4L674.9 729.7L677.8 736.8L681.2 741.6L684.4 729.7L687.1 725.5L689.7 737.4L692.7 736.8L695.6 730.9L698.6 726.1L701.6 732.1L704.6 732.7L707.5 733.3L710.5 732.7L713.5 727.3L716.4 730.9L719.4 727.3L722.4 734.5L725.4 729.1L728.3 733.9L731.3 731.5L734.6 725.0L737.8 733.3L740.8 740.4L743.8 733.3" stroke="#000" stroke-width="2.4" fill="none" stroke-linejoin="round" stroke-linecap="round"/>
<path d="M82.0 726.7L84.2 738.4L86.3 747.6L88.7 741.7L91.7 720.1L94.7 709.2L97.5 715.0L100.9 706.7L103.7 706.7L106.4 695.9L109.2 720.1L112.0 712.5L115.1 715.0L118.4 698.4L121.4 711.7L124.7 725.1L127.6 715.0L130.4 705.9L133.4 720.1L136.4 711.7L139.3 700.9L142.1 708.4L144.3 717.6L146.8 728.4L150.1 721.7L152.6 713.4L154.8 706.7L157.6 723.4L160.1 737.6L163.5 713.4L166.5 725.9L169.3 735.1L172.6 745.1L175.1 738.4L178.5 746.8L181.5 720.1L184.3 736.7L187.7 751.8L190.5 725.9L193.5 737.6L196.0 730.1L198.3 730.1L201.7 741.7L205.0 735.1L208.4 720.0L211.7 741.7L215.0 740.1L218.4 739.2L220.9 733.4L223.4 727.6L226.4 740.9L229.7 732.6L232.6 741.7L235.4 740.1L238.1 732.6L240.9 743.4L243.4 747.6L246.4 737.6L248.7 725.9L250.9 731.7L253.4 745.9L256.4 729.2L259.3 715.0L262.1 712.5L264.8 726.7L267.6 734.2L270.9 730.9L273.4 740.1L276.8 741.7L280.1 740.1L283.5 731.7L286.5 722.5L289.3 725.0L291.8 725.9L294.8 736.7L297.6 733.4L301.0 731.7L304.3 734.2L307.1 732.6L310.2 725.0L313.2 731.7L316.0 729.2L318.3 727.6L321.3 725.9L324.2 719.2L327.0 718.4L330.0 729.2L333.4 731.7L336.4 733.4L339.7 739.2L342.5 733.4L345.4 730.9L348.4 732.6L351.7 740.9L355.1 738.4L358.1 735.9L360.9 738.4L363.7 736.7L366.7 740.1L369.7 735.9L372.6 741.7L375.4 747.6L378.4 748.4L381.4 745.9L384.8 753.4L388.1 750.1L391.4 745.9L394.3 745.1L396.8 756.8L399.3 759.3L401.8 751.7L405.1 747.6L408.5 745.9L411.5 742.6L414.8 747.6L417.6 741.7L420.5 750.1L423.5 743.4L426.5 730.9L429.8 746.7L432.7 742.6L435.5 735.9L438.3 730.1L441.3 735.1L444.7 733.4L448.0 740.9L450.9 735.1L453.4 728.4L456.4 734.2L459.7 732.6L463.0 730.9L466.4 734.2L468.9 747.6L471.4 731.7L474.2 727.6L477.1 725.9L480.1 736.7L483.1 733.4L485.9 721.7L488.7 724.2L491.7 730.1L494.7 730.1L498.1 737.6L500.9 739.2L503.8 729.2L506.8 735.9L510.1 745.9L513.4 743.4L516.8 740.1L519.8 745.9L522.6 741.7L526.0 750.9L528.8 750.1L531.8 741.7L534.8 750.9L537.6 740.9L540.5 739.2L543.5 758.4L546.5 753.4L549.3 748.4L552.7 754.3L556.0 745.9L558.3 741.7L561.3 749.2L564.2 732.6L567.0 740.1L570.0 745.1L573.4 738.4L575.9 728.4L578.4 741.7L581.4 748.4L585.0 743.4L588.4 733.4L591.4 725.9L594.2 748.4L597.6 749.2L600.4 757.6L603.4 748.4L606.4 744.2L609.2 741.7L612.1 747.6L615.1 723.4L618.1 735.1L621.4 711.7L624.3 737.6L627.1 736.7L630.1 740.1L633.1 746.7L635.9 721.7L638.8 719.2L641.4 733.4L644.3 738.4L646.8 744.2L649.3 731.7L651.8 720.0L654.8 722.5L657.6 727.6L660.1 720.9L662.4 728.5L665.3 715.4L668.3 712.5L671.3 714.9L674.3 722.0L677.2 723.8L680.2 720.8L683.2 727.9L685.5 719.6L687.9 717.8L690.9 722.6L693.9 730.9L696.2 732.1L699.0 725.5L701.6 738.0L704.6 745.2L707.5 736.8L710.5 735.1L713.5 731.5L716.4 728.5L719.4 718.4L722.7 746.9L725.4 733.3L728.7 725.5L731.9 739.2L734.9 736.8L737.8 741.6L740.8 728.5L743.8 738.0" stroke="#6fa3dc" stroke-width="2.4" fill="none" stroke-linejoin="round" stroke-linecap="round"/>
<rect x="78.60" y="642.6" width="2.3" height="174.14999999999998" fill="#000"/>
<rect x="79.10" y="814.6" width="671.00" height="12.699999999999955" fill="#000"/>
<rect x="78.60" y="814.6" width="2" height="2.3" fill="#000"/>
<rect x="80.50" y="816.90" width="81.80" height="9.05" fill="#fff"/>
<rect x="245.21" y="816.90" width="83.32" height="9.05" fill="#fff"/>
<rect x="412.55" y="816.90" width="82.21" height="9.05" fill="#fff"/>
<rect x="579.48" y="816.90" width="82.21" height="9.05" fill="#fff"/>
<rect x="72.70" y="642.6" width="6.5" height="1.8" fill="#000"/>
<text x="68.3" y="646.3" font-size="11.7" font-weight="bold" fill="#111" stroke="#111" stroke-width="0.3" text-anchor="end" >0.95</text>
<rect x="72.70" y="676.8000000000001" width="6.5" height="1.8" fill="#000"/>
<text x="68.3" y="680.5" font-size="11.7" font-weight="bold" fill="#111" stroke="#111" stroke-width="0.3" text-anchor="end" >0.90</text>
<rect x="72.70" y="711.5" width="6.5" height="1.8" fill="#000"/>
<text x="68.3" y="715.1999999999999" font-size="11.7" font-weight="bold" fill="#111" stroke="#111" stroke-width="0.3" text-anchor="end" >0.85</text>
<rect x="72.70" y="745.4" width="6.5" height="1.8" fill="#000"/>
<text x="68.3" y="749.0999999999999" font-size="11.7" font-weight="bold" fill="#111" stroke="#111" stroke-width="0.3" text-anchor="end" >0.80</text>
<rect x="72.70" y="780.1" width="6.5" height="1.8" fill="#000"/>
<text x="68.3" y="783.8" font-size="11.7" font-weight="bold" fill="#111" stroke="#111" stroke-width="0.3" text-anchor="end" >0.75</text>
<rect x="72.70" y="814.8000000000001" width="6.5" height="1.8" fill="#000"/>
<text x="68.3" y="818.5" font-size="11.7" font-weight="bold" fill="#111" stroke="#111" stroke-width="0.3" text-anchor="end" >0.70</text>
<text x="0" y="0" font-size="13.6" font-weight="bold" fill="#111" stroke="#111" stroke-width="0.3" text-anchor="middle" transform="translate(37.3,729.5) rotate(-90)">RER</text>
<text x="0.2" y="643.4" font-size="25" font-weight="bold" fill="#1a1a1a" stroke="#1a1a1a" stroke-width="0.3" text-anchor="start" >D</text>
<text x="164.0" y="841.9" font-size="14.5" font-weight="bold" fill="#1a1a1a" stroke="#1a1a1a" stroke-width="0.3" text-anchor="middle" >Day1</text>
<text x="330.0" y="841.9" font-size="14.5" font-weight="bold" fill="#1a1a1a" stroke="#1a1a1a" stroke-width="0.3" text-anchor="middle" >Day2</text>
<text x="497.2" y="841.9" font-size="14.5" font-weight="bold" fill="#1a1a1a" stroke="#1a1a1a" stroke-width="0.3" text-anchor="middle" >Day3</text>
<text x="661.8" y="841.9" font-size="14.5" font-weight="bold" fill="#1a1a1a" stroke="#1a1a1a" stroke-width="0.3" text-anchor="middle" >Day4</text>
</g>
<rect x="338.4" y="88.85" width="104.2" height="2.7" fill="#dc1b1f"/>
<rect x="503.2" y="87.65" width="35.9" height="2.7" fill="#dc1b1f"/>
<rect x="580.5" y="66.75" width="18.9" height="2.7" fill="#dc1b1f"/>
<text x="387.8" y="87.3" font-size="20" font-weight="bold" fill="#c8202d" stroke="#c8202d" stroke-width="0.3" text-anchor="middle" >*</text>
<text x="520" y="89.3" font-size="20" font-weight="bold" fill="#c8202d" stroke="#c8202d" stroke-width="0.3" text-anchor="middle" >*</text>
<text x="590.5" y="70.8" font-size="20" font-weight="bold" fill="#c8202d" stroke="#c8202d" stroke-width="0.3" text-anchor="middle" >*</text>
<line x1="639.2" y1="35.2" x2="657.7" y2="35.2" stroke="#6fa3dc" stroke-width="2"/><rect x="645.8" y="32.8" width="4.8" height="4.8" fill="#6fa3dc"/>
<line x1="639.2" y1="47.0" x2="657.7" y2="47.0" stroke="#000" stroke-width="2"/><circle cx="648.2" cy="47.0" r="2.5" fill="#000"/>
<text x="660.4" y="38.1" font-size="8.9" fill="#111" stroke="#111" stroke-width="0.12" textLength="87.4" lengthAdjust="spacingAndGlyphs"><tspan font-style="italic">LysM-Cre:Nrp1</tspan><tspan font-style="italic" font-size="5.1" dy="-3">wt/wt</tspan><tspan dy="3"> HFD</tspan></text>
<text x="660.4" y="49.9" font-size="8.9" fill="#111" stroke="#111" stroke-width="0.12" textLength="84.2" lengthAdjust="spacingAndGlyphs"><tspan font-style="italic">LysM-Cre:Nrp1</tspan><tspan font-style="italic" font-size="5.1" dy="-3">fl/fl</tspan><tspan dy="3">  HFD</tspan></text>
<text x="0.9" y="877.6" font-size="25" font-weight="bold" fill="#1a1a1a" stroke="#1a1a1a" stroke-width="0.3" text-anchor="start" >E</text>
<text x="0" y="0" font-size="14.2" font-weight="bold" fill="#111" stroke="#111" stroke-width="0.3" text-anchor="end" transform="translate(84.4,897.2) scale(1.06,1)">20</text>
<text x="0" y="0" font-size="14.2" font-weight="bold" fill="#111" stroke="#111" stroke-width="0.3" text-anchor="end" transform="translate(84.4,932.9) scale(1.06,1)">15</text>
<text x="0" y="0" font-size="14.2" font-weight="bold" fill="#111" stroke="#111" stroke-width="0.3" text-anchor="end" transform="translate(84.4,968.5) scale(1.06,1)">10</text>
<text x="0" y="0" font-size="14.2" font-weight="bold" fill="#111" stroke="#111" stroke-width="0.3" text-anchor="end" transform="translate(84.4,1004.2) scale(1.06,1)">5</text>
<text x="0" y="0" font-size="14.2" font-weight="bold" fill="#111" stroke="#111" stroke-width="0.3" text-anchor="end" transform="translate(84.4,1039.8) scale(1.06,1)">0</text>
<rect x="99.5" y="932.4" width="21.5" height="104.19999999999993" fill="#fff" stroke="#6fa3dc" stroke-width="1.3"/>
<path d="M110.2 905.6V959.4M104.45 905.6h11.5M104.45 959.4h11.5" stroke="#6fa3dc" stroke-width="1.3" fill="none"/>
<ellipse cx="110.3" cy="896.4" rx="1.55" ry="3.3" fill="#6fa3dc"/>
<ellipse cx="110.2" cy="926.5" rx="1.55" ry="3.3" fill="#6fa3dc"/>
<ellipse cx="111.4" cy="950.5" rx="1.55" ry="3.3" fill="#6fa3dc"/>
<ellipse cx="109.3" cy="954.5" rx="1.55" ry="3.3" fill="#6fa3dc"/>
<rect x="120.8" y="939.7" width="21.799999999999997" height="96.89999999999986" fill="#fff" stroke="#000" stroke-width="1.5"/>
<path d="M131.4 928V952.5M125.65 928h11.5M125.65 952.5h11.5" stroke="#000" stroke-width="1.5" fill="none"/>
<rect x="130.79999999999998" y="918.3" width="3.8" height="4.2" fill="#000"/>
<rect x="128.7" y="922.5" width="3.8" height="4.2" fill="#000"/>
<rect x="128.7" y="935.6" width="3.8" height="4.2" fill="#000"/>
<rect x="130.29999999999998" y="941.1999999999999" width="3.8" height="4.2" fill="#000"/>
<rect x="127.69999999999999" y="946.4" width="3.8" height="4.2" fill="#000"/>
<rect x="131.29999999999998" y="946.9" width="3.8" height="4.2" fill="#000"/>
<rect x="129.5" y="952.4" width="3.8" height="4.2" fill="#000"/>
<rect x="88.3" y="886.8" width="1.8" height="150.59999999999997" fill="#1a1a1a"/>
<rect x="88.3" y="1035.8" width="65.2" height="1.6" fill="#1a1a1a"/>
<rect x="87.0" y="893.6" width="1.6" height="1.2" fill="#1a1a1a"/>
<rect x="87.0" y="929.8" width="1.6" height="1.2" fill="#1a1a1a"/>
<rect x="87.0" y="965.4" width="1.6" height="1.2" fill="#1a1a1a"/>
<rect x="87.0" y="1001.1" width="1.6" height="1.2" fill="#1a1a1a"/>
<text x="0" y="0" font-size="15.4" font-weight="bold" fill="#111" stroke="#111" stroke-width="0.3" text-anchor="middle" transform="translate(43.6,963.5) scale(1.12,1) rotate(-90)">Average of daily food</text>
<text x="0" y="0" font-size="15.4" font-weight="bold" fill="#111" stroke="#111" stroke-width="0.3" text-anchor="middle" transform="translate(62.1,962.6) scale(1.12,1) rotate(-90)">intake (g)</text>
<text x="190.6" y="877.6" font-size="25" font-weight="bold" fill="#1a1a1a" stroke="#1a1a1a" stroke-width="0.3" text-anchor="start" >F</text>
<text x="0" y="0" font-size="14.2" font-weight="bold" fill="#111" stroke="#111" stroke-width="0.3" text-anchor="end" transform="translate(276.9,890.6) scale(1.06,1)">150</text>
<text x="0" y="0" font-size="14.2" font-weight="bold" fill="#111" stroke="#111" stroke-width="0.3" text-anchor="end" transform="translate(276.9,940.3) scale(1.06,1)">100</text>
<text x="0" y="0" font-size="14.2" font-weight="bold" fill="#111" stroke="#111" stroke-width="0.3" text-anchor="end" transform="translate(276.9,990) scale(1.06,1)">50</text>
<text x="0" y="0" font-size="14.2" font-weight="bold" fill="#111" stroke="#111" stroke-width="0.3" text-anchor="end" transform="translate(276.9,1039.7) scale(1.06,1)">0</text>
<rect x="289.3" y="961.7" width="20.899999999999977" height="74.89999999999986" fill="#fff" stroke="#6fa3dc" stroke-width="1.3"/>
<path d="M299.75 941.8V980.4M294.0 941.8h11.5M294.0 980.4h11.5" stroke="#6fa3dc" stroke-width="1.3" fill="none"/>
<ellipse cx="299.6" cy="935.4" rx="1.55" ry="3.3" fill="#6fa3dc"/>
<ellipse cx="299.7" cy="957" rx="1.55" ry="3.3" fill="#6fa3dc"/>
<ellipse cx="300.7" cy="975" rx="1.55" ry="3.3" fill="#6fa3dc"/>
<ellipse cx="299" cy="977.3" rx="1.55" ry="3.3" fill="#6fa3dc"/>
<rect x="310" y="966.8" width="20.600000000000023" height="69.79999999999995" fill="#fff" stroke="#000" stroke-width="1.5"/>
<path d="M319.9 957.8V975.9M314.15 957.8h11.5M314.15 975.9h11.5" stroke="#000" stroke-width="1.5" fill="none"/>
<rect x="319.40000000000003" y="950.1" width="3.8" height="4.2" fill="#000"/>
<rect x="317.40000000000003" y="953.3" width="3.8" height="4.2" fill="#000"/>
<rect x="317.6" y="962.9" width="3.8" height="4.2" fill="#000"/>
<rect x="321.40000000000003" y="966.6" width="3.8" height="4.2" fill="#000"/>
<rect x="315.8" y="970.1999999999999" width="3.8" height="4.2" fill="#000"/>
<rect x="318.1" y="972.6" width="3.8" height="4.2" fill="#000"/>
<rect x="317.1" y="976.1999999999999" width="3.8" height="4.2" fill="#000"/>
<rect x="279.1" y="887.4" width="1.8" height="149.99999999999994" fill="#1a1a1a"/>
<rect x="279.1" y="1035.8" width="61.09999999999999" height="1.6" fill="#1a1a1a"/>
<rect x="277.8" y="887.4" width="1.6" height="1.2" fill="#1a1a1a"/>
<rect x="277.8" y="937.6999999999999" width="1.6" height="1.2" fill="#1a1a1a"/>
<rect x="277.8" y="987.4" width="1.6" height="1.2" fill="#1a1a1a"/>
<text x="0" y="0" font-size="15.4" font-weight="bold" fill="#111" stroke="#111" stroke-width="0.3" text-anchor="middle" transform="translate(227.6,957.5) scale(1.12,1) rotate(-90)">Average of daily energy</text>
<text x="0" y="0" font-size="15.4" font-weight="bold" fill="#111" stroke="#111" stroke-width="0.3" text-anchor="middle" transform="translate(245.7,955.6) scale(1.12,1) rotate(-90)">intake (Kj)</text>
</svg></body></html>
